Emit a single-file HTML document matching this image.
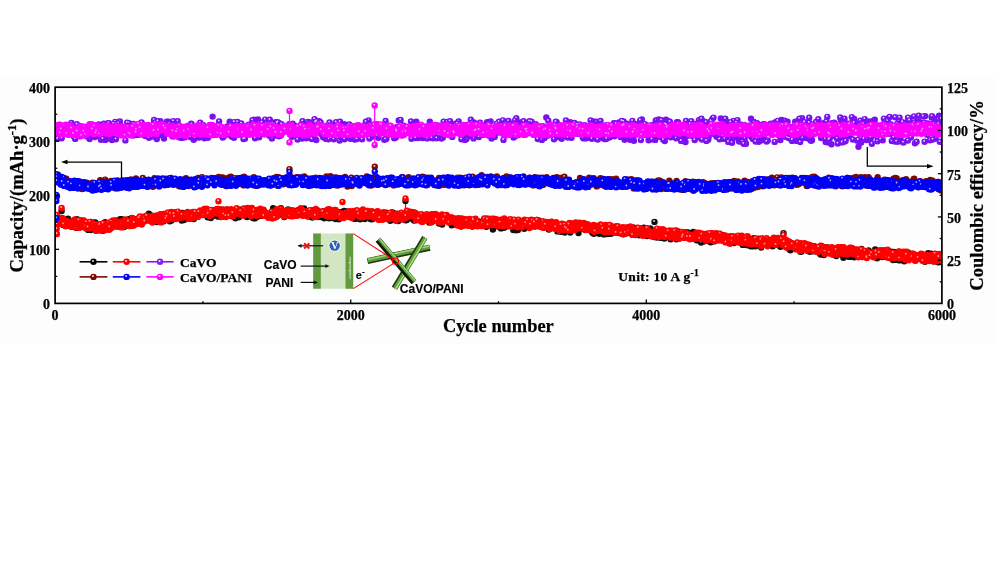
<!DOCTYPE html>
<html><head><meta charset="utf-8">
<style>
html,body{margin:0;padding:0;background:#fff;width:1000px;height:563px;overflow:hidden}
svg{display:block;will-change:transform}
.t{font-family:"Liberation Serif",serif;font-weight:bold;fill:#000;stroke:#000;stroke-width:0.25px}
.s{font-family:"Liberation Sans",Arial,sans-serif;font-weight:bold;fill:#000;stroke:#000;stroke-width:0.15px}
</style></head><body>
<svg width="1000" height="563" viewBox="0 0 1000 563">
<rect width="1000" height="563" fill="#fff"/>
<rect x="0" y="77" width="995" height="267" fill="#fdfdfd"/>
<!-- DATA -->
<defs><clipPath id="pc"><rect x="55.1" y="87.2" width="886.8" height="216.2"/></clipPath></defs>
<g id="plotdata" clip-path="url(#pc)">
<g stroke-linecap="round" fill="none">
<path d="M57.9 134.3h0M71.4 123.0h0M74.7 136.5h0M79.6 133.7h0M86.8 128.4h0M88.0 133.4h0M89.6 139.1h0M92.0 127.9h0M96.3 135.9h0M96.9 129.1h0M98.4 130.4h0M98.7 124.5h0M101.4 127.3h0M111.9 140.1h0M125.4 140.4h0M129.5 125.0h0M133.3 124.0h0M143.0 126.3h0M145.8 133.3h0M151.0 126.7h0M154.0 120.0h0M160.4 121.2h0M161.9 132.2h0M167.8 124.9h0M180.3 130.0h0M185.2 129.5h0M189.0 127.5h0M204.3 138.3h0M219.1 121.5h0M229.7 121.8h0M230.1 134.2h0M231.8 136.5h0M234.2 122.1h0M237.5 122.0h0M240.4 134.2h0M241.3 123.5h0M245.6 131.5h0M248.8 124.8h0M253.2 132.3h0M254.0 119.7h0M255.7 123.5h0M258.0 119.5h0M266.8 129.3h0M268.6 128.1h0M277.2 132.9h0M280.9 135.6h0M294.3 127.3h0M296.5 130.6h0M300.7 131.0h0M302.0 138.5h0M307.2 127.7h0M308.5 137.6h0M314.6 129.9h0M327.9 138.3h0M329.6 122.5h0M337.0 128.1h0M354.4 127.6h0M360.0 134.7h0M360.7 136.1h0M381.6 130.6h0M384.3 139.7h0M385.6 121.0h0M396.6 127.3h0M398.2 126.9h0M398.7 120.4h0M401.4 135.2h0M404.3 127.1h0M414.2 135.9h0M416.9 130.3h0M418.4 138.1h0M422.7 138.1h0M435.2 132.0h0M442.9 137.5h0M443.6 121.7h0M444.8 134.0h0M447.4 121.9h0M448.5 134.1h0M449.2 133.9h0M458.7 121.5h0M465.0 139.9h0M474.0 122.4h0M477.8 127.6h0M486.3 127.1h0M488.7 135.4h0M491.6 138.6h0M494.2 133.7h0M494.7 136.9h0M496.7 123.6h0M499.0 121.8h0M504.2 126.3h0M510.7 131.5h0M520.6 124.2h0M526.5 133.7h0M535.7 124.3h0M546.3 117.4h0M548.3 120.8h0M554.0 139.3h0M561.2 130.9h0M563.1 130.4h0M571.5 137.7h0M573.7 127.6h0M591.9 134.8h0M594.5 130.1h0M596.3 138.7h0M603.0 138.2h0M609.8 137.3h0M610.5 130.9h0M613.9 123.2h0M617.5 132.3h0M620.7 136.9h0M626.4 138.5h0M627.7 136.5h0M632.8 139.0h0M634.1 130.5h0M635.4 124.3h0M635.6 131.2h0M636.9 129.8h0M638.4 124.7h0M647.8 129.8h0M648.6 140.3h0M653.2 138.1h0M657.5 122.1h0M663.6 134.1h0M664.3 134.6h0M676.9 122.2h0M677.5 131.2h0M684.5 126.5h0M691.3 121.2h0M694.4 124.0h0M698.9 120.2h0M703.7 121.4h0M707.3 140.1h0M712.4 119.0h0M716.6 136.7h0M718.9 132.8h0M720.8 118.5h0M727.1 122.4h0M728.3 141.9h0M732.0 142.7h0M759.5 140.9h0M760.2 128.6h0M767.3 127.5h0M769.5 129.4h0M776.9 134.0h0M785.9 134.6h0M786.3 137.1h0M787.0 137.3h0M788.7 138.1h0M790.4 138.8h0M792.1 140.9h0M795.6 137.3h0M796.6 140.9h0M797.0 121.7h0M801.0 130.3h0M802.1 118.1h0M806.6 138.0h0M811.5 132.8h0M813.5 132.0h0M815.1 123.4h0M816.0 121.9h0M819.5 123.8h0M823.5 123.3h0M828.0 142.4h0M828.9 132.9h0M832.0 123.2h0M832.7 128.6h0M836.1 135.9h0M841.8 136.2h0M845.1 141.2h0M848.0 136.2h0M860.4 120.7h0M865.4 128.2h0M868.4 133.9h0M868.7 125.3h0M873.3 120.9h0M885.4 133.6h0M888.5 118.1h0M893.9 136.1h0M895.1 117.3h0M898.3 141.6h0M902.2 141.6h0M914.6 122.6h0M915.0 143.2h0M919.9 124.4h0M925.3 116.1h0M934.9 131.6h0" stroke="#7a12f0" stroke-width="6.4"/>
<path d="M71.0 122.1h0M74.3 135.6h0M79.2 132.8h0M86.4 127.5h0M87.6 132.5h0M89.2 138.2h0M91.6 127.0h0M95.9 135.0h0M96.5 128.2h0M98.0 129.5h0M98.3 123.6h0M101.0 126.4h0M125.0 139.5h0M129.1 124.1h0M132.9 123.1h0M142.6 125.4h0M145.4 132.4h0M153.6 119.1h0M160.0 120.3h0M161.5 131.3h0M167.4 124.0h0M179.9 129.1h0M188.6 126.6h0M203.9 137.4h0M218.7 120.6h0M229.7 133.3h0M231.4 135.6h0M233.8 121.2h0M237.1 121.1h0M240.9 122.6h0M245.2 130.6h0M248.4 123.9h0M252.8 131.4h0M253.6 118.8h0M255.3 122.6h0M276.8 132.0h0M293.9 126.4h0M300.3 130.1h0M301.6 137.6h0M306.8 126.8h0M308.1 136.7h0M314.2 129.0h0M327.5 137.4h0M329.2 121.6h0M336.6 127.2h0M354.0 126.7h0M359.6 133.8h0M360.3 135.2h0M381.2 129.7h0M383.9 138.8h0M385.2 120.1h0M397.8 126.0h0M403.9 126.2h0M416.5 129.4h0M418.0 137.2h0M422.3 137.2h0M434.8 131.1h0M442.5 136.6h0M443.2 120.8h0M444.4 133.1h0M447.0 121.0h0M448.1 133.2h0M458.3 120.6h0M464.6 139.0h0M477.4 126.7h0M485.9 126.2h0M488.3 134.5h0M494.3 136.0h0M496.3 122.7h0M498.6 120.9h0M503.8 125.4h0M520.2 123.3h0M526.1 132.8h0M535.3 123.4h0M547.9 119.9h0M553.6 138.4h0M560.8 130.0h0M562.7 129.5h0M571.1 136.8h0M595.9 137.8h0M602.6 137.3h0M609.4 136.4h0M610.1 130.0h0M613.5 122.3h0M617.1 131.4h0M620.3 136.0h0M626.0 137.6h0M627.3 135.6h0M632.4 138.1h0M633.7 129.6h0M636.5 128.9h0M638.0 123.8h0M647.4 128.9h0M648.2 139.4h0M652.8 137.2h0M663.9 133.7h0M676.5 121.3h0M677.1 130.3h0M690.9 120.3h0M694.0 123.1h0M698.5 119.3h0M703.3 120.5h0M706.9 139.2h0M712.0 118.1h0M718.5 131.9h0M726.7 121.5h0M727.9 141.0h0M731.6 141.8h0M759.1 140.0h0M766.9 126.6h0M776.5 133.1h0M785.9 136.2h0M786.6 136.4h0M788.3 137.2h0M790.0 137.9h0M796.6 120.8h0M800.6 129.4h0M801.7 117.2h0M811.1 131.9h0M813.1 131.1h0M815.6 121.0h0M827.6 141.5h0M828.5 132.0h0M831.6 122.3h0M832.3 127.7h0M835.7 135.0h0M844.7 140.3h0M847.6 135.3h0M860.0 119.8h0M865.0 127.3h0M868.0 133.0h0M872.9 120.0h0M885.0 132.7h0M888.1 117.2h0M894.7 116.4h0M914.2 121.7h0M914.6 142.3h0M924.9 115.2h0M934.5 130.7h0" stroke="#fff" stroke-opacity="0.85" stroke-width="1.8"/>
<path d="M67.8 134.4h0M69.4 134.6h0M73.0 125.6h0M100.9 139.8h0M105.8 135.3h0M106.2 129.2h0M109.6 128.9h0M114.6 124.2h0M115.2 121.9h0M121.1 126.2h0M135.5 126.5h0M142.4 124.5h0M159.7 132.7h0M162.9 128.7h0M164.0 138.6h0M166.8 121.8h0M170.3 128.5h0M172.6 136.4h0M176.1 129.2h0M176.8 125.9h0M177.4 131.2h0M179.5 136.7h0M181.6 137.9h0M182.4 133.5h0M183.9 136.2h0M184.6 137.4h0M193.7 139.7h0M200.2 122.8h0M215.2 128.3h0M222.0 135.7h0M225.2 135.2h0M242.3 134.4h0M242.6 134.9h0M251.6 128.2h0M265.1 119.6h0M267.2 133.0h0M267.8 126.8h0M269.8 119.8h0M279.2 123.1h0M285.1 131.0h0M286.3 130.0h0M287.5 129.4h0M291.4 126.2h0M298.8 137.0h0M304.7 131.2h0M305.3 125.2h0M307.8 121.9h0M318.3 125.1h0M321.8 134.4h0M324.3 127.2h0M326.0 138.9h0M327.4 127.6h0M328.4 139.2h0M330.6 137.9h0M332.2 125.6h0M332.7 132.2h0M339.6 140.6h0M352.0 128.0h0M353.8 126.3h0M367.3 134.2h0M368.6 120.4h0M370.8 132.4h0M371.3 136.4h0M387.0 130.7h0M389.4 128.8h0M405.7 129.2h0M410.2 133.3h0M411.5 138.7h0M420.3 127.7h0M420.9 131.4h0M424.2 134.9h0M428.6 130.1h0M429.8 121.7h0M433.2 138.2h0M434.0 126.2h0M440.1 127.6h0M441.4 138.5h0M451.5 135.4h0M453.6 127.1h0M454.8 128.8h0M462.9 132.4h0M466.0 130.1h0M466.5 139.0h0M470.8 119.8h0M473.6 138.4h0M490.6 121.5h0M493.5 132.5h0M498.5 127.5h0M503.5 139.9h0M513.6 137.5h0M516.3 118.3h0M536.1 130.6h0M537.7 139.1h0M557.4 137.1h0M561.7 138.8h0M568.8 135.4h0M574.5 123.0h0M575.0 132.8h0M579.4 131.0h0M581.6 126.4h0M581.8 128.5h0M589.8 129.2h0M595.9 121.7h0M599.8 126.6h0M605.6 139.1h0M615.0 123.4h0M620.0 127.3h0M624.0 126.7h0M638.2 124.8h0M647.1 135.3h0M649.8 131.4h0M655.8 120.4h0M660.1 122.4h0M664.8 141.1h0M668.2 135.6h0M671.4 133.7h0M672.0 125.9h0M674.3 136.8h0M675.0 127.7h0M683.3 128.5h0M687.6 126.0h0M695.7 130.2h0M697.1 134.7h0M704.9 130.6h0M711.9 131.9h0M714.8 132.2h0M716.3 135.4h0M733.5 120.9h0M738.7 140.7h0M744.5 138.4h0M745.1 142.2h0M749.5 133.2h0M751.5 137.3h0M752.9 139.1h0M754.2 124.1h0M758.7 141.8h0M761.5 140.3h0M763.5 124.3h0M770.7 123.6h0M773.4 131.0h0M775.5 122.3h0M787.6 121.8h0M801.2 124.6h0M803.3 126.1h0M811.0 140.7h0M815.9 129.6h0M820.7 133.2h0M822.0 132.8h0M839.4 137.3h0M842.1 142.4h0M843.7 141.7h0M844.5 118.7h0M846.5 134.2h0M848.2 123.8h0M858.5 146.8h0M862.1 123.0h0M871.8 136.6h0M872.7 131.7h0M876.5 128.7h0M877.3 131.5h0M882.7 140.2h0M884.7 122.5h0M891.8 140.9h0M893.0 132.5h0M894.6 141.4h0M897.1 124.0h0M898.8 120.8h0M914.0 116.4h0M917.5 121.8h0M925.9 130.8h0M926.7 128.4h0M928.5 125.4h0M936.3 131.7h0M937.2 119.4h0M939.1 115.6h0M939.8 141.8h0M941.3 118.9h0" stroke="#7a12f0" stroke-width="6.4"/>
<path d="M67.4 133.5h0M69.0 133.7h0M72.6 124.7h0M100.5 138.9h0M105.4 134.4h0M105.8 128.3h0M109.2 128.0h0M114.2 123.3h0M114.8 121.0h0M120.7 125.3h0M135.1 125.6h0M159.3 131.8h0M166.4 120.9h0M169.9 127.6h0M172.2 135.5h0M175.7 128.3h0M176.4 125.0h0M177.0 130.3h0M179.1 135.8h0M181.2 137.0h0M183.5 135.3h0M199.8 121.9h0M214.8 127.4h0M224.8 134.3h0M251.2 127.3h0M264.7 118.7h0M266.8 132.1h0M267.4 125.9h0M269.4 118.9h0M285.9 129.1h0M287.1 128.5h0M298.4 136.1h0M304.3 130.3h0M307.4 121.0h0M317.9 124.2h0M321.4 133.5h0M323.9 126.3h0M325.6 138.0h0M328.0 138.3h0M330.2 137.0h0M331.8 124.7h0M332.3 131.3h0M339.2 139.7h0M351.6 127.1h0M353.4 125.4h0M366.9 133.3h0M368.2 119.5h0M370.4 131.5h0M386.6 129.8h0M389.0 127.9h0M405.3 128.3h0M409.8 132.4h0M411.1 137.8h0M420.5 130.5h0M423.8 134.0h0M428.2 129.2h0M432.8 137.3h0M433.6 125.3h0M439.7 126.7h0M441.0 137.6h0M451.1 134.5h0M453.2 126.2h0M454.4 127.9h0M462.5 131.5h0M465.6 129.2h0M466.1 138.1h0M470.4 118.9h0M473.2 137.5h0M493.1 131.6h0M498.1 126.6h0M503.1 139.0h0M513.2 136.6h0M515.9 117.4h0M535.7 129.7h0M537.3 138.2h0M557.0 136.2h0M561.3 137.9h0M568.4 134.5h0M574.1 122.1h0M574.6 131.9h0M579.0 130.1h0M581.2 125.5h0M581.4 127.6h0M589.4 128.3h0M595.5 120.8h0M599.4 125.7h0M605.2 138.2h0M619.6 126.4h0M623.6 125.8h0M646.7 134.4h0M649.4 130.5h0M659.7 121.5h0M664.4 140.2h0M667.8 134.7h0M671.0 132.8h0M671.6 125.0h0M674.6 126.8h0M682.9 127.6h0M687.2 125.1h0M695.3 129.3h0M696.7 133.8h0M704.5 129.7h0M714.4 131.3h0M715.9 134.5h0M733.1 120.0h0M738.3 139.8h0M744.1 137.5h0M744.7 141.3h0M751.1 136.4h0M752.5 138.2h0M758.3 140.9h0M761.1 139.4h0M763.1 123.4h0M770.3 122.7h0M775.1 121.4h0M800.8 123.7h0M802.9 125.2h0M810.6 139.8h0M820.3 132.3h0M821.6 131.9h0M841.7 141.5h0M843.3 140.8h0M844.1 117.8h0M846.1 133.3h0M847.8 122.9h0M861.7 122.1h0M871.4 135.7h0M872.3 130.8h0M876.1 127.8h0M882.3 139.3h0M884.3 121.6h0M891.4 140.0h0M892.6 131.6h0M896.7 123.1h0M898.4 119.9h0M913.6 115.5h0M925.5 129.9h0M926.3 127.5h0M928.1 124.5h0M936.8 118.5h0M939.4 140.9h0M940.9 118.0h0" stroke="#fff" stroke-opacity="0.85" stroke-width="1.8"/>
<path d="M57.6 138.8h0M62.7 128.4h0M66.3 125.8h0M67.2 134.1h0M77.5 136.3h0M90.8 135.0h0M97.7 127.5h0M99.6 126.7h0M103.8 123.7h0M105.3 139.9h0M109.2 127.8h0M115.9 139.2h0M119.9 121.5h0M123.2 131.6h0M124.9 134.3h0M130.3 126.0h0M137.3 134.9h0M143.8 125.8h0M145.3 135.9h0M147.6 125.8h0M153.7 123.6h0M155.2 136.3h0M162.2 133.2h0M166.0 134.0h0M168.4 121.6h0M174.2 136.3h0M187.9 130.2h0M193.0 130.2h0M198.0 128.6h0M199.0 137.5h0M206.1 133.0h0M216.9 128.3h0M237.7 134.2h0M243.5 139.0h0M244.9 138.8h0M257.3 126.1h0M263.8 134.0h0M284.0 129.2h0M319.2 121.3h0M319.8 130.8h0M323.2 137.3h0M324.9 137.4h0M335.5 125.1h0M340.9 127.3h0M343.2 137.7h0M346.2 135.6h0M351.0 138.4h0M352.0 134.5h0M356.3 132.0h0M365.4 124.3h0M365.9 121.7h0M372.3 136.5h0M409.7 130.0h0M417.5 134.6h0M420.0 131.9h0M421.7 131.0h0M427.8 126.6h0M429.3 137.2h0M431.8 138.0h0M435.9 133.8h0M437.5 137.9h0M442.4 128.9h0M459.6 129.4h0M461.4 139.3h0M463.5 137.6h0M464.0 128.7h0M470.5 135.9h0M476.1 133.8h0M478.9 137.0h0M480.1 122.6h0M481.3 124.8h0M482.9 134.8h0M487.1 122.3h0M491.9 128.3h0M500.7 125.5h0M502.9 120.4h0M506.8 128.1h0M508.4 121.0h0M512.5 124.1h0M515.2 136.3h0M518.2 135.0h0M521.5 128.3h0M527.9 122.7h0M529.5 121.3h0M531.6 121.7h0M541.9 139.9h0M542.4 133.6h0M552.5 126.3h0M556.7 122.3h0M558.3 134.9h0M567.8 137.6h0M568.3 134.8h0M569.4 129.2h0M570.8 129.6h0M573.1 132.9h0M576.4 126.8h0M590.6 120.5h0M592.6 121.1h0M602.6 135.4h0M614.4 136.3h0M619.2 122.4h0M632.4 120.9h0M640.9 140.1h0M646.7 134.7h0M666.0 119.8h0M669.0 121.4h0M672.9 132.0h0M676.1 138.2h0M679.1 132.7h0M680.3 125.4h0M681.3 135.6h0M685.5 142.0h0M690.1 124.1h0M694.0 126.1h0M704.8 135.9h0M706.1 122.2h0M710.0 124.7h0M715.4 133.5h0M723.1 123.8h0M725.3 118.8h0M725.4 122.5h0M726.6 136.6h0M727.7 124.7h0M729.6 129.6h0M730.6 122.2h0M732.8 138.2h0M734.8 128.4h0M735.0 136.8h0M740.7 138.2h0M746.0 143.7h0M750.0 125.4h0M755.2 133.1h0M755.6 141.6h0M764.3 125.6h0M774.3 123.3h0M775.9 129.0h0M778.3 127.9h0M779.9 131.3h0M784.5 120.7h0M799.4 118.7h0M800.2 142.1h0M809.2 117.8h0M812.0 140.3h0M812.9 134.6h0M824.6 126.6h0M825.0 139.1h0M825.7 141.9h0M834.1 122.6h0M840.9 120.1h0M848.8 135.2h0M850.2 131.7h0M852.4 122.3h0M856.9 140.6h0M864.7 119.1h0M870.2 140.0h0M874.8 119.8h0M875.9 130.2h0M878.0 138.1h0M880.0 138.2h0M880.7 137.0h0M881.9 130.8h0M883.9 118.6h0M886.2 127.1h0M887.6 120.8h0M893.6 137.5h0M899.6 117.6h0M900.3 137.8h0M902.5 122.1h0M905.0 123.1h0M905.7 122.7h0M905.9 130.5h0M907.9 140.5h0M908.0 117.6h0M909.0 118.0h0M910.8 137.5h0M912.4 132.8h0M913.2 133.6h0M919.0 121.6h0M921.3 127.8h0M922.7 128.5h0M924.1 122.8h0M935.5 138.5h0M937.3 126.4h0M940.4 127.9h0" stroke="#7a12f0" stroke-width="6.4"/>
<path d="M57.2 137.9h0M62.3 127.5h0M65.9 124.9h0M66.8 133.2h0M77.1 135.4h0M97.3 126.6h0M99.2 125.8h0M103.4 122.8h0M108.8 126.9h0M115.5 138.3h0M119.5 120.6h0M122.8 130.7h0M124.5 133.4h0M136.9 134.0h0M147.2 124.9h0M153.3 122.7h0M161.8 132.3h0M165.6 133.1h0M173.8 135.4h0M187.5 129.3h0M192.6 129.3h0M197.6 127.7h0M205.7 132.1h0M216.5 127.4h0M237.3 133.3h0M243.1 138.1h0M244.5 137.9h0M256.9 125.2h0M263.4 133.1h0M283.6 128.3h0M318.8 120.4h0M319.4 129.9h0M322.8 136.4h0M324.5 136.5h0M335.1 124.2h0M342.8 136.8h0M345.8 134.7h0M351.6 133.6h0M365.0 123.4h0M365.5 120.8h0M371.9 135.6h0M417.1 133.7h0M419.6 131.0h0M421.3 130.1h0M428.9 136.3h0M431.4 137.1h0M435.5 132.9h0M437.1 137.0h0M461.0 138.4h0M463.6 127.8h0M470.1 135.0h0M475.7 132.9h0M478.5 136.1h0M479.7 121.7h0M480.9 123.9h0M491.5 127.4h0M500.3 124.6h0M502.5 119.5h0M506.4 127.2h0M508.0 120.1h0M512.1 123.2h0M517.8 134.1h0M521.1 127.4h0M529.1 120.4h0M531.2 120.8h0M541.5 139.0h0M542.0 132.7h0M556.3 121.4h0M557.9 134.0h0M567.4 136.7h0M567.9 133.9h0M572.7 132.0h0M576.0 125.9h0M590.2 119.6h0M614.0 135.4h0M632.0 120.0h0M640.5 139.2h0M646.3 133.8h0M668.6 120.5h0M672.5 131.1h0M675.7 137.3h0M678.7 131.8h0M680.9 134.7h0M685.1 141.1h0M689.7 123.2h0M693.6 125.2h0M705.7 121.3h0M715.0 132.6h0M722.7 122.9h0M724.9 117.9h0M726.2 135.7h0M730.2 121.3h0M734.4 127.5h0M734.6 135.9h0M740.3 137.3h0M745.6 142.8h0M754.8 132.2h0M755.2 140.7h0M763.9 124.7h0M773.9 122.4h0M777.9 127.0h0M779.5 130.4h0M784.1 119.8h0M799.0 117.8h0M799.8 141.2h0M808.8 116.9h0M811.6 139.4h0M812.5 133.7h0M824.2 125.7h0M824.6 138.2h0M833.7 121.7h0M840.5 119.2h0M849.8 130.8h0M852.0 121.4h0M864.3 118.2h0M869.8 139.1h0M877.6 137.2h0M879.6 137.3h0M881.5 129.9h0M883.5 117.7h0M885.8 126.2h0M887.2 119.9h0M893.2 136.6h0M899.2 116.7h0M899.9 136.9h0M902.1 121.2h0M905.5 129.6h0M907.5 139.6h0M907.6 116.7h0M908.6 117.1h0M910.4 136.6h0M912.0 131.9h0M912.8 132.7h0M920.9 126.9h0M922.3 127.6h0M923.7 121.9h0M935.1 137.6h0M936.9 125.5h0M940.0 127.0h0" stroke="#fff" stroke-opacity="0.85" stroke-width="1.8"/>
<path d="M73.7 136.3h0M75.2 138.9h0M75.8 133.3h0M76.9 124.3h0M79.3 134.7h0M80.4 136.2h0M82.3 130.3h0M87.1 136.6h0M90.0 124.5h0M104.2 138.8h0M110.3 138.8h0M112.3 134.9h0M122.4 130.7h0M141.0 134.4h0M144.9 134.8h0M149.0 137.8h0M149.3 131.4h0M169.2 124.1h0M175.2 131.1h0M177.7 121.2h0M178.9 137.3h0M186.5 129.7h0M191.2 123.8h0M195.0 137.9h0M197.3 126.7h0M202.4 135.1h0M203.4 125.1h0M208.0 137.7h0M213.5 128.7h0M224.4 134.2h0M234.0 137.7h0M236.3 130.2h0M250.0 126.9h0M252.4 120.3h0M259.6 122.8h0M260.9 126.4h0M264.4 132.4h0M265.5 124.3h0M274.3 127.3h0M275.5 122.2h0M279.1 136.3h0M283.8 129.6h0M285.3 129.2h0M286.6 129.9h0M290.1 126.3h0M292.7 123.7h0M294.9 125.8h0M297.6 139.6h0M301.1 124.7h0M304.1 132.5h0M306.2 138.2h0M312.9 137.0h0M343.0 134.2h0M344.3 124.1h0M346.9 127.2h0M354.8 139.6h0M364.2 125.6h0M369.4 138.6h0M378.3 137.7h0M380.4 132.7h0M382.1 132.1h0M391.5 130.8h0M394.2 138.2h0M402.7 131.3h0M406.8 128.2h0M411.0 121.5h0M413.8 134.8h0M415.6 138.0h0M419.3 132.7h0M423.2 136.6h0M438.9 135.0h0M441.1 135.1h0M452.3 136.9h0M455.5 123.6h0M465.6 125.3h0M468.7 135.0h0M478.2 124.4h0M481.6 130.0h0M506.2 124.2h0M511.8 125.1h0M516.1 133.9h0M518.8 133.7h0M525.7 129.1h0M533.0 132.6h0M543.0 126.3h0M548.2 135.5h0M551.6 130.0h0M555.8 121.8h0M578.5 125.8h0M580.9 132.7h0M583.8 138.4h0M585.4 135.3h0M599.0 129.1h0M604.7 139.0h0M608.4 134.3h0M609.5 134.4h0M626.8 123.8h0M629.7 130.2h0M631.8 129.8h0M643.8 128.1h0M644.5 132.3h0M651.4 125.5h0M653.0 132.6h0M655.2 139.9h0M656.6 120.4h0M657.9 134.7h0M661.1 137.2h0M663.3 139.8h0M666.6 134.2h0M678.5 135.1h0M684.2 141.2h0M686.0 121.0h0M691.6 135.7h0M694.7 140.0h0M696.4 133.4h0M698.1 137.3h0M700.4 122.3h0M702.0 139.6h0M702.7 132.8h0M708.3 139.5h0M708.7 137.1h0M710.8 132.8h0M711.1 121.1h0M717.8 131.6h0M718.5 133.5h0M724.4 138.9h0M736.3 126.7h0M737.5 120.1h0M739.4 141.6h0M742.5 141.7h0M748.3 128.4h0M752.2 135.5h0M753.9 122.0h0M759.2 140.1h0M761.5 124.9h0M765.0 124.4h0M765.6 140.3h0M767.8 140.4h0M768.4 127.8h0M770.2 132.4h0M772.1 124.7h0M774.7 141.9h0M777.7 120.9h0M778.7 134.9h0M780.4 140.1h0M782.4 135.3h0M782.7 131.0h0M788.9 131.2h0M791.4 127.3h0M806.2 127.2h0M809.9 139.4h0M817.1 127.5h0M828.9 139.7h0M829.7 138.5h0M831.5 144.2h0M834.6 136.0h0M837.0 138.5h0M840.2 117.5h0M842.8 134.0h0M849.9 135.8h0M851.3 124.1h0M854.2 119.0h0M856.1 130.9h0M859.9 127.6h0M861.2 142.6h0M863.5 124.0h0M866.4 122.7h0M866.5 140.1h0M867.4 133.5h0M869.3 121.5h0M874.4 133.0h0M877.5 141.2h0M883.4 129.1h0M889.9 133.8h0M896.3 126.0h0M909.4 120.4h0M915.5 124.9h0M916.6 141.7h0M927.2 134.7h0M927.9 123.5h0M931.7 117.6h0M934.1 118.5h0" stroke="#7a12f0" stroke-width="6.4"/>
<path d="M74.8 138.0h0M75.4 132.4h0M76.5 123.4h0M78.9 133.8h0M80.0 135.3h0M81.9 129.4h0M86.7 135.7h0M89.6 123.6h0M103.8 137.9h0M111.9 134.0h0M122.0 129.8h0M140.6 133.5h0M144.5 133.9h0M148.6 136.9h0M148.9 130.5h0M168.8 123.2h0M174.8 130.2h0M177.3 120.3h0M186.1 128.8h0M190.8 122.9h0M194.6 137.0h0M196.9 125.8h0M202.0 134.2h0M203.0 124.2h0M207.6 136.8h0M213.1 127.8h0M224.0 133.3h0M233.6 136.8h0M249.6 126.0h0M252.0 119.4h0M259.2 121.9h0M260.5 125.5h0M264.0 131.5h0M265.1 123.4h0M273.9 126.4h0M278.7 135.4h0M283.4 128.7h0M284.9 128.3h0M286.2 129.0h0M289.7 125.4h0M292.3 122.8h0M294.5 124.9h0M297.2 138.7h0M300.7 123.8h0M305.8 137.3h0M342.6 133.3h0M346.5 126.3h0M354.4 138.7h0M363.8 124.7h0M369.0 137.7h0M377.9 136.8h0M380.0 131.8h0M381.7 131.2h0M391.1 129.9h0M393.8 137.3h0M402.3 130.4h0M406.4 127.3h0M410.6 120.6h0M413.4 133.9h0M415.2 137.1h0M418.9 131.8h0M422.8 135.7h0M438.5 134.1h0M440.7 134.2h0M451.9 136.0h0M455.1 122.7h0M468.3 134.1h0M481.2 129.1h0M505.8 123.3h0M511.4 124.2h0M515.7 133.0h0M525.3 128.2h0M532.6 131.7h0M542.6 125.4h0M551.2 129.1h0M555.4 120.9h0M578.1 124.9h0M580.5 131.8h0M583.4 137.5h0M585.0 134.4h0M608.0 133.4h0M609.1 133.5h0M626.4 122.9h0M643.4 127.2h0M644.1 131.4h0M651.0 124.6h0M652.6 131.7h0M656.2 119.5h0M657.5 133.8h0M660.7 136.3h0M662.9 138.9h0M685.6 120.1h0M691.2 134.8h0M694.3 139.1h0M696.0 132.5h0M697.7 136.4h0M700.0 121.4h0M701.6 138.7h0M702.3 131.9h0M707.9 138.6h0M710.4 131.9h0M710.7 120.2h0M717.4 130.7h0M718.1 132.6h0M724.0 138.0h0M735.9 125.8h0M737.1 119.2h0M742.1 140.8h0M747.9 127.5h0M751.8 134.6h0M753.5 121.1h0M761.1 124.0h0M764.6 123.5h0M765.2 139.4h0M767.4 139.5h0M768.0 126.9h0M769.8 131.5h0M774.3 141.0h0M777.3 120.0h0M778.3 134.0h0M780.0 139.2h0M788.5 130.3h0M791.0 126.4h0M805.8 126.3h0M816.7 126.6h0M828.5 138.8h0M829.3 137.6h0M834.2 135.1h0M836.6 137.6h0M839.8 116.6h0M842.4 133.1h0M849.5 134.9h0M850.9 123.2h0M853.8 118.1h0M855.7 130.0h0M859.5 126.7h0M863.1 123.1h0M866.1 139.2h0M877.1 140.3h0M883.0 128.2h0M889.5 132.9h0M895.9 125.1h0M909.0 119.5h0M915.1 124.0h0M916.2 140.8h0M926.8 133.8h0M931.3 116.7h0M933.7 117.6h0" stroke="#fff" stroke-opacity="0.85" stroke-width="1.8"/>
<path d="M62.1 126.5h0M64.0 134.3h0M64.8 129.6h0M69.3 125.0h0M82.1 133.2h0M84.2 126.6h0M85.5 129.8h0M94.8 137.1h0M95.8 130.3h0M100.1 126.7h0M102.8 138.9h0M108.1 123.1h0M113.5 123.9h0M117.0 124.8h0M118.3 123.2h0M118.7 133.7h0M127.1 122.8h0M129.0 123.3h0M134.5 128.4h0M138.5 126.0h0M140.6 132.9h0M152.1 136.5h0M155.1 122.6h0M156.8 139.0h0M159.1 135.2h0M187.6 126.0h0M191.6 124.3h0M202.0 127.4h0M208.7 135.4h0M214.3 129.6h0M215.0 126.5h0M222.8 137.6h0M223.3 136.9h0M227.5 126.4h0M235.6 126.5h0M247.8 130.2h0M253.3 123.4h0M256.5 129.6h0M258.6 136.6h0M271.9 138.6h0M272.4 123.7h0M277.0 123.0h0M277.8 122.3h0M281.5 124.3h0M282.7 131.0h0M289.2 124.1h0M292.9 125.4h0M303.3 123.7h0M311.8 139.1h0M314.5 119.1h0M315.4 122.4h0M316.3 140.0h0M316.6 121.3h0M322.6 128.1h0M323.9 136.4h0M338.9 130.5h0M341.3 137.6h0M344.5 139.2h0M348.3 125.9h0M349.4 124.5h0M350.4 138.8h0M355.8 127.3h0M358.1 126.3h0M374.4 129.1h0M376.8 135.4h0M386.4 138.8h0M395.8 137.5h0M400.6 119.9h0M403.6 125.6h0M426.1 135.8h0M430.7 126.8h0M435.1 127.1h0M436.6 138.2h0M437.9 125.4h0M446.0 124.8h0M460.1 133.9h0M472.4 123.1h0M475.5 131.2h0M492.9 131.8h0M497.2 132.5h0M505.5 124.2h0M514.8 120.6h0M527.4 131.0h0M540.2 127.8h0M541.1 131.8h0M544.5 137.9h0M545.9 129.8h0M549.7 133.6h0M555.1 129.8h0M558.8 136.9h0M559.2 131.7h0M565.9 120.5h0M566.1 122.1h0M575.5 129.8h0M577.7 133.7h0M586.5 138.2h0M587.6 136.2h0M590.3 133.2h0M591.8 138.7h0M596.7 125.9h0M597.7 139.6h0M601.5 132.3h0M605.5 125.5h0M608.2 137.6h0M611.4 130.4h0M622.7 133.4h0M628.0 129.7h0M630.9 138.7h0M641.9 119.5h0M654.0 124.7h0M662.1 126.0h0M667.2 136.1h0M667.9 136.3h0M669.9 121.8h0M670.8 137.3h0M681.1 140.9h0M682.7 139.4h0M688.5 128.9h0M692.7 130.1h0M701.4 118.8h0M709.1 130.2h0M714.0 134.1h0M720.5 138.7h0M721.8 124.0h0M722.2 126.9h0M723.6 122.1h0M736.4 122.7h0M738.2 126.9h0M739.8 136.5h0M741.2 124.6h0M744.4 130.3h0M751.0 118.8h0M756.6 130.0h0M757.7 133.1h0M766.6 141.5h0M771.1 126.3h0M783.7 134.3h0M785.0 128.8h0M792.2 139.9h0M793.5 138.2h0M794.2 131.5h0M795.2 121.7h0M802.4 138.1h0M804.4 130.6h0M807.7 134.1h0M808.0 135.5h0M809.1 122.8h0M818.0 129.7h0M818.3 119.2h0M819.2 126.7h0M821.1 138.0h0M822.7 134.2h0M823.4 132.9h0M826.4 121.4h0M830.5 132.6h0M835.1 123.8h0M838.8 133.9h0M845.6 140.8h0M847.0 128.8h0M851.8 117.1h0M852.8 139.5h0M855.5 123.6h0M863.8 138.9h0M871.9 143.7h0M878.9 128.2h0M880.5 139.3h0M891.6 127.9h0M896.5 141.5h0M900.5 125.8h0M901.2 129.9h0M903.5 142.6h0M911.6 129.2h0M924.6 141.8h0M929.4 129.4h0M930.0 140.2h0M931.0 124.2h0M932.0 116.2h0M933.8 123.8h0M938.6 124.0h0" stroke="#7a12f0" stroke-width="6.4"/>
<path d="M68.9 124.1h0M85.1 128.9h0M95.4 129.4h0M99.7 125.8h0M102.4 138.0h0M107.7 122.2h0M113.1 123.0h0M116.6 123.9h0M117.9 122.3h0M118.3 132.8h0M126.7 121.9h0M128.6 122.4h0M138.1 125.1h0M140.2 132.0h0M151.7 135.6h0M154.7 121.7h0M158.7 134.3h0M191.2 123.4h0M201.6 126.5h0M208.3 134.5h0M213.9 128.7h0M214.6 125.6h0M222.4 136.7h0M222.9 136.0h0M247.4 129.3h0M252.9 122.5h0M256.1 128.7h0M258.2 135.7h0M271.5 137.7h0M272.0 122.8h0M276.6 122.1h0M277.4 121.4h0M281.1 123.4h0M282.3 130.1h0M292.5 124.5h0M302.9 122.8h0M311.4 138.2h0M314.1 118.2h0M315.0 121.5h0M316.2 120.4h0M322.2 127.2h0M323.5 135.5h0M344.1 138.3h0M347.9 125.0h0M349.0 123.6h0M376.4 134.5h0M386.0 137.9h0M395.4 136.6h0M400.2 119.0h0M403.2 124.7h0M425.7 134.9h0M434.7 126.2h0M436.2 137.3h0M437.5 124.5h0M445.6 123.9h0M472.0 122.2h0M475.1 130.3h0M496.8 131.6h0M505.1 123.3h0M514.4 119.7h0M527.0 130.1h0M539.8 126.9h0M540.7 130.9h0M545.5 128.9h0M549.3 132.7h0M554.7 128.9h0M558.8 130.8h0M565.5 119.6h0M575.1 128.9h0M577.3 132.8h0M587.2 135.3h0M589.9 132.3h0M591.4 137.8h0M596.3 125.0h0M597.3 138.7h0M601.1 131.4h0M605.1 124.6h0M611.0 129.5h0M622.3 132.5h0M627.6 128.8h0M630.5 137.8h0M666.8 135.2h0M667.5 135.4h0M669.5 120.9h0M680.7 140.0h0M688.1 128.0h0M692.3 129.2h0M701.0 117.9h0M708.7 129.3h0M720.1 137.8h0M721.4 123.1h0M736.0 121.8h0M737.8 126.0h0M739.4 135.6h0M740.8 123.7h0M756.2 129.1h0M757.3 132.2h0M766.2 140.6h0M770.7 125.4h0M783.3 133.4h0M791.8 139.0h0M793.1 137.3h0M793.8 130.6h0M802.0 137.2h0M807.3 133.2h0M807.6 134.6h0M808.7 121.9h0M817.6 128.8h0M817.9 118.3h0M818.8 125.8h0M820.7 137.1h0M822.3 133.3h0M823.0 132.0h0M826.0 120.5h0M830.1 131.7h0M838.4 133.0h0M845.2 139.9h0M846.6 127.9h0M851.4 116.2h0M852.4 138.6h0M855.1 122.7h0M863.4 138.0h0M871.5 142.8h0M880.1 138.4h0M891.2 127.0h0M896.1 140.6h0M900.1 124.9h0M903.1 141.7h0M911.2 128.3h0M924.2 140.9h0M929.6 139.3h0M930.6 123.3h0M931.6 115.3h0M933.4 122.9h0M938.2 123.1h0" stroke="#fff" stroke-opacity="0.85" stroke-width="1.8"/>
<path d="M56.1 131.6h0M59.7 124.6h0M61.0 132.5h0M61.7 138.3h0M68.3 130.4h0M76.4 133.1h0M78.3 134.4h0M83.1 126.9h0M86.1 127.4h0M88.7 133.3h0M102.6 125.4h0M108.7 123.1h0M119.4 130.1h0M120.9 135.0h0M124.4 130.1h0M128.3 125.8h0M133.3 135.5h0M141.6 122.5h0M151.5 132.1h0M157.8 121.3h0M161.0 126.2h0M166.6 130.5h0M171.8 127.6h0M173.3 121.1h0M181.7 126.6h0M183.1 137.3h0M190.1 137.1h0M196.6 134.5h0M205.4 137.5h0M211.6 128.1h0M212.2 127.2h0M212.6 116.6h0M215.8 127.4h0M217.3 133.0h0M231.3 136.0h0M232.8 136.7h0M255.1 138.2h0M259.2 137.3h0M260.5 124.8h0M261.9 122.5h0M269.4 135.7h0M274.5 131.9h0M276.3 135.5h0M292.0 136.8h0M293.7 131.5h0M299.7 129.1h0M302.5 121.2h0M309.8 122.4h0M320.6 122.5h0M329.5 127.6h0M333.8 139.2h0M336.1 122.2h0M340.0 121.7h0M356.9 139.1h0M362.1 139.3h0M370.3 125.0h0M377.8 129.3h0M379.0 127.7h0M385.4 139.2h0M389.8 134.3h0M397.6 128.4h0M416.3 121.7h0M426.8 129.8h0M427.2 138.4h0M432.5 126.6h0M450.0 121.2h0M450.3 125.5h0M457.4 123.5h0M458.1 127.8h0M467.3 131.4h0M469.5 125.6h0M473.2 124.8h0M475.2 125.7h0M483.9 131.5h0M485.2 134.2h0M488.1 124.5h0M500.4 129.8h0M512.9 126.9h0M517.3 121.9h0M521.7 122.1h0M523.6 121.2h0M526.0 126.3h0M530.9 128.2h0M543.7 132.9h0M560.1 131.7h0M561.9 126.9h0M564.4 133.8h0M570.2 122.2h0M577.4 124.8h0M579.9 124.4h0M582.8 137.6h0M584.6 125.1h0M588.5 135.0h0M593.4 126.5h0M600.5 121.0h0M606.5 138.7h0M616.2 123.9h0M616.7 124.3h0M621.7 120.9h0M623.6 121.5h0M624.6 139.8h0M630.2 139.7h0M633.9 140.8h0M636.3 134.5h0M640.2 120.4h0M645.0 124.1h0M645.7 133.9h0M649.1 137.9h0M651.1 133.7h0M651.9 139.3h0M658.8 119.4h0M661.4 120.2h0M678.0 122.3h0M682.4 127.6h0M687.0 136.1h0M689.2 133.6h0M698.8 124.5h0M706.4 140.9h0M713.5 117.6h0M719.6 139.3h0M730.9 125.4h0M734.2 136.4h0M741.8 128.4h0M743.6 143.7h0M746.6 126.3h0M747.3 135.1h0M748.8 130.2h0M757.0 123.2h0M762.4 138.2h0M763.5 137.4h0M772.8 124.4h0M780.8 137.3h0M781.5 120.0h0M789.9 134.0h0M793.9 127.0h0M797.8 137.3h0M798.5 136.0h0M804.5 122.1h0M805.7 132.9h0M814.3 127.1h0M827.3 116.9h0M833.5 134.8h0M837.5 128.3h0M837.8 143.5h0M854.0 122.7h0M856.4 129.8h0M858.1 139.9h0M859.0 140.7h0M862.9 133.6h0M870.7 137.5h0M885.7 127.6h0M887.3 125.6h0M889.6 116.9h0M890.6 124.3h0M904.4 126.8h0M906.8 129.1h0M910.6 132.7h0M917.5 124.3h0M918.7 115.7h0M920.6 127.6h0M922.3 130.6h0M923.2 116.4h0M932.9 139.5h0" stroke="#7a12f0" stroke-width="6.4"/>
<path d="M55.7 130.7h0M60.6 131.6h0M61.3 137.4h0M67.9 129.5h0M76.0 132.2h0M77.9 133.5h0M82.7 126.0h0M85.7 126.5h0M88.3 132.4h0M102.2 124.5h0M108.3 122.2h0M124.0 129.2h0M132.9 134.6h0M141.2 121.6h0M151.1 131.2h0M157.4 120.4h0M160.6 125.3h0M166.2 129.6h0M171.4 126.7h0M172.9 120.2h0M181.3 125.7h0M189.7 136.2h0M196.2 133.6h0M215.4 126.5h0M216.9 132.1h0M230.9 135.1h0M232.4 135.8h0M254.7 137.3h0M258.8 136.4h0M260.1 123.9h0M261.5 121.6h0M269.0 134.8h0M274.1 131.0h0M275.9 134.6h0M291.6 135.9h0M299.3 128.2h0M302.1 120.3h0M320.2 121.6h0M329.1 126.7h0M333.4 138.3h0M335.7 121.3h0M339.6 120.8h0M356.5 138.2h0M361.7 138.4h0M369.9 124.1h0M377.4 128.4h0M378.6 126.8h0M385.0 138.3h0M389.4 133.4h0M397.2 127.5h0M426.8 137.5h0M432.1 125.7h0M449.6 120.3h0M449.9 124.6h0M457.0 122.6h0M457.7 126.9h0M466.9 130.5h0M469.1 124.7h0M472.8 123.9h0M474.8 124.8h0M483.5 130.6h0M484.8 133.3h0M512.5 126.0h0M523.2 120.3h0M525.6 125.4h0M543.3 132.0h0M559.7 130.8h0M577.0 123.9h0M579.5 123.5h0M582.4 136.7h0M584.2 124.2h0M588.1 134.1h0M593.0 125.6h0M600.1 120.1h0M606.1 137.8h0M615.8 123.0h0M616.3 123.4h0M621.3 120.0h0M623.2 120.6h0M635.9 133.6h0M639.8 119.5h0M644.6 123.2h0M650.7 132.8h0M651.5 138.4h0M661.0 119.3h0M682.0 126.7h0M686.6 135.2h0M688.8 132.7h0M698.4 123.6h0M706.0 140.0h0M713.1 116.7h0M719.2 138.4h0M730.5 124.5h0M733.8 135.5h0M741.4 127.5h0M743.2 142.8h0M746.9 134.2h0M748.4 129.3h0M756.6 122.3h0M772.4 123.5h0M780.4 136.4h0M789.5 133.1h0M797.4 136.4h0M798.1 135.1h0M804.1 121.2h0M805.3 132.0h0M826.9 116.0h0M833.1 133.9h0M837.1 127.4h0M837.4 142.6h0M853.6 121.8h0M856.0 128.9h0M857.7 139.0h0M870.3 136.6h0M886.9 124.7h0M889.2 116.0h0M890.2 123.4h0M904.0 125.9h0M910.2 131.8h0M917.1 123.4h0M918.3 114.8h0M920.2 126.7h0M921.9 129.7h0M922.8 115.5h0M932.5 138.6h0" stroke="#fff" stroke-opacity="0.85" stroke-width="1.8"/>
</g>
<g stroke-linecap="round" fill="none">
<path d="M57.0 125.9h0M58.9 127.5h0M60.8 125.3h0M64.5 126.2h0M65.8 124.7h0M66.5 127.6h0M68.6 134.6h0M69.5 134.2h0M70.0 127.7h0M70.7 125.5h0M72.5 132.0h0M73.6 128.5h0M74.3 132.7h0M79.5 128.9h0M84.2 129.3h0M88.8 130.3h0M91.8 124.2h0M102.5 128.4h0M103.0 128.1h0M104.2 126.9h0M109.8 130.3h0M115.1 128.4h0M117.3 126.7h0M122.0 132.1h0M126.0 127.2h0M130.4 135.4h0M131.4 135.1h0M137.2 131.3h0M139.3 131.7h0M141.2 129.4h0M143.5 133.8h0M144.8 129.6h0M145.0 128.6h0M147.9 125.0h0M153.3 130.7h0M159.4 125.7h0M160.0 130.3h0M163.5 127.5h0M164.2 127.8h0M166.1 128.0h0M166.3 127.7h0M170.4 133.6h0M172.3 129.2h0M173.8 127.4h0M176.8 133.5h0M179.0 134.9h0M179.2 125.7h0M180.6 131.8h0M182.9 127.4h0M189.6 131.2h0M190.6 131.7h0M191.7 129.4h0M195.6 129.8h0M197.8 133.6h0M200.0 130.5h0M200.4 129.7h0M200.7 134.5h0M202.7 133.4h0M207.1 130.1h0M211.5 135.0h0M213.2 135.1h0M213.8 127.4h0M220.2 128.5h0M220.6 126.8h0M232.6 134.2h0M234.7 132.4h0M236.4 126.2h0M239.4 134.0h0M240.0 129.2h0M242.1 129.7h0M245.3 132.0h0M249.2 131.0h0M250.7 131.3h0M253.4 124.9h0M253.8 133.7h0M257.5 133.9h0M258.1 127.4h0M260.0 131.7h0M263.0 126.1h0M265.5 134.4h0M271.8 129.2h0M273.2 133.3h0M274.7 126.3h0M281.5 127.1h0M282.5 132.9h0M283.1 127.1h0M285.6 126.4h0M289.5 126.2h0M292.8 131.9h0M302.2 134.6h0M303.4 127.7h0M304.6 135.2h0M305.8 129.3h0M307.8 127.5h0M308.5 134.8h0M310.5 125.9h0M318.0 124.2h0M321.9 130.3h0M323.1 127.6h0M325.9 130.1h0M336.2 134.5h0M339.6 128.0h0M342.7 130.4h0M344.4 129.9h0M348.0 129.6h0M350.5 126.1h0M353.1 126.5h0M354.9 128.8h0M356.7 128.2h0M357.9 129.7h0M361.1 134.7h0M361.8 128.6h0M367.2 130.4h0M367.9 133.8h0M368.6 126.4h0M371.4 128.9h0M376.9 125.4h0M378.8 131.8h0M380.0 133.7h0M385.8 132.2h0M390.0 133.6h0M399.6 134.4h0M401.4 128.0h0M408.9 133.0h0M412.7 129.3h0M415.9 127.8h0M417.3 130.1h0M418.4 127.9h0M425.4 134.7h0M427.2 130.6h0M430.4 130.8h0M431.4 132.5h0M432.8 130.1h0M432.9 125.3h0M436.1 125.9h0M440.8 126.7h0M447.3 131.4h0M452.3 132.1h0M453.3 130.6h0M463.2 124.9h0M466.2 130.8h0M472.0 132.2h0M475.3 125.0h0M476.8 130.9h0M478.3 126.1h0M484.6 129.1h0M486.1 133.2h0M488.6 125.1h0M488.9 127.2h0M489.2 125.6h0M495.5 131.4h0M497.3 128.6h0M497.8 126.7h0M505.9 135.5h0M506.8 129.2h0M507.5 131.7h0M511.4 126.1h0M511.6 129.7h0M514.2 126.5h0M520.1 129.1h0M521.0 128.7h0M528.5 131.7h0M530.1 133.0h0M532.4 131.0h0M537.8 126.0h0M539.0 129.8h0M540.2 133.4h0M544.1 131.5h0M544.5 133.8h0M546.1 129.5h0M547.3 132.7h0M548.5 134.6h0M560.2 129.4h0M561.3 133.1h0M563.2 134.1h0M572.8 130.1h0M585.7 131.0h0M587.9 130.9h0M590.1 133.9h0M590.4 131.1h0M597.6 128.3h0M601.1 131.0h0M603.3 129.3h0M606.9 128.6h0M613.4 127.4h0M614.3 133.8h0M614.8 128.7h0M615.6 128.4h0M619.7 128.5h0M628.1 132.4h0M628.8 126.3h0M636.4 134.1h0M639.3 129.2h0M639.7 130.3h0M642.2 131.5h0M644.3 133.7h0M644.6 127.3h0M646.3 126.8h0M657.1 128.7h0M659.2 128.1h0M659.7 135.0h0M664.5 130.9h0M664.8 128.0h0M665.4 134.6h0M674.0 128.5h0M683.9 132.8h0M686.5 129.8h0M688.0 133.7h0M688.7 130.4h0M692.7 130.3h0M700.0 134.7h0M700.4 129.8h0M702.8 134.3h0M703.3 128.5h0M707.2 132.0h0M710.2 131.1h0M712.9 125.7h0M714.5 130.0h0M717.3 128.7h0M720.1 133.1h0M720.7 130.6h0M724.3 126.0h0M724.9 130.9h0M730.8 128.5h0M744.1 126.0h0M750.0 130.3h0M756.3 124.7h0M758.0 133.9h0M758.8 134.4h0M765.7 124.9h0M768.0 126.9h0M769.8 131.2h0M770.2 126.0h0M770.7 132.6h0M771.3 134.3h0M778.3 125.3h0M779.9 126.5h0M781.8 129.2h0M782.8 131.5h0M787.5 126.9h0M790.3 128.2h0M792.6 130.3h0M793.9 134.1h0M796.3 134.6h0M800.2 132.5h0M801.6 132.1h0M802.3 127.9h0M808.8 133.9h0M810.0 133.1h0M818.9 129.2h0M821.4 128.4h0M823.1 126.9h0M823.6 131.0h0M829.2 124.9h0M831.6 127.9h0M838.8 130.4h0M842.5 133.1h0M843.3 124.6h0M843.9 125.8h0M845.7 129.5h0M847.6 132.3h0M852.3 126.0h0M858.3 127.4h0M859.6 134.3h0M861.4 131.2h0M866.9 128.9h0M868.0 126.2h0M873.2 126.5h0M874.6 134.3h0M876.7 128.2h0M878.0 129.4h0M879.4 129.6h0M880.7 125.1h0M883.9 125.9h0M887.0 129.8h0M887.1 128.7h0M888.4 129.6h0M889.6 129.8h0M897.2 126.0h0M898.8 127.0h0M900.7 134.8h0M903.3 134.6h0M904.1 132.0h0M913.6 129.5h0M915.7 132.1h0M924.5 131.2h0M925.7 129.3h0M930.3 127.0h0M931.1 124.6h0M931.4 133.0h0M936.4 126.2h0M938.9 131.6h0" stroke="#ff00ff" stroke-width="6.4"/>
<path d="M56.6 125.0h0M64.1 125.3h0M66.1 126.7h0M69.1 133.3h0M69.6 126.8h0M73.9 131.8h0M83.8 128.4h0M91.4 123.3h0M102.1 127.5h0M102.6 127.2h0M103.8 126.0h0M114.7 127.5h0M125.6 126.3h0M140.8 128.5h0M143.1 132.9h0M144.4 128.7h0M144.6 127.7h0M163.1 126.6h0M165.7 127.1h0M165.9 126.8h0M170.0 132.7h0M171.9 128.3h0M173.4 126.5h0M176.4 132.6h0M178.8 124.8h0M182.5 126.5h0M191.3 128.5h0M195.2 128.9h0M199.6 129.6h0M200.3 133.6h0M202.3 132.5h0M211.1 134.1h0M219.8 127.6h0M232.2 133.3h0M234.3 131.5h0M241.7 128.8h0M244.9 131.1h0M250.3 130.4h0M253.4 132.8h0M257.7 126.5h0M265.1 133.5h0M271.4 128.3h0M272.8 132.4h0M274.3 125.4h0M282.7 126.2h0M289.1 125.3h0M292.4 131.0h0M301.8 133.7h0M307.4 126.6h0M310.1 125.0h0M317.6 123.3h0M347.6 128.7h0M350.1 125.2h0M352.7 125.6h0M356.3 127.3h0M357.5 128.8h0M361.4 127.7h0M366.8 129.5h0M371.0 128.0h0M378.4 130.9h0M379.6 132.8h0M399.2 133.5h0M401.0 127.1h0M416.9 129.2h0M425.0 133.8h0M431.0 131.6h0M446.9 130.5h0M451.9 131.2h0M465.8 129.9h0M474.9 124.1h0M476.4 130.0h0M477.9 125.2h0M488.2 124.2h0M488.8 124.7h0M495.1 130.5h0M496.9 127.7h0M505.5 134.6h0M511.2 128.8h0M519.7 128.2h0M528.1 130.8h0M532.0 130.1h0M537.4 125.1h0M539.8 132.5h0M544.1 132.9h0M545.7 128.6h0M548.1 133.7h0M559.8 128.5h0M572.4 129.2h0M585.3 130.1h0M587.5 130.0h0M590.0 130.2h0M606.5 127.7h0M613.0 126.5h0M639.3 129.4h0M645.9 125.9h0M658.8 127.2h0M665.0 133.7h0M673.6 127.6h0M683.5 131.9h0M686.1 128.9h0M687.6 132.8h0M688.3 129.5h0M702.9 127.6h0M706.8 131.1h0M709.8 130.2h0M712.5 124.8h0M719.7 132.2h0M720.3 129.7h0M723.9 125.1h0M724.5 130.0h0M730.4 127.6h0M743.7 125.1h0M755.9 123.8h0M765.3 124.0h0M769.4 130.3h0M769.8 125.1h0M777.9 124.4h0M779.5 125.6h0M781.4 128.3h0M789.9 127.3h0M799.8 131.6h0M821.0 127.5h0M822.7 126.0h0M828.8 124.0h0M842.1 132.2h0M847.2 131.4h0M866.5 128.0h0M872.8 125.6h0M874.2 133.4h0M879.0 128.7h0M886.7 127.8h0M896.8 125.1h0M898.4 126.1h0M915.3 131.2h0M925.3 128.4h0M931.0 132.1h0M936.0 125.3h0M938.5 130.7h0" stroke="#fff" stroke-opacity="0.6" stroke-width="1.8"/>
<path d="M58.0 125.0h0M61.5 132.7h0M65.0 133.0h0M65.3 129.1h0M68.1 126.3h0M68.8 129.1h0M71.1 134.4h0M72.3 134.8h0M86.3 134.2h0M93.0 133.8h0M93.5 130.4h0M95.0 133.1h0M97.5 132.2h0M100.4 130.7h0M115.8 129.9h0M123.8 127.2h0M127.1 130.2h0M127.3 127.1h0M128.4 131.8h0M129.0 132.7h0M129.5 133.9h0M131.0 132.2h0M132.2 135.0h0M140.6 134.1h0M146.1 128.9h0M149.0 130.2h0M155.1 133.3h0M161.2 126.2h0M162.7 126.6h0M167.2 133.7h0M170.1 126.0h0M174.8 135.4h0M178.7 127.9h0M179.9 131.6h0M181.6 127.3h0M183.8 128.4h0M185.8 127.0h0M186.4 126.5h0M186.8 135.5h0M187.2 127.8h0M191.1 129.5h0M196.3 126.7h0M196.7 133.1h0M197.0 126.7h0M198.1 125.2h0M202.3 133.0h0M204.5 132.7h0M205.6 130.2h0M208.5 134.2h0M212.4 126.7h0M214.8 127.4h0M216.7 133.2h0M222.0 130.4h0M222.5 131.7h0M224.8 135.0h0M225.4 129.2h0M226.0 128.3h0M226.6 128.4h0M231.3 127.1h0M233.1 127.8h0M233.6 134.8h0M235.8 131.7h0M237.7 133.3h0M245.5 134.3h0M251.9 133.1h0M252.5 131.3h0M252.9 125.9h0M254.5 132.2h0M255.0 125.6h0M257.0 132.1h0M261.4 131.3h0M272.9 125.7h0M278.3 130.1h0M279.2 129.6h0M285.1 130.4h0M287.0 126.1h0M292.1 132.2h0M295.7 130.8h0M299.7 133.7h0M303.1 132.6h0M308.2 129.7h0M311.3 131.0h0M312.6 127.0h0M314.5 133.5h0M316.5 127.1h0M318.9 124.7h0M320.5 128.1h0M322.8 126.5h0M328.6 132.9h0M340.3 131.1h0M342.1 127.2h0M346.1 129.5h0M350.0 134.7h0M353.3 132.3h0M356.1 134.3h0M359.9 131.1h0M360.1 129.2h0M363.2 132.4h0M364.5 128.2h0M371.4 133.1h0M376.5 126.4h0M377.4 124.2h0M384.1 132.7h0M386.0 131.4h0M387.3 128.9h0M388.9 125.8h0M392.8 129.4h0M395.9 134.4h0M397.5 133.1h0M404.2 134.7h0M408.3 132.9h0M419.1 134.0h0M420.7 132.4h0M421.0 124.6h0M425.7 126.5h0M437.6 128.2h0M438.8 126.5h0M440.6 128.7h0M443.8 132.3h0M446.9 124.9h0M448.5 135.0h0M450.0 130.5h0M450.1 131.9h0M461.4 134.6h0M462.0 132.4h0M463.8 131.7h0M465.1 132.0h0M468.6 124.7h0M473.0 132.5h0M474.5 130.6h0M480.3 128.4h0M482.5 128.4h0M483.3 133.2h0M487.4 135.0h0M493.0 129.9h0M493.7 127.9h0M496.8 125.6h0M499.3 126.2h0M499.6 129.4h0M500.6 126.3h0M501.4 133.1h0M503.0 129.9h0M503.4 131.5h0M504.6 126.7h0M505.0 125.9h0M509.0 132.1h0M515.4 125.1h0M529.0 127.8h0M529.4 130.3h0M535.3 125.5h0M541.5 129.8h0M543.0 129.8h0M552.8 125.5h0M553.5 128.1h0M554.7 125.6h0M558.0 132.2h0M561.6 131.3h0M562.9 129.5h0M564.2 132.2h0M566.3 125.7h0M571.8 134.5h0M572.1 125.7h0M575.8 132.5h0M587.4 133.8h0M588.6 126.1h0M594.0 132.2h0M595.8 128.1h0M599.0 126.6h0M599.3 134.6h0M601.1 130.3h0M602.1 132.6h0M603.8 126.6h0M605.7 126.2h0M613.8 133.1h0M616.9 134.0h0M617.4 130.4h0M627.2 132.2h0M630.7 134.7h0M632.3 130.7h0M637.6 134.3h0M641.1 125.9h0M648.2 128.1h0M648.8 126.3h0M656.4 126.8h0M657.8 130.7h0M661.3 133.8h0M662.8 126.6h0M663.5 127.6h0M665.9 133.5h0M668.1 133.7h0M668.8 127.9h0M669.2 135.0h0M675.7 130.0h0M678.7 131.3h0M680.3 132.5h0M682.1 128.3h0M682.4 131.5h0M685.6 131.8h0M690.4 128.1h0M694.6 134.2h0M696.0 131.9h0M703.9 127.4h0M716.0 129.6h0M718.3 129.2h0M725.6 133.7h0M734.8 133.4h0M736.5 131.7h0M737.5 127.9h0M737.8 125.5h0M740.0 128.0h0M742.7 132.0h0M743.0 129.2h0M746.3 127.7h0M746.8 126.8h0M754.7 128.4h0M760.3 127.0h0M762.4 133.1h0M763.2 128.5h0M766.9 132.1h0M769.4 128.4h0M778.0 129.7h0M782.1 133.6h0M782.9 135.1h0M784.9 132.3h0M786.9 125.8h0M787.8 131.9h0M793.0 134.7h0M795.1 132.1h0M795.4 125.5h0M796.5 130.2h0M797.9 125.5h0M799.0 131.2h0M801.1 132.3h0M806.8 127.1h0M808.0 129.4h0M810.8 133.1h0M812.3 125.4h0M813.2 129.5h0M816.8 129.5h0M820.3 131.3h0M824.5 126.0h0M833.2 133.6h0M836.4 129.8h0M836.7 129.0h0M847.0 129.3h0M847.2 128.7h0M850.3 125.9h0M850.6 126.5h0M851.9 131.4h0M853.0 132.6h0M854.8 128.2h0M855.3 130.1h0M862.7 126.7h0M863.8 133.3h0M871.6 127.1h0M876.1 125.0h0M876.5 134.4h0M877.3 126.8h0M884.1 125.2h0M889.9 125.8h0M892.7 130.5h0M893.0 125.9h0M897.6 131.7h0M898.3 128.8h0M910.8 128.2h0M917.3 133.6h0M917.9 131.8h0M922.4 131.0h0M927.7 125.4h0M927.9 124.8h0M930.5 133.6h0M932.8 132.9h0M936.0 131.5h0M939.4 130.6h0" stroke="#ff00ff" stroke-width="6.4"/>
<path d="M57.6 124.1h0M61.1 131.8h0M67.7 125.4h0M71.9 133.9h0M123.4 126.3h0M126.9 126.2h0M129.1 133.0h0M130.6 131.3h0M148.6 129.3h0M154.7 132.4h0M160.8 125.3h0M169.7 125.1h0M186.0 125.6h0M186.4 134.6h0M208.1 133.3h0M216.3 132.3h0M225.0 128.3h0M225.6 127.4h0M226.2 127.5h0M233.2 133.9h0M235.4 130.8h0M237.3 132.4h0M245.1 133.4h0M254.6 124.7h0M256.6 131.2h0M261.0 130.4h0M272.5 124.8h0M284.7 129.5h0M291.7 131.3h0M295.3 129.9h0M302.7 131.7h0M307.8 128.8h0M310.9 130.1h0M316.1 126.2h0M320.1 127.2h0M322.4 125.6h0M328.2 132.0h0M352.9 131.4h0M359.7 128.3h0M362.8 131.5h0M371.0 132.2h0M377.0 123.3h0M385.6 130.5h0M395.5 133.5h0M397.1 132.2h0M407.9 132.0h0M420.6 123.7h0M449.6 129.6h0M461.0 133.7h0M461.6 131.5h0M464.7 131.1h0M472.6 131.6h0M474.1 129.7h0M487.0 134.1h0M492.6 129.0h0M498.9 125.3h0M500.2 125.4h0M501.0 132.2h0M502.6 129.0h0M504.2 125.8h0M504.6 125.0h0M508.6 131.2h0M528.6 126.9h0M552.4 124.6h0M554.3 124.7h0M562.5 128.6h0M565.9 124.8h0M571.7 124.8h0M595.4 127.2h0M598.9 133.7h0M616.5 133.1h0M626.8 131.3h0M630.3 133.8h0M647.8 127.2h0M657.4 129.8h0M660.9 132.9h0M667.7 132.8h0M675.3 129.1h0M685.2 130.9h0M703.5 126.5h0M736.1 130.8h0M739.6 127.1h0M754.3 127.5h0M777.6 128.8h0M784.5 131.4h0M786.5 124.9h0M787.4 131.0h0M794.7 131.2h0M795.0 124.6h0M796.1 129.3h0M798.6 130.3h0M807.6 128.5h0M811.9 124.5h0M812.8 128.6h0M816.4 128.6h0M832.8 132.7h0M836.0 128.9h0M836.3 128.1h0M846.8 127.8h0M849.9 125.0h0M850.2 125.6h0M851.5 130.5h0M876.9 125.9h0M883.7 124.3h0M889.5 124.9h0M897.2 130.8h0M897.9 127.9h0M917.5 130.9h0M927.3 124.5h0M927.5 123.9h0M935.6 130.6h0" stroke="#fff" stroke-opacity="0.6" stroke-width="1.8"/>
<path d="M56.0 133.0h0M56.4 131.6h0M67.3 126.4h0M71.5 128.3h0M80.4 126.0h0M82.2 132.0h0M82.8 133.9h0M84.8 127.1h0M96.0 125.2h0M98.7 126.5h0M105.1 128.4h0M105.3 127.0h0M108.9 126.7h0M110.3 129.5h0M110.8 129.0h0M112.0 132.9h0M113.5 130.9h0M114.1 126.6h0M120.9 134.0h0M121.6 126.7h0M124.6 135.5h0M126.5 130.3h0M128.0 133.0h0M129.9 134.2h0M132.9 128.7h0M137.9 130.5h0M138.8 127.8h0M142.7 126.3h0M147.3 134.1h0M148.1 126.0h0M149.6 132.1h0M154.4 129.5h0M155.4 125.1h0M155.9 124.6h0M157.7 124.6h0M160.7 130.4h0M161.6 124.2h0M164.6 125.4h0M167.8 133.0h0M168.8 126.0h0M169.5 130.9h0M171.8 135.5h0M174.3 127.5h0M175.7 132.2h0M181.3 133.3h0M184.7 135.5h0M187.8 132.9h0M194.3 134.2h0M205.8 132.1h0M206.4 130.1h0M208.2 126.6h0M209.1 128.6h0M209.7 125.0h0M210.5 135.2h0M212.6 125.1h0M215.6 128.4h0M216.5 127.4h0M236.7 130.9h0M237.4 134.9h0M238.4 129.4h0M246.3 126.0h0M247.6 127.3h0M250.3 130.0h0M256.1 131.2h0M263.2 129.6h0M263.8 126.0h0M267.2 126.7h0M269.3 126.8h0M271.2 133.7h0M271.9 129.6h0M274.4 126.8h0M276.1 128.4h0M276.7 130.8h0M277.4 128.3h0M278.0 134.3h0M280.2 133.3h0M282.1 129.5h0M287.7 131.7h0M288.5 132.1h0M289.0 129.0h0M294.4 133.1h0M296.6 133.4h0M297.0 128.3h0M304.9 134.1h0M306.7 132.9h0M311.8 128.0h0M322.4 131.1h0M327.3 130.4h0M327.9 131.0h0M330.2 126.6h0M331.2 129.1h0M332.8 129.4h0M333.0 131.3h0M343.3 128.6h0M346.5 128.1h0M357.2 125.4h0M359.2 132.1h0M366.6 134.6h0M369.2 130.8h0M370.1 132.5h0M374.9 124.1h0M375.9 125.4h0M379.5 129.0h0M384.6 127.3h0M387.7 129.6h0M388.3 134.4h0M392.1 127.4h0M392.3 128.4h0M393.4 135.3h0M394.5 134.8h0M398.9 129.3h0M400.3 130.0h0M401.8 131.7h0M404.9 126.9h0M405.7 131.5h0M407.5 128.4h0M408.5 128.0h0M410.7 131.0h0M412.5 132.6h0M416.7 128.1h0M418.1 125.7h0M424.8 132.0h0M432.1 129.3h0M435.2 125.0h0M436.8 126.3h0M440.1 130.2h0M441.4 132.8h0M442.5 128.7h0M443.9 130.3h0M447.9 132.9h0M449.2 133.9h0M457.4 132.3h0M458.1 129.5h0M460.8 129.5h0M462.2 133.5h0M462.6 133.0h0M467.7 129.2h0M467.9 128.3h0M469.7 126.1h0M469.9 128.7h0M470.6 133.5h0M473.2 133.7h0M477.5 131.2h0M477.8 128.2h0M479.5 126.0h0M481.3 124.8h0M484.2 132.1h0M485.6 127.0h0M487.7 131.4h0M489.8 128.2h0M496.0 131.0h0M500.4 126.0h0M501.7 127.9h0M502.5 133.6h0M505.4 129.3h0M508.4 131.5h0M510.0 131.9h0M513.9 128.9h0M516.7 129.0h0M516.9 128.2h0M517.9 132.5h0M522.2 128.9h0M525.6 127.9h0M534.8 126.2h0M536.7 127.3h0M540.1 131.8h0M541.0 126.1h0M541.9 126.4h0M546.5 133.8h0M547.8 132.1h0M548.3 133.3h0M551.9 128.8h0M556.5 132.8h0M558.8 127.4h0M559.7 133.9h0M568.9 126.9h0M574.9 128.8h0M577.3 127.6h0M578.6 132.6h0M581.3 134.5h0M591.5 127.0h0M592.6 132.2h0M595.0 134.5h0M596.4 126.9h0M596.8 129.9h0M608.1 124.9h0M610.6 128.1h0M618.9 134.8h0M619.9 134.8h0M625.5 131.7h0M626.4 125.8h0M635.5 130.6h0M636.7 128.1h0M642.7 130.6h0M645.3 134.9h0M649.9 125.5h0M650.4 126.4h0M651.9 130.5h0M653.7 133.5h0M655.0 126.5h0M658.2 130.8h0M660.2 125.2h0M662.4 131.0h0M666.7 132.8h0M669.8 129.3h0M670.0 130.2h0M671.8 131.3h0M672.7 126.5h0M673.5 125.0h0M675.4 125.4h0M676.7 133.1h0M679.6 133.8h0M679.9 128.4h0M681.1 129.2h0M681.5 129.3h0M686.7 131.9h0M689.3 134.8h0M689.7 129.9h0M702.4 132.7h0M708.7 130.9h0M710.9 125.4h0M713.9 128.0h0M719.4 127.4h0M719.8 125.2h0M721.0 130.8h0M723.1 124.9h0M727.0 133.7h0M728.7 131.4h0M729.1 126.9h0M732.7 128.5h0M733.9 130.0h0M735.6 130.8h0M741.3 125.9h0M743.5 133.8h0M751.9 128.7h0M752.4 132.1h0M757.6 134.4h0M759.1 130.8h0M761.4 131.4h0M768.4 132.8h0M774.8 133.1h0M776.6 127.0h0M776.9 129.8h0M777.5 133.8h0M789.4 131.2h0M790.8 131.0h0M794.8 127.5h0M803.5 125.3h0M805.4 127.0h0M806.0 128.1h0M807.3 129.2h0M809.4 130.8h0M814.2 128.8h0M815.5 133.4h0M816.5 125.1h0M832.1 129.2h0M834.2 131.4h0M836.0 124.9h0M837.6 129.1h0M840.0 128.3h0M842.2 127.5h0M843.1 129.9h0M854.0 132.2h0M854.3 128.2h0M860.4 132.2h0M865.5 127.8h0M865.9 132.7h0M875.3 127.0h0M878.8 128.8h0M880.1 131.6h0M882.3 131.2h0M888.1 132.7h0M892.1 130.0h0M894.6 131.0h0M896.1 131.4h0M900.4 134.2h0M902.5 134.8h0M906.1 134.1h0M910.3 130.8h0M912.5 133.4h0M914.2 128.2h0M916.7 126.2h0M919.2 130.8h0M923.8 129.1h0M925.3 124.7h0M926.5 132.9h0M928.7 126.3h0M938.4 127.4h0" stroke="#ff00ff" stroke-width="6.4"/>
<path d="M71.1 127.4h0M84.4 126.2h0M104.7 127.5h0M104.9 126.1h0M108.5 125.8h0M109.9 128.6h0M111.6 132.0h0M113.1 130.0h0M113.7 125.7h0M121.2 125.8h0M124.2 134.6h0M126.1 129.4h0M127.6 132.1h0M129.5 133.3h0M142.3 125.4h0M146.9 133.2h0M154.0 128.6h0M169.1 130.0h0M180.9 132.4h0M187.4 132.0h0M193.9 133.3h0M210.1 134.3h0M212.2 124.2h0M216.1 126.5h0M236.3 130.0h0M238.0 128.5h0M247.2 126.4h0M249.9 129.1h0M255.7 130.3h0M263.4 125.1h0M270.8 132.8h0M271.5 128.7h0M275.7 127.5h0M276.3 129.9h0M288.6 128.1h0M296.6 127.4h0M306.3 132.0h0M311.4 127.1h0M322.0 130.2h0M326.9 129.5h0M327.5 130.1h0M330.8 128.2h0M332.6 130.4h0M342.9 127.7h0M346.1 127.2h0M356.8 124.5h0M358.8 131.2h0M368.8 129.9h0M379.1 128.1h0M387.9 133.5h0M393.0 134.4h0M394.1 133.9h0M408.1 127.1h0M412.1 131.7h0M436.4 125.4h0M442.1 127.8h0M447.5 132.0h0M461.8 132.6h0M469.5 127.8h0M470.2 132.6h0M472.8 132.8h0M477.4 127.3h0M479.1 125.1h0M483.8 131.2h0M501.3 127.0h0M508.0 130.6h0M509.6 131.0h0M516.3 128.1h0M536.3 126.4h0M539.7 130.9h0M541.5 125.5h0M546.1 132.9h0M551.5 127.9h0M556.1 131.9h0M559.3 133.0h0M574.5 127.9h0M576.9 126.7h0M578.2 131.7h0M591.1 126.1h0M592.2 131.3h0M596.4 129.0h0M607.7 124.0h0M619.5 133.9h0M625.1 130.8h0M635.1 129.7h0M636.3 127.2h0M644.9 134.0h0M649.5 124.6h0M653.3 132.6h0M654.6 125.6h0M657.8 129.9h0M659.8 124.3h0M666.3 131.9h0M680.7 128.3h0M702.0 131.8h0M708.3 130.0h0M713.5 127.1h0M719.4 124.3h0M720.6 129.9h0M726.6 132.8h0M728.3 130.5h0M733.5 129.1h0M743.1 132.9h0M752.0 131.2h0M757.2 133.5h0M761.0 130.5h0M768.0 131.9h0M789.0 130.3h0M805.0 126.1h0M806.9 128.3h0M813.8 127.9h0M815.1 132.5h0M835.6 124.0h0M841.8 126.6h0M842.7 129.0h0M853.6 131.3h0M878.4 127.9h0M881.9 130.3h0M902.1 133.9h0M916.3 125.3h0M926.1 132.0h0" stroke="#fff" stroke-opacity="0.6" stroke-width="1.8"/>
<path d="M57.4 125.4h0M59.9 134.6h0M63.2 133.5h0M63.8 133.9h0M75.5 132.4h0M77.3 135.4h0M80.2 127.3h0M80.8 132.5h0M82.3 135.5h0M90.4 127.0h0M91.2 127.6h0M94.3 134.1h0M95.8 133.2h0M96.4 131.3h0M97.3 127.4h0M98.3 127.8h0M99.8 132.8h0M106.2 133.6h0M106.9 125.7h0M108.7 134.0h0M111.4 131.8h0M113.0 126.9h0M115.5 130.7h0M118.5 134.0h0M119.7 127.6h0M122.9 129.5h0M124.1 126.6h0M125.3 130.2h0M133.7 129.5h0M134.7 125.4h0M135.1 128.4h0M136.8 131.0h0M145.5 128.4h0M146.7 130.7h0M148.9 131.7h0M150.2 133.4h0M151.6 126.8h0M152.5 131.0h0M153.0 125.1h0M159.9 128.4h0M167.1 128.7h0M171.3 129.1h0M173.1 126.2h0M177.3 130.1h0M185.3 128.7h0M188.4 125.9h0M188.6 129.6h0M192.9 128.4h0M193.7 126.6h0M198.5 125.2h0M204.8 126.7h0M216.2 134.9h0M218.5 126.0h0M219.7 126.3h0M223.2 127.4h0M224.0 130.6h0M226.9 130.6h0M230.9 131.9h0M232.0 133.7h0M234.9 132.4h0M238.8 134.9h0M240.8 127.4h0M242.9 131.8h0M246.4 132.1h0M247.4 131.3h0M260.6 131.4h0M264.2 129.4h0M266.0 132.9h0M267.0 133.2h0M270.0 132.8h0M275.5 126.3h0M279.3 134.6h0M286.3 130.8h0M299.5 128.5h0M307.1 131.5h0M309.1 129.2h0M309.6 124.7h0M312.2 130.9h0M313.2 132.2h0M315.5 128.6h0M319.7 125.3h0M323.6 125.9h0M324.2 134.1h0M324.6 126.4h0M325.2 131.4h0M330.4 134.3h0M331.5 134.0h0M333.4 127.6h0M335.1 134.8h0M335.8 132.1h0M340.7 133.0h0M341.6 134.4h0M345.0 133.1h0M345.4 132.9h0M347.0 131.9h0M349.1 128.0h0M352.6 131.6h0M353.9 128.1h0M354.6 127.5h0M357.6 126.1h0M362.5 127.2h0M367.5 133.0h0M370.7 131.9h0M372.5 127.1h0M373.8 132.6h0M375.5 124.6h0M378.4 130.3h0M381.3 133.3h0M389.5 130.8h0M390.6 125.8h0M393.8 134.5h0M395.0 129.0h0M397.3 132.2h0M398.0 128.9h0M403.6 134.4h0M406.7 128.2h0M410.4 133.0h0M420.0 127.8h0M421.6 132.3h0M422.3 133.0h0M422.6 129.6h0M423.1 126.8h0M427.8 129.5h0M430.9 132.6h0M433.7 132.3h0M434.9 125.7h0M435.8 127.6h0M442.9 126.9h0M446.0 125.6h0M450.9 128.4h0M455.7 133.0h0M456.3 131.5h0M459.8 129.6h0M469.1 124.7h0M470.9 131.9h0M473.6 131.4h0M476.4 124.7h0M480.6 131.8h0M481.3 134.2h0M491.1 131.0h0M491.3 131.6h0M492.5 134.9h0M516.0 134.9h0M517.7 131.9h0M521.6 134.2h0M524.2 134.9h0M526.4 125.7h0M528.1 126.7h0M537.5 133.3h0M543.7 130.2h0M545.8 129.3h0M549.1 125.4h0M550.1 130.7h0M550.4 127.5h0M552.3 129.6h0M554.9 132.5h0M562.5 132.4h0M566.0 127.7h0M568.0 130.3h0M569.6 125.4h0M576.8 132.0h0M579.1 130.0h0M579.7 130.6h0M580.6 131.3h0M583.8 127.3h0M584.1 131.6h0M584.8 133.1h0M586.3 132.9h0M586.9 128.0h0M594.7 131.4h0M597.3 134.3h0M598.1 134.2h0M605.0 126.8h0M611.1 126.0h0M615.9 130.1h0M623.1 125.7h0M624.9 133.1h0M629.7 128.4h0M630.9 132.8h0M631.3 134.2h0M633.9 128.4h0M634.0 131.4h0M636.0 126.4h0M638.3 130.8h0M642.9 126.3h0M649.5 131.8h0M667.8 129.2h0M671.1 125.9h0M677.5 125.2h0M679.0 128.1h0M684.5 131.9h0M693.0 134.8h0M694.2 127.7h0M695.0 130.7h0M695.9 126.8h0M697.1 130.6h0M699.2 131.5h0M706.3 130.0h0M709.8 127.3h0M711.6 128.8h0M712.1 131.4h0M713.4 132.5h0M714.9 132.1h0M721.4 124.0h0M722.2 129.4h0M723.6 126.4h0M726.6 128.2h0M727.9 133.7h0M731.1 125.8h0M734.5 125.8h0M745.7 126.4h0M747.0 129.3h0M748.0 134.2h0M753.6 127.4h0M755.5 133.7h0M757.3 132.1h0M762.9 125.9h0M771.6 134.3h0M773.7 127.3h0M781.2 134.8h0M786.2 125.0h0M791.4 132.4h0M799.2 127.9h0M799.9 128.7h0M802.0 128.2h0M804.6 131.6h0M805.3 132.4h0M807.4 131.2h0M811.3 127.1h0M815.0 127.0h0M817.6 128.7h0M821.8 125.3h0M825.0 133.8h0M827.3 131.1h0M830.3 126.9h0M830.5 132.4h0M832.6 124.9h0M839.6 126.0h0M840.6 133.1h0M844.6 130.8h0M845.9 134.0h0M849.4 124.2h0M850.1 132.9h0M856.6 132.6h0M857.2 128.1h0M859.0 132.0h0M861.9 128.5h0M863.2 131.7h0M864.6 129.0h0M868.5 127.1h0M869.3 128.2h0M870.6 127.8h0M881.1 134.4h0M882.9 128.8h0M888.9 127.0h0M890.5 128.6h0M891.3 126.3h0M894.9 132.2h0M900.0 128.7h0M902.0 134.5h0M904.7 125.4h0M907.3 130.6h0M907.4 126.3h0M908.3 128.7h0M911.3 129.8h0M914.2 131.4h0M923.3 132.8h0M926.9 131.2h0M929.8 127.7h0M932.2 128.1h0M933.2 127.5h0M933.7 129.9h0M934.2 126.0h0M935.1 131.2h0M937.6 134.7h0M937.9 130.8h0M940.0 131.3h0M941.1 134.2h0" stroke="#ff00ff" stroke-width="6.4"/>
<path d="M59.5 133.7h0M75.1 131.5h0M76.9 134.5h0M90.0 126.1h0M90.8 126.7h0M95.4 132.3h0M96.0 130.4h0M105.8 132.7h0M108.3 133.1h0M133.3 128.6h0M134.3 124.5h0M134.7 127.5h0M149.8 132.5h0M152.6 124.2h0M166.7 127.8h0M176.9 129.2h0M188.2 128.7h0M192.5 127.5h0M218.1 125.1h0M219.3 125.4h0M226.5 129.7h0M234.5 131.5h0M242.5 130.9h0M246.0 131.2h0M265.6 132.0h0M266.6 132.3h0M285.9 129.9h0M299.1 127.6h0M308.7 128.3h0M311.8 130.0h0M315.1 127.7h0M323.2 125.0h0M323.8 133.2h0M324.2 125.5h0M333.0 126.7h0M334.7 133.9h0M340.3 132.1h0M344.6 132.2h0M348.7 127.1h0M354.2 126.6h0M357.2 125.2h0M367.1 132.1h0M370.3 131.0h0M390.2 124.9h0M396.9 131.3h0M397.6 128.0h0M421.9 132.1h0M422.7 125.9h0M434.5 124.8h0M442.5 126.0h0M450.5 127.5h0M455.3 132.1h0M455.9 130.6h0M468.7 123.8h0M476.0 123.8h0M490.7 130.1h0M515.6 134.0h0M526.0 124.8h0M537.1 132.4h0M543.3 129.3h0M545.4 128.4h0M549.7 129.8h0M550.0 126.6h0M551.9 128.7h0M565.6 126.8h0M567.6 129.4h0M569.2 124.5h0M585.9 132.0h0M624.5 132.2h0M630.9 133.3h0M635.6 125.5h0M637.9 129.9h0M677.1 124.3h0M678.6 127.2h0M684.1 131.0h0M693.8 126.8h0M695.5 125.9h0M696.7 129.7h0M705.9 129.1h0M709.4 126.4h0M711.2 127.9h0M711.7 130.5h0M753.2 126.5h0M756.9 131.2h0M762.5 125.0h0M771.2 133.4h0M780.8 133.9h0M785.8 124.1h0M791.0 131.5h0M798.8 127.0h0M799.5 127.8h0M804.2 130.7h0M807.0 130.3h0M814.6 126.1h0M817.2 127.8h0M829.9 126.0h0M830.1 131.5h0M839.2 125.1h0M849.0 123.3h0M856.2 131.7h0M861.5 127.6h0M862.8 130.8h0M864.2 128.1h0M890.1 127.7h0M894.5 131.3h0M899.6 127.8h0M904.3 124.5h0M906.9 129.7h0M910.9 128.9h0M913.8 130.5h0M922.9 131.9h0M929.4 126.8h0M931.8 127.2h0M933.8 125.1h0M934.7 130.3h0M937.5 129.9h0M939.6 130.4h0M940.7 133.3h0" stroke="#fff" stroke-opacity="0.6" stroke-width="1.8"/>
<path d="M62.4 128.4h0M66.7 133.7h0M74.6 133.8h0M75.7 135.0h0M77.9 133.1h0M78.2 135.1h0M83.9 131.6h0M85.2 134.9h0M85.5 134.7h0M87.2 132.5h0M89.4 124.5h0M89.7 127.2h0M99.4 134.0h0M100.7 128.9h0M101.6 129.8h0M103.4 126.7h0M103.9 130.4h0M108.2 132.3h0M118.2 126.7h0M119.1 131.8h0M132.5 126.7h0M134.4 129.3h0M138.4 124.0h0M140.7 134.0h0M143.1 129.2h0M144.3 125.2h0M156.7 134.0h0M157.2 133.1h0M157.9 131.7h0M172.8 131.1h0M177.9 135.2h0M182.1 128.9h0M182.3 134.9h0M194.7 127.0h0M201.5 132.7h0M207.8 128.1h0M210.4 128.5h0M217.3 133.4h0M219.0 133.1h0M221.0 134.0h0M221.4 127.6h0M224.0 132.2h0M227.4 128.1h0M228.0 129.0h0M228.4 131.5h0M229.6 132.3h0M229.8 131.7h0M240.4 133.4h0M241.7 126.1h0M244.2 129.6h0M248.6 129.5h0M249.6 134.7h0M256.4 130.6h0M258.8 124.9h0M258.9 131.3h0M259.6 127.5h0M262.4 125.9h0M264.8 127.0h0M268.7 130.6h0M269.2 124.7h0M270.6 127.0h0M280.6 135.0h0M284.3 126.0h0M287.4 129.7h0M290.0 134.6h0M290.5 130.1h0M291.0 129.5h0M292.4 132.6h0M294.3 129.4h0M295.2 134.3h0M296.0 131.3h0M297.7 126.6h0M298.1 132.7h0M300.2 132.9h0M300.8 125.4h0M301.1 130.4h0M301.7 132.5h0M304.1 126.8h0M314.8 131.7h0M315.9 133.7h0M319.9 125.4h0M326.4 125.8h0M327.1 133.7h0M332.3 134.0h0M334.2 130.1h0M334.6 128.4h0M336.6 127.7h0M338.0 125.1h0M338.8 128.2h0M339.9 129.8h0M342.8 134.8h0M344.3 131.1h0M348.7 130.6h0M351.0 129.5h0M351.3 126.4h0M362.8 134.9h0M363.7 130.2h0M365.0 132.9h0M374.1 124.8h0M378.2 126.8h0M383.7 132.0h0M385.3 125.9h0M396.3 130.4h0M396.8 131.5h0M399.4 126.7h0M400.7 135.3h0M402.4 135.5h0M403.0 132.4h0M404.5 130.6h0M406.9 126.8h0M409.5 128.4h0M413.1 126.8h0M414.3 127.2h0M424.4 133.9h0M426.4 128.9h0M428.6 125.9h0M429.4 126.7h0M430.3 132.0h0M433.9 127.4h0M437.5 128.8h0M439.5 131.0h0M442.1 125.7h0M444.7 134.2h0M444.9 131.7h0M445.8 131.5h0M448.3 133.7h0M451.4 134.9h0M451.8 134.9h0M452.8 127.1h0M457.0 125.9h0M458.5 132.9h0M459.2 125.7h0M465.2 126.8h0M467.0 126.9h0M474.8 131.1h0M476.0 130.4h0M479.1 129.7h0M481.8 133.8h0M486.5 131.9h0M490.3 131.2h0M494.5 129.4h0M494.9 127.3h0M508.3 125.4h0M509.6 134.7h0M510.5 132.1h0M514.9 128.0h0M518.6 131.7h0M519.0 128.0h0M522.8 126.9h0M525.0 134.9h0M525.6 129.7h0M527.1 129.2h0M527.2 132.0h0M530.9 131.6h0M531.5 128.4h0M533.0 134.1h0M534.3 128.1h0M542.4 135.3h0M550.7 134.3h0M559.2 134.2h0M563.6 127.8h0M564.7 125.2h0M567.1 128.7h0M567.5 125.7h0M568.5 131.0h0M570.0 133.3h0M574.0 133.7h0M578.0 132.4h0M580.0 129.2h0M581.6 125.4h0M582.1 133.0h0M582.7 132.6h0M585.0 126.7h0M588.8 134.0h0M589.4 125.7h0M592.2 126.8h0M600.0 130.2h0M600.4 134.2h0M602.5 127.1h0M604.7 127.5h0M606.4 131.4h0M607.4 134.1h0M609.3 133.0h0M609.8 129.5h0M610.0 134.3h0M611.6 125.6h0M612.1 132.2h0M612.6 127.7h0M618.0 127.7h0M618.5 125.0h0M621.7 127.5h0M622.3 132.6h0M629.9 127.3h0M633.1 132.4h0M634.5 129.2h0M639.1 126.6h0M640.4 128.1h0M643.5 130.7h0M645.6 127.5h0M647.4 127.4h0M647.9 134.6h0M650.6 131.4h0M651.2 133.0h0M652.6 133.8h0M653.9 129.8h0M655.4 130.7h0M656.3 126.0h0M658.9 127.5h0M661.8 132.1h0M667.1 127.4h0M678.1 124.5h0M683.3 124.6h0M685.1 125.4h0M687.1 129.9h0M688.2 132.9h0M690.9 133.5h0M693.5 125.1h0M696.6 129.8h0M699.0 134.0h0M701.3 125.1h0M705.4 131.6h0M706.5 134.0h0M708.3 132.1h0M717.0 124.6h0M718.4 129.3h0M727.2 130.7h0M729.6 129.7h0M731.9 131.0h0M738.5 131.6h0M738.7 127.8h0M739.7 132.6h0M740.9 134.2h0M742.0 127.5h0M748.8 132.2h0M751.1 127.0h0M754.0 134.8h0M755.1 124.9h0M759.7 134.7h0M761.0 128.0h0M764.2 125.5h0M764.7 129.9h0M765.4 133.7h0M766.3 133.3h0M767.6 129.1h0M773.1 133.2h0M774.5 125.9h0M783.7 131.9h0M785.1 128.4h0M797.1 125.0h0M803.9 131.4h0M812.0 128.4h0M816.0 129.0h0M817.8 126.8h0M818.6 132.2h0M819.6 133.0h0M820.9 134.8h0M822.9 132.7h0M825.3 128.9h0M825.8 127.9h0M826.8 132.2h0M831.0 128.0h0M834.7 126.3h0M835.1 125.8h0M837.5 132.1h0M838.2 129.8h0M841.2 134.6h0M857.6 131.1h0M860.6 125.4h0M862.1 127.9h0M866.3 134.5h0M870.3 125.8h0M872.6 133.7h0M873.8 131.6h0M881.7 132.4h0M883.0 135.1h0M884.5 131.3h0M886.1 134.0h0M890.8 131.5h0M893.3 127.7h0M895.5 125.6h0M896.9 134.5h0M899.4 134.5h0M901.5 128.0h0M902.8 125.4h0M904.8 130.8h0M905.7 134.2h0M906.7 134.5h0M908.8 128.2h0M909.2 131.6h0M911.8 131.6h0M913.0 125.3h0M917.8 127.8h0M920.7 125.4h0M924.7 128.6h0M934.9 127.4h0M940.3 133.2h0" stroke="#ff00ff" stroke-width="6.4"/>
<path d="M62.0 127.5h0M66.3 132.8h0M74.2 132.9h0M75.3 134.1h0M77.5 132.2h0M83.5 130.7h0M84.8 134.0h0M85.1 133.8h0M99.0 133.1h0M132.1 125.8h0M138.0 123.1h0M156.3 133.1h0M156.8 132.2h0M157.5 130.8h0M172.4 130.2h0M201.1 131.8h0M207.4 127.2h0M216.9 132.5h0M220.6 133.1h0M221.0 126.7h0M229.2 131.4h0M229.4 130.8h0M243.8 128.7h0M262.0 125.0h0M270.2 126.1h0M280.2 134.1h0M287.0 128.8h0M290.6 128.6h0M295.6 130.4h0M297.3 125.7h0M297.7 131.8h0M300.4 124.5h0M303.7 125.9h0M314.4 130.8h0M331.9 133.1h0M337.6 124.2h0M339.5 128.9h0M343.9 130.2h0M362.4 134.0h0M364.6 132.0h0M373.7 123.9h0M377.8 125.9h0M383.3 131.1h0M395.9 129.5h0M396.4 130.6h0M399.0 125.8h0M402.6 131.5h0M404.1 129.7h0M406.5 125.9h0M413.9 126.3h0M439.1 130.1h0M444.5 130.8h0M447.9 132.8h0M458.1 132.0h0M458.8 124.8h0M466.6 126.0h0M474.4 130.2h0M475.6 129.5h0M478.7 128.8h0M481.4 132.9h0M486.1 131.0h0M489.9 130.3h0M494.1 128.5h0M525.2 128.8h0M526.7 128.3h0M526.8 131.1h0M530.5 130.7h0M550.3 133.4h0M563.2 126.9h0M567.1 124.8h0M568.1 130.1h0M569.6 132.4h0M577.6 131.5h0M579.6 128.3h0M581.7 132.1h0M588.4 133.1h0M589.0 124.8h0M599.6 129.3h0M602.1 126.2h0M604.3 126.6h0M609.4 128.6h0M611.2 124.7h0M611.7 131.3h0M621.9 131.7h0M629.5 126.4h0M632.7 131.5h0M634.1 128.3h0M643.1 129.8h0M647.5 133.7h0M652.2 132.9h0M661.4 131.2h0M666.7 126.5h0M677.7 123.6h0M687.8 132.0h0M690.5 132.6h0M700.9 124.2h0M707.9 131.2h0M716.6 123.7h0M718.0 128.4h0M726.8 129.8h0M731.5 130.1h0M739.3 131.7h0M740.5 133.3h0M741.6 126.6h0M750.7 126.1h0M754.7 124.0h0M759.3 133.8h0M765.0 132.8h0M765.9 132.4h0M772.7 132.3h0M784.7 127.5h0M796.7 124.1h0M803.5 130.5h0M811.6 127.5h0M815.6 128.1h0M819.2 132.1h0M830.6 127.1h0M834.3 125.4h0M861.7 127.0h0M881.3 131.5h0M882.6 134.2h0M890.4 130.6h0M905.3 133.3h0M906.3 133.6h0M908.4 127.3h0M911.4 130.7h0M912.6 124.4h0M917.4 126.9h0" stroke="#fff" stroke-opacity="0.6" stroke-width="1.8"/>
<path d="M58.7 127.5h0M60.0 133.2h0M61.1 129.2h0M62.8 129.8h0M73.3 133.8h0M76.4 134.9h0M77.0 131.4h0M78.9 127.2h0M81.5 135.6h0M86.6 128.2h0M87.6 130.2h0M88.5 133.0h0M90.8 127.5h0M92.2 129.3h0M94.2 126.2h0M101.7 130.8h0M106.7 129.5h0M107.5 125.5h0M112.1 133.1h0M113.9 126.3h0M116.3 125.3h0M117.2 130.0h0M119.9 133.1h0M120.5 135.3h0M123.3 129.9h0M135.9 132.4h0M136.3 129.5h0M140.0 127.8h0M141.7 134.3h0M150.6 133.2h0M151.2 127.9h0M153.9 130.9h0M158.4 130.3h0M162.0 124.7h0M163.8 126.4h0M165.5 128.6h0M168.6 126.2h0M175.4 135.9h0M176.5 132.1h0M184.0 131.3h0M189.9 132.8h0M191.2 126.8h0M192.7 129.9h0M195.1 128.9h0M199.2 130.3h0M201.9 133.5h0M203.5 133.3h0M203.8 134.1h0M211.4 125.0h0M214.4 134.9h0M218.2 128.8h0M229.1 132.5h0M230.5 126.3h0M234.2 131.4h0M242.4 133.0h0M243.7 127.7h0M244.4 132.5h0M248.4 134.3h0M251.4 130.4h0M255.4 133.3h0M261.8 132.7h0M266.6 132.4h0M268.1 129.7h0M274.0 128.7h0M275.8 132.6h0M281.1 132.8h0M283.8 129.3h0M284.8 129.2h0M291.4 124.8h0M293.7 129.2h0M298.8 131.3h0M305.3 129.5h0M310.0 125.5h0M313.8 129.0h0M317.1 128.7h0M317.4 127.5h0M318.3 127.2h0M321.1 130.1h0M328.8 128.3h0M329.3 129.2h0M337.5 127.3h0M338.5 131.2h0M347.9 135.1h0M352.0 130.0h0M355.7 134.8h0M358.5 125.2h0M360.9 126.4h0M365.5 131.8h0M365.8 133.7h0M369.6 133.1h0M372.3 129.2h0M373.1 128.6h0M380.4 124.5h0M381.5 124.6h0M381.9 130.4h0M382.6 126.3h0M383.0 131.6h0M386.8 129.0h0M391.0 132.5h0M391.3 133.3h0M405.8 131.7h0M411.2 134.4h0M412.0 127.0h0M414.1 126.3h0M414.9 131.7h0M415.2 133.4h0M417.2 125.9h0M419.7 130.0h0M423.7 126.9h0M426.6 132.7h0M428.8 134.3h0M438.2 127.4h0M453.8 131.8h0M454.2 133.2h0M455.1 131.4h0M455.9 132.8h0M460.4 127.8h0M464.5 131.9h0M466.0 128.0h0M471.6 127.2h0M483.6 133.2h0M485.1 128.6h0M492.0 129.2h0M494.1 129.7h0M498.3 129.0h0M498.9 127.3h0M504.0 134.3h0M506.9 129.7h0M512.5 127.2h0M512.6 128.2h0M513.2 125.7h0M519.7 130.3h0M520.8 132.5h0M523.2 133.6h0M523.9 125.3h0M530.4 129.8h0M532.6 133.4h0M533.6 134.9h0M535.9 126.8h0M536.2 132.7h0M538.4 133.6h0M539.5 127.2h0M545.2 134.9h0M551.1 125.0h0M553.8 128.6h0M555.7 128.2h0M556.0 129.3h0M557.2 133.9h0M557.6 127.1h0M560.9 125.2h0M565.3 133.8h0M570.6 131.6h0M571.2 131.0h0M573.2 125.2h0M574.1 133.4h0M575.3 130.9h0M576.2 131.5h0M582.9 129.6h0M591.0 125.4h0M593.2 133.4h0M593.3 129.3h0M603.0 125.6h0M606.3 133.8h0M608.8 134.2h0M616.3 129.0h0M620.9 134.3h0M621.4 129.5h0M622.6 126.1h0M624.0 125.4h0M624.3 130.9h0M626.0 134.6h0M626.8 132.6h0M628.6 130.2h0M632.8 125.3h0M637.4 133.8h0M641.4 135.0h0M646.9 133.4h0M653.2 126.9h0M654.8 134.0h0M660.8 129.1h0M663.9 135.3h0M670.9 132.8h0M672.3 131.1h0M673.1 126.5h0M674.8 131.3h0M676.1 126.4h0M684.3 131.2h0M691.4 126.5h0M692.0 132.6h0M697.9 126.4h0M698.3 124.9h0M700.7 127.4h0M702.1 130.4h0M704.6 127.1h0M704.8 134.4h0M707.8 129.7h0M709.2 131.8h0M711.4 124.1h0M715.3 131.3h0M716.4 125.7h0M722.5 129.5h0M725.7 131.2h0M730.1 128.0h0M731.4 133.2h0M733.0 132.5h0M735.3 133.4h0M736.8 130.8h0M740.4 128.8h0M744.6 124.9h0M745.1 133.1h0M748.2 129.8h0M749.3 126.3h0M750.1 127.0h0M751.5 127.9h0M753.0 125.7h0M756.4 128.6h0M761.8 131.1h0M763.8 131.1h0M772.3 135.0h0M772.7 125.4h0M775.6 134.1h0M776.1 125.5h0M779.1 132.5h0M779.7 134.8h0M780.5 133.4h0M784.1 127.9h0M785.6 128.6h0M788.5 130.3h0M788.7 129.0h0M790.1 128.1h0M791.9 132.3h0M793.6 134.8h0M798.1 130.9h0M802.9 131.1h0M810.1 134.8h0M812.6 129.1h0M813.9 128.2h0M822.3 126.8h0M826.6 134.1h0M828.2 134.3h0M828.6 133.2h0M829.8 134.3h0M833.9 127.6h0M841.8 129.4h0M845.1 125.3h0M848.4 129.5h0M848.8 132.8h0M851.3 130.1h0M853.6 129.4h0M856.2 131.4h0M859.3 128.9h0M865.1 129.5h0M867.8 128.9h0M869.5 128.4h0M871.1 124.8h0M872.1 131.0h0M874.3 126.8h0M878.6 133.5h0M885.4 132.2h0M886.0 126.8h0M894.0 126.0h0M909.6 127.9h0M915.2 132.2h0M916.3 126.3h0M918.4 124.8h0M919.9 127.0h0M920.2 131.5h0M921.4 133.8h0M921.8 131.7h0M922.8 129.5h0M928.9 131.0h0M936.8 131.1h0" stroke="#ff00ff" stroke-width="6.4"/>
<path d="M59.6 132.3h0M60.7 128.3h0M72.9 132.9h0M76.6 130.5h0M81.1 134.7h0M91.8 128.4h0M93.8 125.3h0M135.5 131.5h0M135.9 128.6h0M139.6 126.9h0M141.3 133.4h0M153.5 130.0h0M158.0 129.4h0M163.4 125.5h0M165.1 127.7h0M176.1 131.2h0M183.6 130.4h0M228.7 131.6h0M230.1 125.4h0M242.0 132.1h0M251.0 129.5h0M261.4 131.8h0M267.7 128.8h0M273.6 127.8h0M275.4 131.7h0M280.7 131.9h0M284.4 128.3h0M304.9 128.6h0M317.0 126.6h0M317.9 126.3h0M320.7 129.2h0M328.9 128.3h0M337.1 126.4h0M338.1 130.3h0M347.5 134.2h0M365.1 130.9h0M372.7 127.7h0M380.0 123.6h0M381.1 123.7h0M386.4 128.1h0M405.4 130.8h0M419.3 129.1h0M423.3 126.0h0M453.4 130.9h0M453.8 132.3h0M483.2 132.3h0M491.6 128.3h0M512.8 124.8h0M520.4 131.6h0M523.5 124.4h0M532.2 132.5h0M539.1 126.3h0M555.3 127.3h0M555.6 128.4h0M556.8 133.0h0M570.2 130.7h0M572.8 124.3h0M582.5 128.7h0M605.9 132.9h0M608.4 133.3h0M622.2 125.2h0M623.6 124.5h0M626.4 131.7h0M641.0 134.1h0M654.4 133.1h0M683.9 130.3h0M691.6 131.7h0M707.4 128.8h0M708.8 130.9h0M711.0 123.2h0M731.0 132.3h0M732.6 131.6h0M740.0 127.9h0M744.7 132.2h0M752.6 124.8h0M761.4 130.2h0M775.2 133.2h0M788.3 128.1h0M791.5 131.4h0M797.7 130.0h0M812.2 128.2h0M813.5 127.3h0M828.2 132.3h0M829.4 133.4h0M841.4 128.5h0M848.4 131.9h0M853.2 128.5h0M855.8 130.5h0M864.7 128.6h0M867.4 128.0h0M869.1 127.5h0M870.7 123.9h0M885.0 131.3h0M885.6 125.9h0M893.6 125.1h0M914.8 131.3h0M918.0 123.9h0M921.4 130.8h0M922.4 128.6h0" stroke="#fff" stroke-opacity="0.6" stroke-width="1.8"/>
</g>
<g stroke-linecap="round" fill="none">
<path d="M57.4 178.0h0M64.5 179.2h0M67.3 186.8h0M68.8 185.1h0M69.6 182.2h0M97.0 189.1h0M105.1 179.6h0M109.8 181.7h0M112.9 182.8h0M116.8 181.6h0M128.8 184.4h0M141.4 180.2h0M146.1 180.3h0M148.9 183.2h0M149.3 181.5h0M154.4 178.3h0M163.9 178.9h0M165.9 178.6h0M171.0 177.9h0M179.2 186.3h0M180.9 186.3h0M183.3 179.7h0M190.0 183.3h0M198.1 178.0h0M205.7 182.0h0M214.5 178.4h0M221.7 177.5h0M228.9 177.5h0M231.4 185.6h0M238.5 178.8h0M252.3 182.0h0M254.7 185.4h0M261.9 181.8h0M287.4 183.8h0M294.2 182.9h0M297.9 178.1h0M300.2 180.4h0M301.1 182.1h0M306.1 179.6h0M308.3 183.0h0M311.4 185.4h0M315.6 177.8h0M326.4 176.5h0M328.3 184.6h0M334.3 184.2h0M339.9 184.5h0M351.4 177.7h0M353.2 178.7h0M358.8 179.3h0M364.4 181.8h0M366.8 176.4h0M376.1 177.4h0M377.8 184.6h0M384.7 184.6h0M393.7 185.4h0M401.8 177.1h0M409.4 185.1h0M430.2 178.7h0M440.8 185.1h0M446.5 180.2h0M452.6 180.3h0M467.2 184.1h0M473.9 177.9h0M481.6 175.3h0M482.6 179.2h0M499.5 184.2h0M504.1 180.1h0M525.0 184.4h0M525.8 182.2h0M526.7 183.4h0M538.7 181.5h0M543.0 184.9h0M549.3 179.8h0M551.6 179.6h0M556.8 177.1h0M577.9 182.5h0M580.0 178.0h0M582.7 185.9h0M592.4 181.9h0M594.8 182.1h0M604.5 186.0h0M605.1 186.0h0M607.9 181.5h0M609.2 179.3h0M611.0 186.6h0M611.9 179.1h0M621.8 186.3h0M627.7 179.5h0M633.7 188.4h0M658.3 180.4h0M669.9 187.2h0M671.7 186.6h0M672.7 185.4h0M680.4 185.7h0M691.1 189.3h0M696.3 185.9h0M714.1 183.1h0M719.0 188.4h0M721.7 188.9h0M727.1 184.9h0M744.6 180.8h0M758.7 186.6h0M774.3 185.2h0M777.2 177.4h0M782.8 184.4h0M790.3 185.7h0M819.0 180.2h0M825.2 180.9h0M826.7 183.7h0M828.7 177.6h0M832.4 179.2h0M842.2 186.2h0M847.4 177.9h0M849.8 179.3h0M868.6 177.1h0M870.3 179.8h0M885.6 180.1h0M889.1 181.0h0M890.6 186.7h0M906.1 179.3h0M907.8 184.1h0M914.2 178.7h0M926.1 181.1h0M938.3 181.9h0" stroke="#7a0a00" stroke-width="6.4"/>
<path d="M104.7 178.7h0M128.4 183.5h0M180.5 185.4h0M182.9 178.8h0M254.3 184.5h0M311.0 184.5h0M327.9 183.7h0M351.0 176.8h0M440.4 184.2h0M452.2 179.4h0M466.8 183.2h0M482.2 178.3h0M524.6 183.5h0M525.4 181.3h0M582.3 185.0h0M657.9 179.5h0M671.3 185.7h0M726.7 184.0h0M776.8 176.5h0M841.8 185.3h0" stroke="#fff" stroke-opacity="0.75" stroke-width="1.8"/>
<path d="M86.9 182.7h0M95.2 186.3h0M99.3 188.0h0M106.8 182.9h0M115.8 188.5h0M122.3 180.4h0M131.0 179.4h0M131.5 181.2h0M147.8 186.8h0M159.0 180.4h0M167.9 184.9h0M170.4 181.8h0M182.8 186.1h0M192.5 183.9h0M199.3 185.7h0M202.3 185.3h0M223.4 177.8h0M223.8 180.4h0M239.7 183.6h0M247.1 182.7h0M258.5 180.2h0M314.0 178.4h0M320.7 178.6h0M321.9 183.7h0M324.2 184.6h0M330.4 176.2h0M340.5 182.2h0M341.9 182.4h0M348.7 184.7h0M360.6 181.8h0M363.7 182.6h0M371.2 185.5h0M374.5 177.2h0M395.5 181.7h0M412.9 181.7h0M429.6 182.3h0M433.0 183.6h0M438.8 182.9h0M439.0 178.0h0M444.5 184.7h0M458.4 185.2h0M470.8 179.4h0M472.5 176.8h0M477.3 183.5h0M478.4 184.9h0M491.1 179.3h0M495.5 178.4h0M516.1 179.6h0M518.4 184.4h0M519.7 182.5h0M521.4 179.3h0M523.5 176.4h0M533.4 185.4h0M536.2 179.1h0M541.7 177.6h0M546.6 179.0h0M559.2 179.4h0M559.8 177.9h0M561.0 178.6h0M571.7 184.6h0M573.5 184.0h0M575.1 185.8h0M586.4 184.0h0M589.2 177.7h0M590.5 182.6h0M598.7 184.5h0M622.8 184.8h0M634.6 182.0h0M636.3 186.8h0M641.5 185.0h0M642.7 188.3h0M649.0 182.7h0M654.1 184.3h0M655.4 187.6h0M669.3 180.8h0M673.4 185.2h0M676.6 180.9h0M677.5 188.2h0M680.8 185.9h0M688.6 186.8h0M698.1 185.4h0M701.1 183.0h0M706.4 189.1h0M712.2 186.7h0M713.3 185.9h0M718.4 188.8h0M724.5 189.5h0M732.3 188.5h0M741.4 186.1h0M746.4 182.3h0M753.7 188.1h0M765.0 184.3h0M769.7 182.2h0M802.2 180.5h0M805.9 183.5h0M807.5 183.9h0M820.7 184.6h0M821.4 183.1h0M823.7 180.1h0M830.1 183.8h0M832.8 179.5h0M835.9 186.3h0M845.0 181.7h0M875.9 180.4h0M880.0 185.0h0M886.6 180.9h0M891.1 180.6h0M894.7 182.3h0M896.7 178.4h0M901.9 180.8h0M917.5 182.5h0M926.6 182.1h0M935.6 186.4h0" stroke="#7a0a00" stroke-width="6.4"/>
<path d="M258.1 179.3h0M323.8 183.7h0M370.8 184.6h0M395.1 180.8h0M472.1 175.9h0M478.0 184.0h0M519.3 181.6h0M541.3 176.7h0M546.2 178.1h0M560.6 177.7h0M573.1 183.1h0M653.7 183.4h0M677.1 187.3h0M741.0 185.2h0M821.0 182.2h0M844.6 180.8h0" stroke="#fff" stroke-opacity="0.75" stroke-width="1.8"/>
<path d="M59.6 182.7h0M71.4 187.5h0M72.0 181.6h0M80.0 181.7h0M84.4 184.1h0M90.8 185.3h0M127.3 180.3h0M141.5 185.6h0M144.0 183.0h0M157.6 184.7h0M172.2 179.7h0M188.6 186.1h0M196.5 182.9h0M209.5 180.2h0M213.3 180.6h0M215.5 178.1h0M217.3 180.4h0M233.3 182.0h0M236.4 181.2h0M237.6 178.3h0M253.9 177.1h0M256.6 185.8h0M260.8 181.7h0M275.6 184.6h0M283.3 184.3h0M292.9 181.9h0M299.4 177.5h0M305.5 182.8h0M338.2 185.3h0M345.7 182.2h0M355.4 183.1h0M356.8 182.1h0M367.1 183.6h0M369.4 178.2h0M373.1 178.4h0M383.5 183.3h0M386.0 184.7h0M388.8 180.2h0M389.9 184.1h0M397.1 183.1h0M403.7 180.3h0M407.3 179.7h0M425.6 179.5h0M435.0 183.7h0M450.2 179.1h0M451.2 179.2h0M455.1 179.4h0M455.5 180.6h0M459.9 177.7h0M462.4 183.3h0M474.9 182.6h0M479.7 180.2h0M485.6 180.5h0M498.2 178.8h0M502.4 181.1h0M505.0 177.7h0M512.0 180.7h0M513.5 178.1h0M517.4 177.2h0M528.6 182.0h0M539.4 180.8h0M545.0 179.3h0M546.7 177.1h0M572.1 184.0h0M585.5 184.6h0M600.5 178.1h0M602.1 183.7h0M606.6 185.7h0M613.0 185.0h0M644.1 184.2h0M651.2 182.3h0M652.6 181.6h0M655.8 185.2h0M660.0 180.6h0M661.3 189.1h0M690.1 184.1h0M699.8 185.5h0M703.1 182.3h0M703.7 182.4h0M708.0 188.0h0M720.2 185.5h0M726.3 182.9h0M730.6 184.4h0M734.1 180.9h0M736.2 184.2h0M736.9 184.4h0M742.9 188.7h0M749.9 188.3h0M750.9 187.5h0M752.5 183.3h0M763.9 183.4h0M778.9 180.3h0M789.1 177.9h0M793.5 183.9h0M798.6 184.3h0M809.1 180.6h0M818.2 181.3h0M855.4 180.5h0M864.8 177.3h0M867.4 178.8h0M873.3 185.7h0M882.9 184.5h0M902.5 182.4h0M910.0 181.8h0M910.3 183.1h0M911.9 185.6h0M918.5 187.0h0M921.5 186.6h0M922.9 183.4h0M933.4 185.8h0M941.2 190.6h0" stroke="#7a0a00" stroke-width="6.4"/>
<path d="M90.4 184.4h0M141.1 184.7h0M216.9 179.5h0M282.9 183.4h0M337.8 184.4h0M366.7 182.7h0M383.1 182.4h0M389.5 183.2h0M459.5 176.8h0M474.5 181.7h0M479.3 179.3h0M485.2 179.6h0M650.8 181.4h0M652.2 180.7h0M719.8 184.6h0M735.8 183.3h0M749.5 187.4h0M817.8 180.4h0M855.0 179.6h0" stroke="#fff" stroke-opacity="0.75" stroke-width="1.8"/>
<path d="M61.4 181.3h0M82.9 188.8h0M88.8 185.7h0M97.2 188.7h0M111.6 181.2h0M117.5 180.5h0M120.7 187.5h0M122.7 180.8h0M124.6 180.6h0M135.0 179.5h0M136.0 178.5h0M138.5 185.5h0M151.6 182.7h0M159.5 182.1h0M185.6 178.7h0M186.0 178.3h0M187.6 183.0h0M193.7 186.0h0M195.7 184.7h0M218.7 177.0h0M226.5 183.3h0M228.7 181.7h0M230.9 176.7h0M243.3 185.3h0M244.1 176.8h0M246.4 180.7h0M250.8 181.2h0M264.1 184.0h0M264.6 182.2h0M277.9 185.8h0M280.0 180.1h0M283.0 178.8h0M285.2 181.4h0M285.8 177.8h0M290.5 176.6h0M295.5 180.0h0M296.6 177.1h0M304.3 176.5h0M309.3 179.0h0M313.4 183.6h0M319.1 184.6h0M332.2 179.2h0M333.0 184.8h0M335.8 177.4h0M336.7 185.4h0M343.8 181.3h0M345.0 176.9h0M356.0 183.1h0M362.5 183.1h0M412.3 183.3h0M414.5 180.3h0M417.7 183.5h0M420.9 180.9h0M422.5 176.7h0M428.1 177.6h0M436.1 183.8h0M447.4 181.4h0M460.9 185.2h0M476.0 181.2h0M484.5 179.6h0M493.6 182.2h0M501.4 185.0h0M506.6 176.4h0M529.6 178.0h0M532.4 181.2h0M541.2 183.9h0M552.4 184.3h0M553.5 181.4h0M562.4 177.8h0M563.8 179.5h0M564.4 176.7h0M567.8 184.8h0M568.5 183.4h0M597.8 185.5h0M603.1 179.0h0M614.9 180.2h0M626.1 186.8h0M626.7 184.3h0M629.6 181.9h0M631.4 179.2h0M632.6 182.5h0M640.3 183.8h0M646.6 186.6h0M657.6 185.2h0M674.7 183.8h0M684.3 184.3h0M685.4 181.3h0M686.2 183.5h0M687.6 183.7h0M692.9 181.7h0M693.5 190.7h0M694.9 184.7h0M708.9 185.7h0M729.3 182.2h0M740.3 183.1h0M754.4 185.8h0M755.6 186.1h0M760.1 179.2h0M761.1 184.0h0M762.7 186.3h0M766.3 184.1h0M767.5 179.4h0M774.8 182.0h0M785.7 183.0h0M787.5 178.7h0M802.5 178.4h0M816.8 186.0h0M824.5 182.8h0M839.1 183.1h0M843.7 184.6h0M845.7 185.6h0M849.1 183.6h0M852.1 181.0h0M853.7 177.7h0M856.0 177.0h0M858.6 179.6h0M860.4 179.6h0M862.2 182.7h0M871.9 183.4h0M872.2 185.8h0M893.5 178.8h0M898.6 184.8h0M904.9 181.1h0M919.2 186.1h0M924.5 185.3h0" stroke="#7a0a00" stroke-width="6.4"/>
<path d="M82.5 187.9h0M134.6 178.6h0M159.1 181.2h0M282.6 177.9h0M285.4 176.9h0M290.1 175.7h0M331.8 178.3h0M332.6 183.9h0M435.7 182.9h0M532.0 180.3h0M564.0 175.8h0M567.4 183.9h0M602.7 178.1h0M674.3 182.9h0M692.5 180.8h0M708.5 184.8h0M754.0 184.9h0M762.3 185.4h0M774.4 181.1h0M787.1 177.8h0M851.7 180.1h0M918.8 185.2h0" stroke="#fff" stroke-opacity="0.75" stroke-width="1.8"/>
<path d="M55.4 175.1h0M58.1 174.6h0M66.3 178.6h0M73.8 181.5h0M76.5 185.2h0M78.9 183.3h0M88.2 184.5h0M91.9 189.1h0M93.6 189.1h0M100.2 180.3h0M104.3 181.4h0M107.4 186.5h0M111.0 180.9h0M114.8 182.2h0M125.5 184.1h0M127.7 184.8h0M133.7 186.9h0M155.5 183.6h0M161.6 180.6h0M162.2 180.5h0M168.4 179.5h0M173.3 184.5h0M174.9 180.1h0M176.4 184.2h0M177.4 184.5h0M191.9 180.6h0M199.8 183.6h0M201.9 177.2h0M206.8 179.3h0M219.3 180.3h0M226.0 186.0h0M234.5 178.1h0M241.3 183.6h0M248.1 179.1h0M259.4 185.1h0M266.2 181.3h0M270.5 184.6h0M271.0 184.9h0M272.1 182.7h0M288.8 178.1h0M303.2 178.5h0M318.0 182.1h0M326.0 185.5h0M359.3 182.0h0M378.6 180.6h0M381.2 182.1h0M382.7 183.1h0M392.3 183.5h0M400.7 183.4h0M402.5 180.3h0M408.6 177.3h0M415.4 178.9h0M417.2 182.6h0M424.3 177.6h0M427.4 185.1h0M432.6 180.5h0M441.9 178.6h0M443.4 179.8h0M457.5 177.6h0M464.2 179.3h0M465.5 177.6h0M465.8 182.4h0M469.5 180.1h0M486.0 179.9h0M490.9 176.5h0M492.8 178.3h0M496.9 176.5h0M499.8 183.4h0M507.6 184.3h0M508.7 181.5h0M534.9 177.1h0M537.1 182.2h0M549.1 180.7h0M570.6 182.6h0M583.6 182.0h0M588.1 181.7h0M593.8 178.3h0M619.0 186.5h0M624.9 181.2h0M637.6 184.5h0M638.0 180.6h0M644.7 186.2h0M663.6 184.1h0M666.1 188.9h0M679.5 189.3h0M682.3 189.9h0M698.9 182.0h0M715.5 183.2h0M728.2 189.1h0M733.1 183.7h0M743.7 183.9h0M747.7 181.9h0M748.4 183.0h0M757.4 187.0h0M769.1 184.7h0M776.2 180.3h0M792.4 177.7h0M795.9 181.6h0M796.8 184.8h0M800.6 181.3h0M804.8 178.0h0M806.8 186.0h0M811.0 181.8h0M812.3 177.0h0M816.2 178.7h0M838.1 184.3h0M863.8 180.2h0M875.3 181.2h0M877.7 177.3h0M881.8 184.2h0M887.5 182.6h0M895.4 178.0h0M913.7 179.1h0M915.5 182.7h0M928.2 187.7h0M934.9 184.7h0M937.3 184.0h0M939.3 182.8h0" stroke="#7a0a00" stroke-width="6.4"/>
<path d="M110.6 180.0h0M127.3 183.9h0M201.5 176.3h0M225.6 185.1h0M234.1 177.2h0M288.4 177.2h0M380.8 181.2h0M457.1 176.7h0M465.1 176.7h0M507.2 183.4h0M508.3 180.6h0M548.7 179.8h0M681.9 189.0h0M698.5 181.1h0M748.0 182.1h0M757.0 186.1h0M775.8 179.4h0M811.9 176.1h0" stroke="#fff" stroke-opacity="0.75" stroke-width="1.8"/>
<path d="M61.9 184.6h0M63.6 183.3h0M74.4 181.2h0M78.0 188.6h0M81.9 189.0h0M85.3 185.0h0M92.4 182.7h0M102.0 188.4h0M102.2 187.3h0M119.0 182.7h0M137.6 184.9h0M140.1 180.9h0M142.8 178.0h0M152.7 182.5h0M153.0 186.8h0M165.1 184.8h0M180.7 180.4h0M204.3 183.2h0M208.0 178.6h0M211.0 182.5h0M211.5 178.0h0M221.2 184.3h0M242.2 182.7h0M249.3 183.6h0M256.7 180.1h0M267.0 184.1h0M268.4 184.0h0M273.4 178.2h0M276.4 177.0h0M278.4 177.1h0M281.0 178.3h0M291.9 177.8h0M311.0 184.3h0M316.5 181.5h0M323.3 178.7h0M329.1 182.0h0M347.5 186.6h0M349.9 182.2h0M351.8 186.1h0M368.9 183.4h0M373.5 184.6h0M379.5 184.3h0M388.0 179.2h0M391.2 179.6h0M397.9 180.1h0M398.6 184.2h0M404.8 184.5h0M410.0 179.0h0M419.6 183.7h0M423.2 177.3h0M436.5 185.5h0M449.1 181.7h0M453.6 178.9h0M469.3 185.2h0M487.1 177.0h0M489.2 181.9h0M510.0 180.8h0M514.3 183.2h0M520.6 177.1h0M530.3 182.9h0M554.8 179.3h0M556.3 179.8h0M566.0 180.4h0M576.2 182.2h0M578.9 185.4h0M581.6 186.2h0M591.9 180.0h0M596.7 186.4h0M616.1 178.8h0M616.6 184.5h0M617.9 184.5h0M620.8 185.5h0M647.1 188.4h0M649.3 187.9h0M662.2 187.1h0M665.4 186.0h0M667.0 186.8h0M706.0 183.6h0M710.7 183.5h0M717.2 183.3h0M723.4 187.1h0M737.8 181.4h0M771.9 177.6h0M773.0 183.7h0M779.9 178.9h0M781.4 177.5h0M784.1 182.8h0M786.4 181.2h0M791.7 181.2h0M797.4 184.0h0M812.7 184.5h0M814.4 176.8h0M831.4 178.4h0M834.9 184.4h0M837.2 182.0h0M841.3 181.8h0M851.2 179.7h0M857.4 183.7h0M860.8 177.3h0M865.9 185.5h0M878.6 182.1h0M884.6 179.7h0M897.3 182.1h0M900.2 184.0h0M907.0 182.6h0M920.3 181.2h0M930.2 181.2h0M930.2 180.0h0M932.7 180.7h0" stroke="#7a0a00" stroke-width="6.4"/>
<path d="M77.6 187.7h0M139.7 180.0h0M142.4 177.1h0M211.1 177.1h0M397.5 179.2h0M422.8 176.4h0M486.7 176.1h0M520.2 176.2h0M565.6 179.5h0M661.8 186.2h0M666.6 185.9h0M723.0 186.2h0M834.5 183.5h0M919.9 180.3h0" stroke="#fff" stroke-opacity="0.75" stroke-width="1.8"/>
</g>
<g stroke-linecap="round" fill="none">
<path d="M61.8 177.0h0M63.4 177.6h0M65.1 182.6h0M70.2 188.1h0M72.6 187.1h0M74.4 180.8h0M86.4 188.2h0M87.9 184.0h0M88.8 187.2h0M89.3 188.9h0M91.6 187.4h0M98.3 189.1h0M103.0 183.6h0M115.8 186.9h0M116.7 182.9h0M117.6 185.1h0M120.2 184.1h0M120.8 184.8h0M125.7 180.6h0M130.9 185.6h0M134.0 183.8h0M134.2 186.8h0M136.2 184.4h0M137.5 180.6h0M143.0 185.9h0M143.8 182.4h0M144.5 181.5h0M147.8 179.9h0M148.6 179.7h0M149.0 180.5h0M150.6 185.6h0M150.9 181.3h0M154.5 180.7h0M165.9 184.1h0M168.9 180.4h0M171.0 182.8h0M173.7 184.5h0M176.8 184.3h0M178.3 181.3h0M189.5 183.7h0M190.2 185.0h0M194.0 183.4h0M197.6 181.4h0M200.3 181.0h0M204.6 181.9h0M208.6 182.7h0M214.3 178.3h0M226.1 184.8h0M227.1 181.3h0M234.2 182.2h0M239.4 182.2h0M241.7 177.8h0M242.3 182.9h0M244.4 180.1h0M246.3 180.6h0M251.4 183.5h0M253.6 184.1h0M254.3 178.9h0M256.2 184.2h0M268.3 185.3h0M269.8 182.9h0M270.1 185.5h0M274.5 180.5h0M278.3 183.1h0M278.7 185.8h0M280.6 184.3h0M283.2 180.1h0M289.1 184.3h0M290.8 184.9h0M294.0 184.8h0M298.3 179.2h0M300.7 181.5h0M301.2 177.5h0M302.1 179.9h0M307.2 185.3h0M307.5 181.5h0M308.9 185.9h0M311.8 178.4h0M315.2 179.4h0M318.8 184.1h0M319.5 177.9h0M324.3 179.7h0M329.4 185.9h0M336.5 180.7h0M337.5 178.0h0M341.2 182.8h0M342.5 180.5h0M344.1 179.2h0M344.3 179.3h0M350.3 184.7h0M356.8 178.0h0M359.5 185.5h0M362.0 181.4h0M362.7 178.7h0M366.6 177.9h0M372.9 183.2h0M375.0 183.2h0M379.0 179.8h0M396.9 179.7h0M410.9 182.4h0M413.2 178.4h0M433.3 182.3h0M433.7 180.6h0M434.4 184.9h0M435.8 181.1h0M437.0 182.9h0M439.0 185.8h0M440.2 179.7h0M441.0 181.4h0M443.7 177.6h0M445.3 179.8h0M456.3 178.9h0M459.8 180.5h0M461.1 178.1h0M471.3 184.7h0M475.6 185.1h0M475.8 184.0h0M480.9 180.4h0M489.7 179.6h0M491.8 177.6h0M494.9 183.6h0M502.9 183.1h0M507.1 185.1h0M507.6 181.4h0M509.8 182.0h0M513.1 179.8h0M521.4 180.9h0M525.6 184.4h0M525.8 181.9h0M528.6 182.1h0M535.0 177.8h0M538.4 181.6h0M539.7 186.2h0M543.3 177.9h0M546.0 183.1h0M548.3 180.7h0M549.9 183.9h0M556.2 180.1h0M557.3 184.3h0M559.8 185.8h0M562.7 182.3h0M576.6 185.9h0M578.9 184.0h0M579.5 187.3h0M580.5 184.0h0M583.1 182.9h0M590.3 180.8h0M596.6 180.3h0M600.1 181.7h0M603.7 179.3h0M609.0 181.5h0M612.6 181.7h0M613.8 185.2h0M620.2 182.6h0M622.8 186.9h0M625.0 179.2h0M627.3 186.1h0M629.0 184.8h0M643.2 187.0h0M644.1 189.4h0M644.8 186.4h0M651.6 185.4h0M655.3 184.4h0M662.8 186.8h0M669.7 187.7h0M670.3 184.9h0M674.3 189.5h0M684.5 189.8h0M686.4 182.0h0M693.1 183.6h0M694.7 187.7h0M700.6 185.3h0M702.0 182.9h0M708.8 190.0h0M711.3 190.8h0M712.1 183.8h0M716.1 184.8h0M720.3 185.1h0M720.7 183.3h0M722.1 187.9h0M724.2 187.6h0M735.5 188.3h0M736.1 184.1h0M738.0 182.6h0M750.1 189.4h0M766.3 180.6h0M773.5 181.8h0M776.9 184.2h0M782.2 180.4h0M784.4 181.1h0M785.8 177.9h0M786.7 180.2h0M788.5 181.6h0M792.8 183.2h0M793.7 183.2h0M796.8 181.9h0M804.1 178.5h0M806.4 179.0h0M808.2 185.5h0M809.2 185.0h0M810.4 182.5h0M811.3 178.8h0M820.1 183.6h0M824.9 185.3h0M826.4 185.0h0M830.5 184.5h0M833.3 182.6h0M840.2 184.7h0M843.2 179.1h0M844.5 183.3h0M845.2 183.1h0M850.8 180.5h0M856.6 184.5h0M857.3 183.1h0M858.0 185.2h0M860.7 186.2h0M870.1 179.5h0M873.4 181.4h0M878.2 180.4h0M879.3 183.3h0M880.1 187.8h0M884.4 183.6h0M887.4 180.3h0M893.6 187.7h0M896.3 184.1h0M901.6 182.3h0M903.4 180.2h0M914.2 186.3h0M915.1 185.6h0M915.8 182.2h0M917.0 182.1h0M921.9 185.9h0M931.7 184.7h0M933.4 184.9h0M934.6 182.7h0M936.2 185.4h0" stroke="#0000f8" stroke-width="6.4"/>
<path d="M63.0 176.7h0M88.4 186.3h0M88.9 188.0h0M91.2 186.5h0M102.6 182.7h0M117.2 184.2h0M120.4 183.9h0M130.5 184.7h0M144.1 180.6h0M147.4 179.0h0M150.5 180.4h0M177.9 180.4h0M197.2 180.5h0M199.9 180.1h0M204.2 181.0h0M208.2 181.8h0M213.9 177.4h0M225.7 183.9h0M226.7 180.4h0M241.9 182.0h0M245.9 179.7h0M253.9 178.0h0M255.8 183.3h0M269.4 182.0h0M274.1 179.6h0M277.9 182.2h0M278.3 184.9h0M280.2 183.4h0M288.7 183.4h0M290.4 184.0h0M293.6 183.9h0M301.7 179.0h0M318.4 183.2h0M319.1 177.0h0M329.0 185.0h0M337.1 177.1h0M356.4 177.1h0M359.1 184.6h0M362.3 177.8h0M374.6 182.3h0M434.0 184.0h0M440.6 180.5h0M443.3 176.7h0M489.3 178.7h0M491.4 176.7h0M494.5 182.7h0M507.2 180.5h0M509.4 181.1h0M525.2 183.5h0M534.6 176.9h0M539.3 185.3h0M545.6 182.2h0M555.8 179.2h0M556.9 183.4h0M562.3 181.4h0M576.2 185.0h0M578.5 183.1h0M580.1 183.1h0M582.7 182.0h0M589.9 179.9h0M599.7 180.8h0M613.4 184.3h0M619.8 181.7h0M622.4 186.0h0M624.6 178.3h0M626.9 185.2h0M642.8 186.1h0M651.2 184.5h0M700.2 184.4h0M708.4 189.1h0M711.7 182.9h0M721.7 187.0h0M723.8 186.7h0M735.7 183.2h0M765.9 179.7h0M773.1 180.9h0M776.5 183.3h0M785.4 177.0h0M788.1 180.7h0M792.4 182.3h0M796.4 181.0h0M806.0 178.1h0M810.0 181.6h0M810.9 177.9h0M819.7 182.7h0M824.5 184.4h0M826.0 184.1h0M832.9 181.7h0M839.8 183.8h0M842.8 178.2h0M856.9 182.2h0M857.6 184.3h0M878.9 182.4h0M884.0 182.7h0M887.0 179.4h0M893.2 186.8h0M901.2 181.4h0M915.4 181.3h0M931.3 183.8h0M933.0 184.0h0" stroke="#fff" stroke-opacity="0.7" stroke-width="1.8"/>
<path d="M60.8 184.5h0M63.1 181.7h0M65.2 183.1h0M66.0 184.0h0M76.9 181.1h0M79.0 187.3h0M82.6 187.4h0M83.8 187.7h0M84.2 187.0h0M84.8 182.5h0M90.0 187.1h0M90.5 187.1h0M96.1 189.4h0M106.9 185.9h0M112.2 182.1h0M113.8 185.9h0M114.9 182.9h0M117.7 181.0h0M119.5 182.6h0M124.0 181.6h0M152.4 184.8h0M154.1 179.8h0M156.5 180.0h0M157.2 184.9h0M158.2 182.0h0M164.4 182.6h0M174.3 183.7h0M181.5 186.3h0M183.1 182.0h0M183.5 186.9h0M187.4 185.9h0M190.7 179.7h0M192.1 182.0h0M196.2 186.5h0M197.1 181.8h0M203.5 184.4h0M210.3 180.9h0M216.0 180.1h0M217.5 181.4h0M219.2 180.0h0M228.3 182.3h0M232.8 181.8h0M233.8 180.2h0M236.5 184.4h0M237.6 184.3h0M243.1 180.6h0M244.9 183.6h0M245.5 184.3h0M257.8 185.6h0M260.4 180.5h0M264.6 183.8h0M266.6 183.2h0M285.5 180.1h0M288.0 180.2h0M296.7 183.0h0M300.1 178.4h0M303.7 178.3h0M305.1 179.7h0M309.4 180.1h0M311.9 179.7h0M313.3 183.9h0M316.9 185.3h0M326.7 178.6h0M336.9 182.7h0M338.8 179.9h0M339.3 178.3h0M345.3 179.1h0M347.2 181.7h0M347.4 184.4h0M354.7 183.1h0M355.2 181.4h0M356.7 183.1h0M358.4 184.6h0M360.0 180.6h0M363.2 178.9h0M372.1 178.0h0M377.8 181.1h0M381.3 182.6h0M401.3 183.6h0M403.8 182.4h0M407.0 185.0h0M408.9 181.1h0M411.4 180.6h0M414.9 185.2h0M419.1 178.3h0M419.8 183.5h0M427.1 182.2h0M427.7 183.3h0M431.8 180.4h0M437.6 181.6h0M438.3 179.6h0M447.9 177.2h0M450.1 182.6h0M453.1 181.5h0M459.0 184.5h0M462.3 179.2h0M463.4 184.2h0M467.6 181.7h0M469.5 181.3h0M476.7 182.1h0M482.4 184.3h0M483.4 176.9h0M488.4 177.3h0M491.4 177.6h0M498.7 180.5h0M501.4 180.9h0M508.1 184.2h0M513.0 183.0h0M517.8 178.4h0M518.9 185.1h0M527.2 183.0h0M527.9 181.4h0M530.4 180.2h0M531.0 184.3h0M534.5 184.8h0M536.9 179.4h0M540.5 184.6h0M540.9 179.5h0M545.6 183.0h0M546.9 180.1h0M552.1 184.8h0M553.5 178.1h0M561.1 182.6h0M562.3 184.6h0M565.8 186.6h0M569.8 182.9h0M571.4 184.5h0M572.9 183.1h0M583.8 179.2h0M594.1 180.3h0M597.4 184.5h0M597.8 184.8h0M609.5 186.5h0M614.6 183.3h0M615.2 182.3h0M619.8 183.4h0M621.4 185.1h0M625.8 183.8h0M630.8 183.1h0M632.8 183.1h0M637.4 180.4h0M638.4 188.5h0M641.0 182.6h0M642.0 183.8h0M642.1 185.5h0M645.6 183.3h0M646.0 188.9h0M649.5 184.0h0M650.3 182.9h0M651.0 181.8h0M651.9 183.5h0M656.4 189.5h0M658.0 186.8h0M667.7 186.4h0M671.7 184.6h0M673.4 184.3h0M676.9 184.8h0M677.3 183.0h0M682.0 187.1h0M683.4 184.3h0M690.1 187.5h0M691.1 182.6h0M701.5 185.8h0M706.1 190.5h0M708.4 185.1h0M714.7 189.6h0M714.9 190.2h0M716.4 185.9h0M717.1 184.2h0M719.7 188.2h0M721.2 185.8h0M722.5 185.4h0M725.3 187.1h0M739.7 183.3h0M741.8 190.6h0M743.3 185.7h0M744.1 184.7h0M745.1 189.5h0M752.4 181.3h0M753.3 181.4h0M753.7 184.0h0M756.7 184.7h0M758.8 178.9h0M761.0 179.1h0M774.8 182.8h0M778.1 182.4h0M778.1 182.6h0M783.1 178.6h0M787.6 180.4h0M791.3 178.2h0M799.4 181.8h0M801.6 178.0h0M802.2 182.4h0M802.9 181.5h0M803.6 182.2h0M808.9 183.0h0M812.5 180.1h0M813.2 184.1h0M814.0 184.3h0M814.2 185.4h0M815.8 183.1h0M816.2 184.0h0M819.0 186.5h0M821.6 180.7h0M823.4 183.0h0M826.0 184.6h0M828.3 180.1h0M832.5 178.4h0M836.1 179.0h0M838.0 182.8h0M838.7 181.5h0M843.5 184.9h0M847.4 178.0h0M848.1 186.0h0M848.6 185.8h0M851.8 181.3h0M866.0 183.4h0M872.6 183.0h0M880.9 187.0h0M882.9 187.5h0M883.5 184.1h0M885.1 185.0h0M889.3 180.8h0M908.0 183.2h0M912.0 187.2h0M912.5 182.8h0M913.0 185.1h0M917.3 184.2h0M919.6 181.5h0M920.1 183.0h0M922.8 186.5h0M925.3 183.0h0M928.0 183.8h0M936.6 185.6h0M939.6 188.2h0M940.8 187.6h0" stroke="#0000f8" stroke-width="6.4"/>
<path d="M60.4 183.6h0M76.5 180.2h0M82.2 186.5h0M95.7 188.5h0M106.5 185.0h0M111.8 181.2h0M164.0 181.7h0M173.9 182.8h0M182.7 181.1h0M183.1 186.0h0M187.0 185.0h0M195.8 185.6h0M203.1 183.5h0M209.9 180.0h0M227.9 181.4h0M232.4 180.9h0M233.4 179.3h0M236.1 183.5h0M242.7 179.7h0M260.0 179.6h0M264.2 182.9h0M266.2 182.3h0M285.1 179.2h0M304.7 178.8h0M311.5 178.8h0M338.4 179.0h0M354.3 182.2h0M358.0 183.7h0M362.8 178.0h0M371.7 177.1h0M380.9 181.7h0M400.9 182.7h0M406.6 184.1h0M411.0 179.7h0M414.5 184.3h0M418.7 177.4h0M419.4 182.6h0M431.4 179.5h0M452.7 180.6h0M463.0 183.3h0M469.1 180.4h0M476.3 181.2h0M483.0 176.0h0M501.0 180.0h0M507.7 183.3h0M551.7 183.9h0M553.1 177.2h0M560.7 181.7h0M561.9 183.7h0M593.7 179.4h0M609.1 185.6h0M649.1 183.1h0M656.0 188.6h0M676.5 183.9h0M676.9 182.1h0M681.6 186.2h0M701.1 184.9h0M708.0 184.2h0M714.3 188.7h0M720.8 184.9h0M724.9 186.2h0M739.3 182.4h0M752.9 180.5h0M758.4 178.0h0M777.7 181.7h0M802.5 180.6h0M812.1 179.2h0M812.8 183.2h0M813.6 183.4h0M815.4 182.2h0M827.9 179.2h0M835.7 178.1h0M882.5 186.6h0M884.7 184.1h0M912.1 181.9h0M916.9 183.3h0M919.2 180.6h0M919.7 182.1h0M939.2 187.3h0" stroke="#fff" stroke-opacity="0.7" stroke-width="1.8"/>
<path d="M60.2 177.9h0M66.6 185.7h0M67.4 183.3h0M68.3 183.3h0M73.7 181.6h0M75.1 182.2h0M79.4 182.6h0M81.0 184.6h0M81.5 185.7h0M82.2 187.1h0M102.2 188.3h0M103.3 189.1h0M104.9 187.6h0M105.6 182.3h0M113.2 187.6h0M122.3 182.0h0M129.2 188.2h0M131.2 181.6h0M135.5 179.8h0M142.3 184.8h0M143.3 183.9h0M146.2 180.7h0M149.6 183.3h0M161.9 181.4h0M168.4 182.8h0M170.8 181.0h0M171.7 181.1h0M172.2 184.3h0M175.3 179.7h0M176.4 179.9h0M178.9 183.0h0M186.8 181.8h0M188.7 182.6h0M193.4 184.4h0M195.1 179.3h0M199.4 184.4h0M206.9 183.4h0M211.4 178.9h0M215.6 183.1h0M224.2 180.1h0M228.5 182.0h0M229.1 184.0h0M230.7 185.8h0M235.2 181.8h0M235.9 185.8h0M248.9 182.9h0M250.5 178.6h0M256.8 178.7h0M258.5 184.5h0M262.5 183.5h0M265.7 180.5h0M271.2 185.3h0M273.9 183.1h0M275.5 181.1h0M279.5 178.5h0M284.3 180.6h0M286.8 182.4h0M287.2 177.3h0M292.5 178.3h0M294.5 183.5h0M295.9 184.5h0M302.8 185.1h0M310.3 184.9h0M312.8 180.2h0M314.9 184.9h0M319.9 178.7h0M321.8 186.0h0M330.6 182.7h0M331.5 181.7h0M333.1 180.8h0M340.1 179.4h0M342.2 184.4h0M343.3 180.8h0M345.7 178.0h0M351.0 180.6h0M353.7 180.7h0M360.7 179.9h0M365.4 179.6h0M367.2 182.7h0M374.2 178.6h0M378.5 178.5h0M380.8 183.2h0M381.9 179.8h0M387.8 181.1h0M389.3 179.4h0M392.1 177.8h0M396.5 184.2h0M400.8 181.8h0M403.2 180.2h0M405.7 185.2h0M408.0 185.2h0M412.1 179.5h0M413.9 184.7h0M418.1 181.8h0M420.9 181.7h0M421.6 182.8h0M435.2 180.9h0M440.8 180.5h0M441.8 182.5h0M444.2 179.5h0M450.7 180.6h0M454.2 179.5h0M455.7 179.1h0M464.2 185.2h0M466.0 184.7h0M473.0 182.4h0M473.2 181.0h0M478.6 177.3h0M479.5 180.2h0M495.7 181.8h0M497.9 185.2h0M500.8 183.1h0M503.3 178.1h0M505.5 180.9h0M510.5 177.8h0M512.1 182.3h0M513.8 184.2h0M516.1 179.9h0M518.2 184.9h0M519.5 177.1h0M520.5 178.6h0M526.7 180.8h0M529.6 177.7h0M532.9 180.9h0M535.9 178.5h0M545.2 178.3h0M549.1 181.0h0M550.7 180.4h0M551.1 179.6h0M561.0 181.3h0M563.3 184.8h0M568.0 184.8h0M569.0 179.8h0M570.8 184.7h0M571.9 184.8h0M573.6 186.3h0M574.0 185.5h0M575.6 185.3h0M576.1 183.4h0M578.1 182.8h0M578.6 184.9h0M596.5 180.2h0M606.2 186.8h0M610.0 181.6h0M611.1 182.5h0M611.1 186.8h0M613.2 184.2h0M635.1 180.5h0M635.8 188.2h0M637.8 187.2h0M639.5 180.6h0M643.8 184.6h0M646.7 182.7h0M648.8 184.0h0M653.1 188.6h0M654.2 182.2h0M655.9 181.8h0M660.3 186.8h0M666.3 188.1h0M667.3 188.8h0M674.7 184.7h0M675.5 184.4h0M679.0 189.0h0M679.5 186.3h0M680.1 187.7h0M689.4 182.1h0M691.7 185.5h0M692.5 185.1h0M693.5 189.9h0M705.7 190.4h0M717.5 188.7h0M723.5 189.9h0M728.0 188.2h0M729.0 183.3h0M731.9 186.7h0M734.0 187.7h0M737.2 189.6h0M743.5 185.5h0M747.1 184.7h0M751.2 189.1h0M757.3 184.3h0M760.2 179.4h0M764.0 179.2h0M765.3 182.6h0M771.2 185.0h0M775.4 184.0h0M776.8 184.9h0M783.3 184.5h0M789.5 181.6h0M791.6 186.1h0M794.3 181.8h0M798.2 182.7h0M798.9 181.0h0M805.9 179.2h0M807.7 178.1h0M810.1 181.1h0M817.7 185.5h0M819.4 180.3h0M824.0 185.8h0M831.3 185.0h0M839.3 181.9h0M840.8 181.3h0M841.4 185.5h0M846.1 179.4h0M846.7 181.9h0M854.0 179.9h0M855.2 180.8h0M858.9 179.8h0M863.5 179.5h0M864.3 184.4h0M874.7 187.4h0M877.1 185.1h0M887.7 183.8h0M889.5 185.3h0M890.4 183.4h0M892.4 181.7h0M893.1 188.4h0M897.2 183.5h0M898.6 188.1h0M899.8 182.7h0M900.4 183.0h0M905.1 181.2h0M909.9 182.4h0M911.0 188.2h0M913.7 185.2h0M919.1 186.6h0M924.1 183.0h0M930.6 183.3h0M931.9 189.3h0" stroke="#0000f8" stroke-width="6.4"/>
<path d="M67.0 182.4h0M73.3 180.7h0M80.6 183.7h0M104.5 186.7h0M112.8 186.7h0M128.8 187.3h0M130.8 180.7h0M168.0 181.9h0M193.0 183.5h0M206.5 182.5h0M215.2 182.2h0M228.1 181.1h0M228.7 183.1h0M235.5 184.9h0M250.1 177.7h0M258.1 183.6h0M283.9 179.7h0M286.4 181.5h0M294.1 182.6h0M312.4 179.3h0M321.4 185.1h0M330.2 181.8h0M332.7 179.9h0M342.9 179.9h0M360.3 179.0h0M381.5 178.9h0M391.7 176.9h0M396.1 183.3h0M405.3 184.3h0M417.7 180.9h0M440.4 179.6h0M463.8 184.3h0M465.6 183.8h0M478.2 176.4h0M479.1 179.3h0M526.3 179.9h0M532.5 180.0h0M535.5 177.6h0M548.7 180.1h0M550.3 179.5h0M570.4 183.8h0M571.5 183.9h0M575.2 184.4h0M577.7 181.9h0M605.8 185.9h0M610.7 181.6h0M612.8 183.3h0M643.4 183.7h0M646.3 181.8h0M648.4 183.1h0M659.9 185.9h0M666.9 187.9h0M674.3 183.8h0M678.6 188.1h0M689.0 181.2h0M717.1 187.8h0M723.1 189.0h0M728.6 182.4h0M736.8 188.7h0M743.1 184.6h0M756.9 183.4h0M763.6 178.3h0M764.9 181.7h0M797.8 181.8h0M798.5 180.1h0M817.3 184.6h0M823.6 184.9h0M838.9 181.0h0M841.0 184.6h0M858.5 178.9h0M863.1 178.6h0M876.7 184.2h0M887.3 182.9h0M892.0 180.8h0M896.8 182.6h0M909.5 181.5h0M913.3 184.3h0M931.5 188.4h0" stroke="#fff" stroke-opacity="0.7" stroke-width="1.8"/>
<path d="M55.8 175.3h0M56.5 176.6h0M57.0 174.9h0M59.1 178.5h0M72.1 182.8h0M77.4 187.8h0M79.8 186.2h0M85.4 185.1h0M93.6 183.9h0M94.6 182.9h0M115.8 185.1h0M123.0 181.3h0M124.2 182.9h0M130.1 186.8h0M134.9 183.7h0M137.1 186.7h0M137.9 186.7h0M141.2 181.0h0M146.0 180.3h0M152.7 182.8h0M153.4 184.4h0M156.1 185.3h0M158.0 178.4h0M159.3 186.6h0M160.9 184.0h0M162.5 178.5h0M167.0 183.7h0M167.4 182.6h0M169.7 178.1h0M180.8 181.0h0M181.7 183.1h0M185.0 181.7h0M186.0 183.2h0M201.1 184.3h0M201.5 179.3h0M203.8 184.4h0M205.9 178.4h0M212.4 182.8h0M212.9 180.9h0M214.5 185.2h0M221.4 180.2h0M223.4 184.9h0M224.8 182.6h0M226.8 186.1h0M230.2 184.2h0M231.7 179.1h0M251.0 182.6h0M252.2 180.1h0M255.1 185.2h0M263.3 184.5h0M267.3 182.1h0M271.7 179.2h0M272.4 179.0h0M284.9 179.6h0M289.3 185.0h0M290.2 179.0h0M304.5 180.1h0M305.7 180.9h0M333.4 177.6h0M348.6 180.8h0M358.9 179.8h0M363.9 181.6h0M368.0 183.7h0M371.4 178.0h0M375.5 179.6h0M376.7 177.1h0M377.5 184.7h0M387.2 178.3h0M391.6 180.2h0M394.0 184.1h0M394.8 183.8h0M400.3 179.6h0M402.3 177.9h0M402.8 177.3h0M409.6 180.1h0M410.6 184.0h0M415.1 181.5h0M416.0 183.2h0M416.9 179.8h0M420.2 182.9h0M423.7 184.1h0M424.6 180.6h0M425.1 177.6h0M428.4 182.4h0M430.7 179.2h0M432.1 179.6h0M436.2 184.4h0M439.2 180.9h0M442.7 177.9h0M448.5 179.9h0M457.2 182.9h0M464.6 180.3h0M466.3 184.7h0M466.9 182.9h0M469.2 176.7h0M470.6 184.5h0M477.9 182.1h0M487.5 185.3h0M489.0 177.4h0M493.0 178.7h0M497.2 183.6h0M497.7 181.4h0M501.7 180.6h0M514.4 180.3h0M516.7 177.2h0M517.3 177.2h0M522.6 178.0h0M533.4 178.2h0M539.0 185.9h0M542.5 181.1h0M543.4 180.2h0M555.7 178.4h0M560.4 183.0h0M565.5 186.5h0M577.3 187.4h0M580.8 182.4h0M582.5 180.8h0M584.6 186.6h0M586.2 183.0h0M587.6 182.9h0M588.2 186.9h0M588.7 185.2h0M589.5 182.7h0M589.7 184.8h0M595.5 179.9h0M601.2 181.6h0M604.5 183.1h0M605.1 179.4h0M606.0 180.0h0M607.9 179.2h0M608.4 183.4h0M612.1 182.3h0M616.4 183.1h0M617.7 181.2h0M618.4 185.1h0M619.3 184.1h0M622.1 182.6h0M624.7 184.1h0M629.7 185.9h0M630.6 180.4h0M657.0 183.4h0M657.4 187.4h0M661.3 186.5h0M662.2 185.7h0M664.8 185.0h0M665.0 184.2h0M672.6 188.7h0M677.9 186.7h0M686.2 188.2h0M687.1 188.9h0M688.5 181.9h0M698.2 183.0h0M703.2 184.9h0M703.9 186.5h0M704.3 185.0h0M705.2 187.3h0M707.7 184.8h0M709.6 189.7h0M712.5 187.1h0M718.3 183.0h0M726.1 188.1h0M727.1 188.2h0M747.2 189.8h0M748.0 184.6h0M749.5 189.0h0M756.3 183.5h0M758.5 182.7h0M759.2 181.3h0M765.7 182.6h0M768.4 183.9h0M769.1 185.7h0M769.5 179.4h0M771.9 180.7h0M773.7 184.5h0M780.4 185.5h0M781.6 181.8h0M788.9 185.9h0M790.5 185.1h0M792.0 183.7h0M795.1 178.2h0M800.8 182.7h0M806.9 178.6h0M811.9 180.9h0M815.2 178.6h0M832.9 185.4h0M835.3 185.1h0M837.4 179.1h0M840.0 183.0h0M842.4 178.6h0M852.5 185.4h0M859.8 180.7h0M861.2 178.6h0M862.2 183.1h0M862.5 181.9h0M865.6 182.7h0M867.9 181.4h0M870.9 185.4h0M871.7 182.9h0M875.2 185.2h0M878.0 185.4h0M879.4 185.7h0M886.5 180.0h0M891.0 188.0h0M891.8 186.5h0M901.0 186.7h0M906.8 184.1h0M910.8 187.6h0M918.2 187.2h0M924.8 187.1h0M925.5 184.5h0M929.2 189.3h0M930.2 189.5h0" stroke="#0000f8" stroke-width="6.4"/>
<path d="M56.6 174.0h0M79.4 185.3h0M94.2 182.0h0M153.0 183.5h0M155.7 184.4h0M162.1 177.6h0M166.6 182.8h0M167.0 181.7h0M169.3 177.2h0M200.7 183.4h0M201.1 178.4h0M203.4 183.5h0M205.5 177.5h0M221.0 179.3h0M266.9 181.2h0M305.3 180.0h0M333.0 176.7h0M371.0 177.1h0M393.6 183.2h0M394.4 182.9h0M399.9 178.7h0M402.4 176.4h0M409.2 179.2h0M410.2 183.1h0M414.7 180.6h0M415.6 182.3h0M419.8 182.0h0M424.7 176.7h0M428.0 181.5h0M435.8 183.5h0M438.8 180.0h0M464.2 179.4h0M468.8 175.8h0M487.1 184.4h0M492.6 177.8h0M496.8 182.7h0M514.0 179.4h0M516.9 176.3h0M522.2 177.1h0M533.0 177.3h0M538.6 185.0h0M565.1 185.6h0M588.3 184.3h0M589.1 181.8h0M618.9 183.2h0M630.2 179.5h0M661.8 184.8h0M664.6 183.3h0M672.2 187.8h0M677.5 185.8h0M688.1 181.0h0M697.8 182.1h0M703.5 185.6h0M703.9 184.1h0M709.2 188.8h0M712.1 186.2h0M717.9 182.1h0M747.6 183.7h0M749.1 188.1h0M755.9 182.6h0M773.3 183.6h0M780.0 184.6h0M781.2 180.9h0M788.5 185.0h0M790.1 184.2h0M791.6 182.8h0M842.0 177.7h0M852.1 184.5h0M859.4 179.8h0M865.2 181.8h0M870.5 184.5h0M900.6 185.8h0M910.4 186.7h0M929.8 188.6h0" stroke="#fff" stroke-opacity="0.7" stroke-width="1.8"/>
<path d="M58.4 182.6h0M60.1 183.6h0M69.3 183.3h0M70.4 181.2h0M73.0 187.9h0M76.4 187.1h0M83.3 182.3h0M87.1 184.1h0M88.4 187.4h0M92.0 185.5h0M92.5 190.5h0M93.8 186.2h0M97.2 185.1h0M97.6 186.2h0M101.2 189.8h0M104.2 188.7h0M106.9 185.2h0M108.9 185.2h0M110.2 182.6h0M114.3 180.7h0M118.3 188.2h0M120.9 184.6h0M124.9 181.1h0M126.7 187.7h0M128.4 182.5h0M128.8 180.5h0M138.6 182.5h0M139.5 185.8h0M140.2 185.6h0M141.0 181.0h0M144.9 185.5h0M147.2 186.7h0M155.4 179.7h0M159.5 183.7h0M162.8 183.5h0M164.7 185.2h0M165.4 182.4h0M177.7 180.4h0M179.1 185.0h0M180.2 179.2h0M182.8 181.4h0M188.5 180.1h0M191.7 179.9h0M192.4 184.0h0M194.3 187.3h0M196.1 184.6h0M198.6 183.6h0M199.1 180.0h0M205.5 184.1h0M207.7 180.0h0M208.9 180.0h0M209.6 179.2h0M211.2 182.8h0M219.7 182.9h0M221.6 179.7h0M223.1 183.8h0M231.0 179.3h0M239.0 182.0h0M240.4 178.1h0M241.0 179.3h0M244.1 185.0h0M246.9 178.5h0M248.4 182.3h0M249.6 182.1h0M252.5 185.1h0M253.7 183.3h0M259.0 178.7h0M259.7 180.5h0M261.4 181.2h0M262.8 182.7h0M265.8 183.3h0M268.0 184.1h0M269.2 178.8h0M276.2 178.7h0M277.1 181.9h0M282.1 181.7h0M282.2 181.8h0M286.6 180.0h0M291.2 182.6h0M293.3 184.6h0M299.2 178.0h0M299.6 182.0h0M303.5 182.2h0M308.1 178.6h0M316.1 184.5h0M322.3 178.7h0M322.9 181.7h0M325.2 186.1h0M326.3 182.1h0M328.2 183.4h0M328.8 179.8h0M331.2 181.7h0M332.6 184.8h0M334.8 179.1h0M335.7 180.7h0M338.4 185.1h0M348.4 184.8h0M349.6 179.8h0M351.7 183.4h0M351.8 181.1h0M356.0 183.4h0M364.9 179.6h0M369.9 184.7h0M370.5 182.6h0M376.2 180.8h0M383.0 178.6h0M383.7 180.8h0M387.1 182.3h0M388.8 180.4h0M390.0 183.3h0M392.5 180.9h0M395.4 179.6h0M397.8 184.4h0M398.2 179.2h0M413.1 182.7h0M417.1 184.5h0M418.4 177.2h0M422.5 180.8h0M422.6 184.6h0M424.0 179.1h0M429.0 179.2h0M445.8 182.7h0M447.1 179.9h0M449.4 184.0h0M452.0 182.7h0M454.6 185.5h0M461.6 178.2h0M472.0 181.3h0M473.8 184.0h0M477.1 182.0h0M484.4 178.3h0M485.0 178.6h0M486.4 179.4h0M487.9 178.7h0M494.0 177.8h0M500.0 179.0h0M503.8 181.9h0M506.6 181.2h0M509.0 180.3h0M510.5 177.5h0M520.7 184.5h0M523.5 177.5h0M532.3 180.5h0M535.7 184.0h0M542.0 178.2h0M544.3 182.5h0M552.9 182.5h0M553.6 178.0h0M557.1 185.6h0M558.8 184.9h0M563.8 182.9h0M564.5 183.1h0M566.3 180.6h0M567.1 179.9h0M568.6 186.9h0M570.6 186.0h0M574.7 186.6h0M581.8 184.6h0M584.2 181.8h0M586.7 180.5h0M591.6 184.6h0M593.4 183.6h0M593.8 182.8h0M598.7 182.8h0M599.6 181.8h0M600.5 181.2h0M602.1 184.8h0M603.1 184.2h0M616.1 187.2h0M620.9 186.2h0M624.0 184.5h0M628.2 185.8h0M633.7 186.6h0M635.5 188.1h0M640.4 185.4h0M647.2 183.6h0M647.9 181.4h0M652.8 189.4h0M653.7 184.9h0M660.7 186.6h0M675.8 187.8h0M680.8 184.8h0M682.8 183.3h0M684.4 182.9h0M685.2 185.4h0M690.5 183.9h0M695.9 182.2h0M696.8 187.1h0M702.3 190.8h0M710.0 189.9h0M713.4 184.5h0M724.5 182.2h0M726.7 189.5h0M731.0 182.3h0M732.3 186.7h0M733.2 186.4h0M734.9 183.8h0M736.4 189.9h0M738.7 187.7h0M740.7 185.9h0M741.4 184.9h0M742.2 182.6h0M745.3 183.0h0M746.1 184.6h0M750.5 187.0h0M754.2 184.9h0M755.0 179.9h0M762.6 185.2h0M764.2 185.7h0M767.5 181.5h0M770.7 183.6h0M772.9 182.2h0M780.0 179.8h0M780.9 179.5h0M784.8 182.3h0M796.0 183.2h0M797.2 182.9h0M801.0 181.7h0M816.8 178.4h0M818.4 181.5h0M822.3 181.1h0M822.9 184.5h0M825.3 179.1h0M827.3 185.4h0M829.3 178.6h0M830.8 181.4h0M849.7 181.8h0M854.6 186.4h0M855.8 184.2h0M859.2 186.4h0M865.0 184.5h0M867.2 183.1h0M869.8 185.8h0M873.8 187.4h0M876.7 179.9h0M881.5 186.6h0M884.9 184.6h0M894.5 181.4h0M897.8 184.7h0M899.5 187.4h0M903.2 185.3h0M907.7 182.1h0M908.8 184.6h0M916.6 183.0h0M920.5 186.6h0M921.1 185.1h0M926.3 183.6h0M935.3 187.1h0" stroke="#0000f8" stroke-width="6.4"/>
<path d="M58.0 181.7h0M59.7 182.7h0M88.0 186.5h0M103.8 187.8h0M113.9 179.8h0M144.5 184.6h0M155.0 178.8h0M193.9 186.4h0M198.2 182.7h0M198.7 179.1h0M207.3 179.1h0M208.5 179.1h0M210.8 181.9h0M238.6 181.1h0M240.0 177.2h0M240.6 178.4h0M253.3 182.4h0M258.6 177.8h0M259.3 179.6h0M261.0 180.3h0M268.8 177.9h0M276.7 181.0h0M281.8 180.9h0M299.2 181.1h0M303.1 181.3h0M321.9 177.8h0M327.8 182.5h0M332.2 183.9h0M349.2 178.9h0M375.8 179.9h0M383.3 179.9h0M388.4 179.5h0M395.0 178.7h0M412.7 181.8h0M418.0 176.3h0M422.1 179.9h0M422.2 183.7h0M423.6 178.2h0M428.6 178.3h0M449.0 183.1h0M473.4 183.1h0M484.0 177.4h0M523.1 176.6h0M535.3 183.1h0M541.6 177.3h0M556.7 184.7h0M558.4 184.0h0M565.9 179.7h0M568.2 186.0h0M574.3 185.7h0M583.8 180.9h0M593.4 181.9h0M615.7 186.3h0M633.3 185.7h0M640.0 184.5h0M652.4 188.5h0M660.3 185.7h0M682.4 182.4h0M684.8 184.5h0M701.9 189.9h0M741.0 184.0h0M745.7 183.7h0M754.6 179.0h0M762.2 184.3h0M767.1 180.6h0M770.3 182.7h0M779.6 178.9h0M780.5 178.6h0M784.4 181.4h0M795.6 182.3h0M828.9 177.7h0M830.4 180.5h0M854.2 185.5h0M855.4 183.3h0M858.8 185.5h0M866.8 182.2h0M873.4 186.5h0M899.1 186.5h0M908.4 183.7h0M916.2 182.1h0M920.7 184.2h0" stroke="#fff" stroke-opacity="0.7" stroke-width="1.8"/>
<path d="M58.1 176.8h0M62.1 181.9h0M64.1 185.9h0M68.4 182.5h0M71.2 184.2h0M75.8 187.3h0M78.4 181.2h0M95.0 190.1h0M96.7 188.0h0M99.2 187.0h0M99.5 182.2h0M100.5 186.1h0M101.5 189.0h0M106.2 184.9h0M108.1 189.3h0M108.7 188.3h0M109.9 187.7h0M111.1 182.5h0M111.5 185.9h0M121.7 187.6h0M126.4 183.3h0M127.8 182.0h0M131.7 183.7h0M132.3 184.1h0M133.2 180.8h0M151.3 181.5h0M160.7 181.4h0M163.4 179.4h0M167.7 179.4h0M173.1 182.5h0M175.1 178.7h0M184.3 185.1h0M185.9 179.5h0M201.9 186.7h0M203.0 180.5h0M207.4 185.3h0M213.2 178.7h0M216.5 181.8h0M217.9 181.2h0M218.5 179.4h0M220.4 184.2h0M222.4 184.9h0M225.5 180.6h0M233.1 182.3h0M236.9 183.3h0M238.3 179.0h0M241.2 179.1h0M247.4 185.6h0M257.1 185.3h0M260.9 180.2h0M264.0 180.3h0M272.7 184.5h0M274.8 181.2h0M276.9 182.1h0M280.2 178.0h0M281.4 180.9h0M284.0 178.6h0M291.9 185.2h0M295.0 184.4h0M296.5 183.1h0M297.5 177.7h0M306.4 178.8h0M310.8 184.3h0M314.2 179.3h0M317.6 184.6h0M318.0 180.0h0M320.5 185.4h0M321.3 178.4h0M323.3 182.3h0M324.7 180.5h0M327.4 181.3h0M329.8 183.7h0M334.3 179.1h0M340.8 178.1h0M346.2 179.7h0M352.8 182.9h0M353.2 183.6h0M357.8 183.7h0M361.4 178.3h0M366.0 183.2h0M368.7 177.3h0M368.9 185.3h0M371.1 182.9h0M373.8 179.2h0M379.6 181.8h0M382.2 181.7h0M384.2 181.1h0M384.8 181.0h0M385.6 185.0h0M386.5 179.8h0M390.7 177.8h0M393.1 182.1h0M394.5 181.8h0M398.8 182.2h0M399.6 179.3h0M404.8 182.6h0M405.3 184.6h0M406.5 180.9h0M408.4 181.2h0M425.9 185.2h0M426.7 178.5h0M430.1 182.4h0M431.1 177.8h0M443.2 180.4h0M446.2 178.6h0M448.8 185.5h0M451.7 177.8h0M452.8 183.4h0M454.9 184.0h0M457.9 179.6h0M458.3 185.7h0M460.1 183.7h0M463.0 184.7h0M465.4 181.9h0M468.6 182.0h0M471.9 180.5h0M474.8 179.4h0M479.9 178.0h0M480.3 180.0h0M481.8 180.8h0M482.7 183.0h0M485.5 178.1h0M487.0 181.1h0M490.5 178.1h0M492.6 181.6h0M494.2 179.7h0M496.6 182.8h0M499.6 180.1h0M504.2 184.7h0M505.1 185.3h0M511.5 180.5h0M515.6 179.3h0M522.2 177.2h0M524.0 179.8h0M524.8 182.8h0M528.9 184.1h0M531.8 178.8h0M537.6 184.6h0M538.3 177.8h0M547.8 178.6h0M549.7 182.8h0M554.6 180.9h0M555.0 185.7h0M558.0 181.9h0M585.7 187.2h0M591.2 182.4h0M592.4 178.8h0M595.2 182.9h0M602.7 181.2h0M606.7 184.1h0M617.0 183.1h0M623.4 184.6h0M626.8 186.4h0M628.3 185.0h0M631.5 183.0h0M632.6 185.8h0M634.5 183.9h0M636.9 188.1h0M640.0 184.4h0M658.8 188.5h0M659.7 186.2h0M663.1 182.1h0M664.1 186.4h0M665.6 184.5h0M668.5 184.1h0M669.2 183.7h0M670.6 188.8h0M672.4 183.5h0M678.4 186.1h0M681.5 187.3h0M687.6 186.6h0M694.5 189.9h0M696.0 189.0h0M697.8 182.8h0M698.9 186.0h0M699.2 187.5h0M700.1 184.8h0M707.2 184.2h0M710.4 185.9h0M713.9 186.4h0M718.9 186.0h0M728.3 182.1h0M729.6 185.5h0M730.4 185.3h0M733.1 183.4h0M739.4 188.2h0M748.6 189.2h0M751.7 184.9h0M755.8 186.3h0M761.6 179.5h0M761.9 184.5h0M763.1 180.8h0M767.0 183.0h0M770.2 183.4h0M775.8 183.2h0M778.9 182.3h0M785.6 184.7h0M787.1 183.9h0M795.8 180.7h0M800.2 179.8h0M804.8 181.2h0M820.9 183.8h0M827.6 183.6h0M829.5 185.3h0M833.9 182.7h0M835.0 185.8h0M836.7 184.4h0M845.0 185.7h0M849.3 178.3h0M851.3 182.2h0M853.0 180.9h0M856.4 182.7h0M863.8 184.9h0M868.1 183.4h0M868.7 185.9h0M871.9 184.7h0M876.0 180.7h0M882.4 180.7h0M886.1 186.9h0M888.8 187.0h0M894.5 186.3h0M895.5 184.4h0M897.0 183.4h0M902.2 183.0h0M904.2 186.2h0M905.9 183.7h0M906.2 181.8h0M909.6 187.4h0M923.1 186.7h0M927.4 182.9h0M928.5 182.0h0M929.8 184.7h0M932.6 183.6h0M934.3 185.8h0M936.9 188.1h0M937.9 181.9h0M938.6 189.3h0M939.0 184.3h0M940.7 186.9h0" stroke="#0000f8" stroke-width="6.4"/>
<path d="M57.7 175.9h0M61.7 181.0h0M63.7 185.0h0M68.0 181.6h0M70.8 183.3h0M98.8 186.1h0M99.1 181.3h0M100.1 185.2h0M101.1 188.1h0M110.7 181.6h0M111.1 185.0h0M160.3 180.5h0M163.0 178.5h0M174.7 177.8h0M207.0 184.4h0M216.1 180.9h0M232.7 181.4h0M256.7 184.4h0M272.3 183.6h0M274.4 180.3h0M276.5 181.2h0M279.8 177.1h0M281.0 180.0h0M291.5 184.3h0M297.1 176.8h0M306.0 177.9h0M317.6 179.1h0M327.0 180.4h0M345.8 178.8h0M352.4 182.0h0M352.8 182.7h0M361.0 177.4h0M370.7 182.0h0M381.8 180.8h0M383.8 180.2h0M385.2 184.1h0M386.1 178.9h0M392.7 181.2h0M404.9 183.7h0M408.0 180.3h0M425.5 184.3h0M442.8 179.5h0M454.5 183.1h0M457.9 184.8h0M468.2 181.1h0M479.9 179.1h0M481.4 179.9h0M485.1 177.2h0M493.8 178.8h0M496.2 181.9h0M499.2 179.2h0M503.8 183.8h0M521.8 176.3h0M523.6 178.9h0M557.6 181.0h0M590.8 181.5h0M602.3 180.3h0M626.4 185.5h0M631.1 182.1h0M634.1 183.0h0M639.6 183.5h0M668.1 183.2h0M668.8 182.8h0M670.2 187.9h0M681.1 186.4h0M694.1 189.0h0M699.7 183.9h0M718.5 185.1h0M730.0 184.4h0M755.4 185.4h0M761.2 178.6h0M761.5 183.6h0M775.4 182.3h0M778.5 181.4h0M785.2 183.8h0M799.8 178.9h0M804.4 180.3h0M850.9 181.3h0M856.0 181.8h0M896.6 182.5h0" stroke="#fff" stroke-opacity="0.7" stroke-width="1.8"/>
</g>
<g stroke-linecap="round" fill="none">
<path d="M73.3 221.8h0M77.0 219.1h0M79.3 223.1h0M85.9 225.9h0M90.8 230.0h0M102.0 224.4h0M108.4 228.6h0M110.1 228.8h0M115.5 226.4h0M116.5 221.3h0M121.8 219.1h0M122.9 221.3h0M136.8 223.6h0M141.6 218.7h0M143.9 218.7h0M146.2 217.1h0M151.4 219.8h0M151.8 215.6h0M155.9 219.1h0M160.3 214.9h0M161.1 216.0h0M169.1 212.7h0M185.7 213.2h0M187.5 218.2h0M198.3 213.9h0M200.6 212.9h0M203.8 212.2h0M207.1 211.2h0M207.6 217.3h0M210.8 218.1h0M212.5 211.8h0M223.4 209.6h0M240.2 209.8h0M254.7 218.4h0M256.6 217.2h0M265.7 215.9h0M267.1 214.4h0M274.4 209.2h0M275.2 212.3h0M277.0 213.9h0M282.1 212.0h0M286.2 212.9h0M294.8 215.5h0M299.8 209.7h0M302.2 215.0h0M306.4 211.5h0M309.1 211.6h0M337.2 216.9h0M338.9 219.2h0M357.2 212.5h0M371.5 212.2h0M389.1 215.1h0M390.3 220.7h0M393.0 212.8h0M410.2 216.7h0M415.9 219.9h0M424.1 219.5h0M427.4 215.7h0M438.4 215.9h0M449.0 219.2h0M458.8 218.6h0M472.0 220.4h0M473.2 220.0h0M477.8 222.9h0M478.7 221.5h0M479.6 223.7h0M484.0 222.9h0M511.3 224.0h0M513.3 230.1h0M527.8 222.1h0M534.0 220.8h0M536.9 220.0h0M543.1 222.0h0M544.8 223.2h0M549.6 225.3h0M550.5 227.6h0M559.8 224.9h0M571.5 224.8h0M580.8 225.4h0M586.5 229.7h0M596.3 226.0h0M598.1 230.3h0M608.7 230.8h0M619.4 233.0h0M624.0 234.0h0M626.2 232.1h0M629.9 229.8h0M632.8 234.8h0M640.4 228.7h0M659.1 230.0h0M681.4 237.3h0M683.1 233.6h0M710.7 242.3h0M711.3 237.8h0M716.4 237.8h0M718.1 238.7h0M721.8 240.3h0M729.8 243.2h0M732.6 239.4h0M733.8 243.1h0M746.3 245.0h0M771.3 242.8h0M776.5 238.9h0M779.2 245.6h0M794.1 246.9h0M797.3 248.7h0M807.9 250.8h0M811.6 248.7h0M829.8 250.6h0M837.9 248.8h0M841.9 254.7h0M845.6 252.7h0M855.6 251.5h0M861.5 249.0h0M872.6 255.2h0M883.4 251.1h0M889.0 251.4h0M895.7 259.8h0M896.3 259.7h0M905.8 258.8h0M906.3 257.7h0M909.1 254.2h0M915.3 259.5h0M920.6 256.3h0M925.0 261.7h0M931.6 258.8h0" stroke="#111" stroke-width="6.4"/>
<path d="M72.9 220.9h0M90.4 229.1h0M136.4 222.7h0M151.0 218.9h0M160.7 215.1h0M203.4 211.3h0M207.2 216.4h0M274.8 211.4h0M281.7 211.1h0M285.8 212.0h0M294.4 214.6h0M336.8 216.0h0M409.8 215.8h0M423.7 218.6h0M438.0 215.0h0M658.7 229.1h0M717.7 237.8h0M745.9 244.1h0M920.2 255.4h0" stroke="#fff" stroke-opacity="0.75" stroke-width="1.8"/>
<path d="M63.2 225.0h0M76.5 227.9h0M81.1 220.4h0M82.4 226.7h0M83.9 222.9h0M107.0 225.3h0M119.2 225.3h0M135.8 219.1h0M153.6 219.6h0M182.7 212.9h0M184.0 220.0h0M193.8 219.0h0M194.8 216.5h0M199.4 214.4h0M212.3 216.3h0M217.2 212.5h0M242.0 212.8h0M260.0 211.2h0M261.1 215.7h0M269.2 214.1h0M280.2 214.0h0M284.8 215.4h0M292.2 211.9h0M299.6 211.3h0M312.3 217.6h0M321.2 217.0h0M334.1 217.1h0M335.7 219.1h0M344.0 210.9h0M346.2 211.4h0M348.6 213.6h0M381.3 216.4h0M406.7 220.0h0M409.5 218.6h0M417.3 215.6h0M419.8 219.1h0M420.2 216.1h0M432.0 221.6h0M437.3 219.6h0M451.7 225.2h0M467.9 224.9h0M481.2 226.1h0M490.1 221.5h0M491.5 225.5h0M493.5 224.9h0M498.2 223.6h0M501.2 223.5h0M506.2 226.4h0M510.7 223.8h0M514.7 223.4h0M516.2 230.3h0M529.9 222.7h0M557.5 231.4h0M576.5 225.6h0M577.9 229.9h0M582.1 228.8h0M585.7 227.9h0M593.9 233.7h0M599.3 233.8h0M613.2 227.6h0M613.8 231.9h0M616.9 227.6h0M623.0 234.2h0M628.3 232.2h0M630.3 230.5h0M639.0 235.3h0M655.2 235.8h0M660.9 237.9h0M663.5 230.4h0M670.9 234.1h0M675.6 236.6h0M677.1 232.0h0M698.7 236.9h0M707.1 234.3h0M719.2 238.6h0M721.3 237.7h0M727.0 241.0h0M738.6 238.6h0M740.0 241.2h0M743.9 237.1h0M751.5 246.4h0M752.5 246.2h0M755.4 246.2h0M768.2 244.7h0M773.7 242.8h0M782.9 244.4h0M785.1 240.5h0M798.7 245.6h0M803.3 244.7h0M813.5 251.2h0M819.8 253.1h0M826.9 247.1h0M830.3 249.3h0M833.2 248.8h0M840.8 254.2h0M845.0 250.0h0M851.3 256.8h0M854.2 257.2h0M863.4 253.1h0M868.6 250.5h0M870.3 252.3h0M877.7 255.9h0M913.6 254.3h0M917.1 255.5h0M927.7 256.2h0M928.1 253.3h0" stroke="#111" stroke-width="6.4"/>
<path d="M193.4 218.1h0M211.9 215.4h0M284.4 214.5h0M291.8 211.0h0M311.9 216.7h0M333.7 216.2h0M409.1 217.7h0M416.9 214.7h0M576.1 224.7h0M598.9 232.9h0M638.6 234.4h0M798.3 244.7h0M844.6 249.1h0" stroke="#fff" stroke-opacity="0.75" stroke-width="1.8"/>
<path d="M65.1 225.4h0M69.5 225.9h0M79.8 224.4h0M103.9 225.6h0M112.5 222.0h0M120.1 219.2h0M124.0 227.0h0M126.2 225.3h0M127.3 222.6h0M128.8 219.3h0M131.5 218.1h0M137.8 218.6h0M148.8 213.8h0M175.7 213.6h0M191.3 214.5h0M220.9 217.0h0M228.0 212.3h0M232.9 213.6h0M236.7 214.9h0M246.9 217.0h0M252.4 210.7h0M263.8 210.9h0M270.1 214.6h0M275.9 212.3h0M288.1 209.4h0M291.7 214.0h0M315.1 213.2h0M317.8 217.0h0M328.7 210.1h0M339.0 212.3h0M352.1 213.6h0M369.2 211.9h0M379.3 219.4h0M383.2 217.8h0M397.0 213.9h0M398.3 221.0h0M399.8 216.6h0M403.2 217.0h0M405.6 220.3h0M407.9 215.8h0M412.0 212.5h0M426.2 218.2h0M433.4 219.7h0M460.3 222.0h0M462.7 219.0h0M463.4 224.0h0M469.3 219.9h0M471.5 224.3h0M475.6 224.0h0M488.2 224.9h0M505.0 223.6h0M508.3 225.5h0M531.6 220.9h0M535.6 224.9h0M541.6 227.0h0M554.4 224.9h0M567.0 229.3h0M596.0 227.8h0M600.2 227.9h0M601.3 232.7h0M607.3 231.5h0M631.9 233.8h0M637.1 229.8h0M642.1 233.6h0M643.9 227.8h0M644.8 229.2h0M654.1 237.1h0M676.4 239.3h0M678.9 231.8h0M679.8 236.3h0M686.5 232.1h0M693.3 232.0h0M695.2 239.3h0M698.1 238.9h0M702.4 234.5h0M706.0 238.1h0M707.9 240.2h0M715.3 239.5h0M726.4 240.2h0M728.5 238.2h0M755.5 243.2h0M757.4 239.9h0M759.7 240.0h0M762.3 244.7h0M765.4 242.1h0M770.2 244.3h0M777.1 240.0h0M780.5 246.7h0M791.2 243.0h0M795.9 248.3h0M800.4 251.8h0M801.3 251.8h0M810.4 251.5h0M814.3 246.3h0M815.9 247.2h0M817.1 249.9h0M820.6 254.6h0M832.4 253.7h0M836.9 252.1h0M843.4 257.8h0M849.0 256.9h0M852.6 254.7h0M854.8 252.5h0M860.4 250.1h0M866.5 257.0h0M871.5 253.6h0M900.6 252.7h0M903.2 256.7h0M914.0 257.4h0M918.1 257.5h0M923.8 255.3h0M933.2 261.3h0M937.0 261.7h0" stroke="#111" stroke-width="6.4"/>
<path d="M291.3 213.1h0M396.6 213.0h0M402.8 216.1h0M471.1 223.4h0M504.6 222.7h0M531.2 220.0h0M535.2 224.0h0M599.8 227.0h0M636.7 228.9h0M644.4 228.3h0M810.0 250.6h0M815.5 246.3h0M852.2 253.8h0M854.4 251.6h0M923.4 254.4h0" stroke="#fff" stroke-opacity="0.75" stroke-width="1.8"/>
<path d="M55.7 219.2h0M62.1 218.3h0M66.1 225.2h0M91.9 226.9h0M111.4 223.3h0M117.4 221.1h0M130.5 225.3h0M133.3 221.9h0M139.9 217.2h0M146.7 216.5h0M149.6 216.6h0M162.0 220.5h0M165.7 214.5h0M169.7 221.2h0M215.9 214.8h0M224.3 215.0h0M225.1 216.5h0M226.3 212.6h0M238.8 217.3h0M243.9 208.9h0M244.9 210.4h0M246.1 212.7h0M257.0 212.8h0M265.5 212.7h0M280.9 208.1h0M284.3 217.0h0M288.5 212.7h0M312.8 211.2h0M318.7 213.4h0M324.3 218.2h0M327.1 210.8h0M344.8 211.7h0M354.8 218.9h0M358.4 218.0h0M364.8 219.0h0M365.6 212.5h0M367.1 211.0h0M376.4 215.3h0M377.1 212.8h0M385.4 215.8h0M386.5 212.7h0M387.9 216.6h0M403.8 215.1h0M435.5 218.7h0M439.0 223.6h0M445.7 220.2h0M453.4 224.6h0M461.1 226.6h0M483.0 222.4h0M486.3 226.8h0M522.9 222.9h0M527.6 224.2h0M533.1 224.5h0M548.8 229.5h0M552.8 226.6h0M556.2 223.3h0M560.7 231.8h0M561.8 228.1h0M563.2 230.5h0M564.7 232.5h0M566.0 228.0h0M573.8 224.3h0M574.5 227.6h0M578.5 233.1h0M584.4 225.6h0M588.7 226.9h0M592.0 232.1h0M605.8 230.8h0M611.0 233.7h0M611.3 228.6h0M621.8 228.4h0M627.1 233.0h0M634.1 227.8h0M635.7 235.0h0M639.9 229.5h0M645.7 228.2h0M647.0 236.0h0M649.0 234.6h0M652.4 230.6h0M656.4 229.7h0M656.9 237.5h0M662.4 233.2h0M664.4 238.6h0M665.8 236.0h0M670.6 239.3h0M685.3 232.2h0M694.4 234.5h0M709.7 241.5h0M713.5 239.9h0M714.1 241.3h0M724.9 239.8h0M735.8 241.0h0M742.8 244.9h0M745.4 240.5h0M758.3 238.6h0M761.2 247.5h0M767.1 240.2h0M772.7 246.2h0M784.4 241.1h0M798.2 246.9h0M809.3 251.5h0M818.0 251.7h0M823.9 255.0h0M824.8 251.8h0M839.6 251.2h0M849.5 254.4h0M875.2 249.5h0M877.1 258.2h0M880.0 250.5h0M885.8 257.0h0M886.2 254.2h0M890.2 258.1h0M891.1 251.7h0M908.3 252.7h0M911.1 255.9h0M921.8 254.1h0M939.0 262.4h0M939.4 254.5h0" stroke="#111" stroke-width="6.4"/>
<path d="M111.0 222.4h0M132.9 221.0h0M146.3 215.6h0M149.2 215.7h0M245.7 211.8h0M344.4 210.8h0M403.4 214.2h0M552.4 225.7h0M565.6 227.1h0M573.4 223.4h0M605.4 229.9h0M656.0 228.8h0M664.0 237.7h0M694.0 233.6h0M709.3 240.6h0M757.9 237.7h0M797.8 246.0h0M817.6 250.8h0M876.7 257.3h0M885.8 253.3h0M921.4 253.2h0" stroke="#fff" stroke-opacity="0.75" stroke-width="1.8"/>
<path d="M57.9 223.3h0M59.9 218.4h0M71.9 223.8h0M75.1 226.5h0M85.6 223.6h0M88.2 229.9h0M89.5 225.2h0M93.2 222.6h0M94.3 228.3h0M95.9 227.3h0M98.9 229.8h0M103.1 230.8h0M113.6 223.6h0M135.1 221.6h0M141.4 222.2h0M145.2 218.8h0M154.7 220.3h0M163.6 221.2h0M165.3 218.1h0M171.4 220.4h0M174.2 213.2h0M178.1 213.5h0M181.7 220.5h0M196.6 212.5h0M201.2 214.2h0M202.3 213.5h0M205.5 210.2h0M209.1 210.6h0M217.8 216.5h0M219.4 209.6h0M229.9 215.4h0M251.2 213.8h0M258.0 216.3h0M296.8 212.9h0M297.4 210.4h0M302.8 211.7h0M308.5 216.6h0M310.2 216.2h0M322.6 211.4h0M329.1 218.2h0M332.5 218.1h0M333.0 212.6h0M341.3 212.1h0M346.8 215.2h0M349.7 212.6h0M353.3 212.6h0M356.0 218.2h0M361.3 217.3h0M363.0 215.4h0M371.9 219.3h0M374.8 214.4h0M384.1 216.9h0M391.6 212.4h0M393.9 213.8h0M395.1 218.4h0M399.7 218.3h0M414.0 220.6h0M423.0 217.7h0M428.2 218.6h0M434.4 219.1h0M440.7 218.6h0M443.8 217.4h0M444.7 216.0h0M447.2 217.3h0M450.2 222.3h0M450.8 218.2h0M454.4 222.4h0M456.9 220.6h0M465.2 224.1h0M484.8 222.9h0M499.6 227.2h0M501.0 228.4h0M516.2 227.1h0M518.0 229.9h0M519.9 228.2h0M522.4 220.9h0M530.9 225.8h0M568.7 225.8h0M587.3 229.2h0M603.9 234.4h0M616.2 226.4h0M620.3 230.8h0M659.9 234.4h0M667.2 236.0h0M673.1 236.0h0M673.6 233.5h0M684.4 237.5h0M691.6 238.4h0M701.1 242.5h0M703.7 241.5h0M722.8 235.2h0M730.4 243.2h0M737.0 236.5h0M741.4 237.0h0M747.0 239.0h0M766.5 243.2h0M775.5 242.5h0M781.6 241.6h0M787.1 245.3h0M787.9 245.8h0M793.4 248.0h0M805.4 248.1h0M806.5 245.6h0M834.2 250.1h0M836.3 256.1h0M847.5 251.3h0M856.8 254.5h0M858.3 255.9h0M862.0 254.7h0M865.3 253.7h0M884.6 255.9h0M887.5 256.0h0M893.9 252.0h0M899.5 260.4h0M901.3 256.6h0M926.2 260.5h0M940.4 257.8h0" stroke="#111" stroke-width="6.4"/>
<path d="M59.5 217.5h0M74.7 225.6h0M164.9 217.2h0M173.8 212.3h0M196.2 211.6h0M308.1 215.7h0M393.5 212.9h0M399.3 217.4h0M499.2 226.3h0M615.8 225.5h0M659.5 233.5h0M700.7 241.6h0M786.7 244.4h0M856.4 253.6h0M861.6 253.8h0" stroke="#fff" stroke-opacity="0.75" stroke-width="1.8"/>
<path d="M58.0 222.7h0M60.5 218.5h0M68.0 218.7h0M68.7 223.5h0M71.6 226.0h0M95.3 222.5h0M97.2 228.9h0M99.8 227.2h0M105.1 222.3h0M108.9 226.3h0M128.5 224.8h0M156.8 222.0h0M159.0 216.7h0M167.9 218.7h0M172.8 218.1h0M174.9 218.8h0M179.2 218.1h0M179.8 215.5h0M186.6 214.2h0M188.8 213.3h0M190.4 217.3h0M193.2 212.2h0M214.5 212.4h0M222.3 213.3h0M231.0 210.1h0M232.6 216.4h0M234.3 210.2h0M235.4 218.2h0M241.4 210.5h0M248.4 216.4h0M249.6 215.0h0M253.0 218.1h0M262.1 215.3h0M270.8 215.6h0M273.1 208.3h0M278.8 214.8h0M290.2 212.7h0M293.9 215.4h0M304.1 208.4h0M305.8 214.0h0M314.7 212.3h0M317.0 215.7h0M322.1 213.0h0M325.6 214.5h0M330.9 213.5h0M341.9 212.9h0M351.2 215.8h0M360.1 219.3h0M363.4 216.5h0M370.5 219.0h0M373.4 218.5h0M380.2 217.0h0M401.6 214.8h0M413.4 216.1h0M418.5 214.8h0M421.5 218.0h0M429.2 222.5h0M431.3 222.2h0M442.2 224.6h0M455.6 222.3h0M465.8 221.2h0M470.5 225.0h0M476.1 225.3h0M489.0 225.4h0M492.9 229.5h0M494.7 223.2h0M496.6 226.1h0M502.4 225.1h0M504.0 227.7h0M509.1 225.4h0M521.0 226.9h0M524.2 228.8h0M526.3 224.8h0M538.1 220.1h0M539.6 221.3h0M541.3 224.6h0M545.6 223.9h0M546.8 223.7h0M553.7 223.1h0M558.5 226.9h0M570.3 232.6h0M572.3 229.2h0M581.5 225.5h0M589.8 229.1h0M592.8 232.9h0M603.1 229.3h0M607.7 234.1h0M618.0 232.7h0M650.3 228.5h0M650.7 229.3h0M669.1 232.5h0M687.2 234.7h0M688.6 232.7h0M690.5 235.6h0M697.1 240.4h0M700.3 235.8h0M735.0 242.2h0M748.4 241.4h0M749.6 245.7h0M753.8 238.1h0M763.2 241.0h0M789.3 249.2h0M790.5 250.2h0M804.3 245.2h0M822.1 246.8h0M826.4 247.4h0M828.5 252.1h0M867.1 255.8h0M874.2 255.4h0M879.5 254.1h0M882.0 257.0h0M893.1 260.1h0M898.5 255.4h0M904.2 261.2h0M911.6 257.8h0M919.1 258.4h0M929.6 256.8h0M931.1 253.6h0M934.2 259.5h0M935.3 260.1h0" stroke="#111" stroke-width="6.4"/>
<path d="M71.2 225.1h0M156.4 221.1h0M167.5 217.8h0M178.8 217.2h0M221.9 212.4h0M248.0 215.5h0M316.6 214.8h0M341.5 212.0h0M350.8 214.9h0M428.8 221.6h0M430.9 221.3h0M581.1 224.6h0M690.1 234.7h0M866.7 254.9h0" stroke="#fff" stroke-opacity="0.75" stroke-width="1.8"/>
</g>
<g stroke-linecap="round" fill="none">
<path d="M59.5 223.2h0M60.7 222.4h0M65.9 226.2h0M71.7 226.9h0M73.2 220.7h0M79.6 227.8h0M80.5 222.8h0M85.9 228.4h0M88.3 228.2h0M88.7 228.4h0M101.2 227.9h0M101.5 230.8h0M104.1 223.5h0M106.9 227.0h0M117.8 224.7h0M118.4 226.7h0M124.8 220.3h0M131.3 225.9h0M137.7 223.2h0M138.3 223.7h0M142.6 222.8h0M145.6 218.3h0M150.4 218.8h0M151.0 216.4h0M152.4 222.5h0M166.2 217.1h0M167.8 220.0h0M168.4 214.0h0M168.9 217.6h0M179.8 217.9h0M184.9 213.2h0M187.6 211.9h0M190.5 215.3h0M192.8 218.1h0M193.2 211.9h0M200.2 210.5h0M202.4 212.3h0M206.9 211.9h0M213.9 210.4h0M217.0 209.0h0M217.7 209.6h0M223.3 213.7h0M224.2 210.6h0M224.8 216.2h0M227.1 209.1h0M231.1 209.1h0M232.2 214.3h0M237.3 212.7h0M238.0 210.9h0M240.1 212.0h0M245.9 209.3h0M246.5 213.5h0M247.3 209.0h0M249.1 214.3h0M250.2 210.9h0M251.9 207.9h0M258.3 212.7h0M259.1 215.3h0M262.0 210.4h0M263.5 209.7h0M268.3 217.8h0M268.9 213.8h0M276.9 216.8h0M281.2 213.4h0M282.3 213.0h0M286.6 210.2h0M290.2 211.1h0M290.5 210.2h0M294.5 212.8h0M303.5 210.6h0M305.8 211.4h0M307.9 212.9h0M310.2 212.2h0M312.2 210.7h0M312.8 214.7h0M316.7 216.5h0M319.5 214.1h0M321.2 213.5h0M329.3 209.1h0M330.6 216.2h0M346.1 213.5h0M353.1 214.6h0M359.2 216.4h0M362.0 212.7h0M365.1 213.7h0M368.4 216.4h0M375.8 216.3h0M385.8 215.4h0M387.3 216.3h0M388.8 217.4h0M391.5 216.3h0M395.8 220.7h0M396.2 217.5h0M397.5 214.9h0M409.6 214.0h0M410.1 211.8h0M412.0 213.3h0M412.9 216.2h0M416.3 214.6h0M416.9 217.5h0M421.0 221.2h0M426.7 214.2h0M427.7 216.4h0M432.2 214.5h0M433.2 214.4h0M443.0 217.0h0M447.7 221.3h0M448.3 218.4h0M450.2 219.3h0M453.2 220.5h0M454.3 218.5h0M456.3 220.5h0M457.8 219.3h0M459.2 225.9h0M460.4 225.2h0M460.6 223.4h0M465.3 219.1h0M470.1 225.2h0M475.5 218.8h0M477.3 226.2h0M481.0 223.1h0M482.0 223.3h0M494.6 219.5h0M498.2 222.6h0M502.8 222.8h0M503.2 226.6h0M511.8 225.5h0M513.2 221.5h0M515.8 226.3h0M520.3 223.0h0M526.3 221.6h0M527.7 225.0h0M529.4 228.0h0M531.4 219.7h0M533.9 221.0h0M537.1 225.1h0M538.5 225.3h0M539.9 226.3h0M541.0 225.5h0M541.6 223.5h0M542.9 227.5h0M557.0 223.9h0M558.4 226.0h0M562.0 223.8h0M563.2 230.2h0M569.5 222.9h0M576.6 222.9h0M577.5 227.4h0M579.1 224.5h0M579.8 222.8h0M582.0 223.7h0M587.6 224.3h0M590.4 229.4h0M595.9 230.3h0M598.6 228.7h0M600.1 230.6h0M600.6 224.5h0M610.9 230.9h0M618.2 231.0h0M619.3 229.4h0M629.3 229.0h0M629.8 226.7h0M630.4 230.3h0M631.7 227.2h0M634.3 230.5h0M635.8 234.7h0M641.4 231.9h0M642.4 234.0h0M642.8 235.8h0M644.5 231.0h0M648.0 230.1h0M654.8 232.8h0M666.4 232.2h0M668.7 235.4h0M673.6 237.8h0M675.5 237.2h0M685.4 232.3h0M686.6 236.0h0M689.8 239.3h0M691.5 237.1h0M692.6 238.7h0M694.6 235.3h0M699.8 235.3h0M708.1 240.1h0M714.0 239.4h0M715.5 237.0h0M722.6 239.5h0M728.4 237.6h0M730.7 236.9h0M734.1 241.2h0M734.9 237.9h0M737.5 236.2h0M740.5 242.8h0M742.7 238.3h0M746.3 238.7h0M747.5 236.2h0M749.4 241.4h0M752.0 244.2h0M752.7 240.1h0M756.5 241.0h0M758.5 241.6h0M759.5 239.3h0M761.1 246.2h0M766.7 238.2h0M775.4 242.0h0M776.7 242.6h0M778.0 238.0h0M783.1 245.6h0M783.2 241.9h0M790.4 246.3h0M795.1 246.9h0M801.7 250.2h0M808.9 248.2h0M809.7 244.9h0M810.4 247.6h0M811.9 247.0h0M819.3 250.5h0M819.9 246.5h0M821.8 248.4h0M828.4 250.8h0M830.6 248.1h0M832.2 251.4h0M835.2 248.9h0M837.0 254.7h0M849.9 247.6h0M851.1 247.8h0M853.2 253.5h0M853.6 253.3h0M857.6 249.9h0M858.5 252.6h0M862.4 257.0h0M863.4 255.3h0M869.1 255.5h0M870.8 255.5h0M877.0 253.2h0M890.5 255.0h0M894.0 258.0h0M897.3 254.3h0M899.7 251.8h0M901.2 257.9h0M905.0 251.9h0M905.7 259.8h0M912.5 253.4h0M925.4 257.0h0M930.8 257.7h0M936.4 261.2h0" stroke="#ff0000" stroke-width="6.4"/>
<path d="M60.3 221.5h0M65.5 225.3h0M71.3 226.0h0M79.2 226.9h0M88.3 227.5h0M106.5 226.1h0M118.0 225.8h0M124.4 219.4h0M137.9 222.8h0M145.2 217.4h0M150.0 217.9h0M165.8 216.2h0M168.5 216.7h0M179.4 217.0h0M190.1 214.4h0M192.4 217.2h0M213.5 209.5h0M245.5 208.4h0M257.9 211.8h0M268.5 212.9h0M280.8 212.5h0M281.9 212.1h0M286.2 209.3h0M289.8 210.2h0M307.5 212.0h0M328.9 208.2h0M385.4 214.5h0M395.4 219.8h0M409.2 213.1h0M412.5 215.3h0M426.3 213.3h0M447.9 217.5h0M452.8 219.6h0M453.9 217.6h0M457.4 218.4h0M458.8 225.0h0M460.0 224.3h0M502.4 221.9h0M502.8 225.7h0M512.8 220.6h0M515.4 225.4h0M533.5 220.1h0M536.7 224.2h0M538.1 224.4h0M539.5 225.4h0M542.5 226.6h0M556.6 223.0h0M558.0 225.1h0M577.1 226.5h0M578.7 223.6h0M595.5 229.4h0M600.2 223.6h0M630.0 229.4h0M631.3 226.3h0M633.9 229.6h0M647.6 229.2h0M654.4 231.9h0M666.0 231.3h0M668.3 234.5h0M722.2 238.6h0M733.7 240.3h0M737.1 235.3h0M742.3 237.4h0M751.6 243.3h0M756.1 240.1h0M759.1 238.4h0M766.3 237.3h0M775.0 241.1h0M794.7 246.0h0M808.5 247.3h0M809.3 244.0h0M810.0 246.7h0M818.9 249.6h0M819.5 245.6h0M828.0 249.9h0M831.8 250.5h0M852.8 252.6h0M857.2 249.0h0M862.0 256.1h0M863.0 254.4h0M868.7 254.6h0M896.9 253.4h0M900.8 257.0h0M936.0 260.3h0" stroke="#fff" stroke-opacity="0.6" stroke-width="1.8"/>
<path d="M55.9 221.7h0M56.6 215.4h0M58.1 223.4h0M59.0 218.7h0M61.9 224.3h0M62.0 218.0h0M67.5 221.1h0M71.0 226.6h0M74.0 226.5h0M76.6 227.0h0M86.7 224.4h0M89.7 224.8h0M98.0 229.1h0M102.3 225.8h0M105.7 229.9h0M113.0 220.4h0M115.6 220.3h0M120.5 222.0h0M124.4 222.1h0M125.3 219.5h0M126.1 220.6h0M132.5 217.9h0M132.9 225.8h0M134.0 225.4h0M137.1 219.1h0M143.2 216.8h0M148.2 220.2h0M149.3 219.5h0M149.7 220.7h0M159.8 221.8h0M164.5 220.1h0M167.5 212.8h0M180.9 216.9h0M182.7 217.5h0M183.4 216.2h0M185.6 214.6h0M188.8 213.8h0M198.5 216.3h0M200.6 214.4h0M203.1 215.1h0M205.3 213.3h0M206.1 214.9h0M206.6 208.8h0M211.1 215.2h0M212.0 211.8h0M215.6 209.7h0M219.4 209.5h0M222.4 209.9h0M230.6 212.3h0M234.6 212.1h0M241.1 214.7h0M243.7 208.5h0M252.9 210.9h0M255.2 212.7h0M256.2 215.8h0M259.6 214.6h0M261.5 213.9h0M262.6 212.3h0M264.8 214.0h0M266.0 215.4h0M267.9 214.2h0M271.4 211.8h0M281.6 212.1h0M288.0 210.3h0M291.0 213.4h0M292.1 216.4h0M292.5 210.3h0M293.2 212.0h0M297.9 213.4h0M300.1 213.7h0M301.4 210.7h0M308.6 211.9h0M314.1 217.1h0M315.8 208.9h0M323.0 212.5h0M325.3 212.5h0M326.1 213.5h0M330.0 213.4h0M332.7 216.7h0M339.2 215.9h0M340.4 217.7h0M342.3 213.7h0M347.9 214.2h0M349.7 213.3h0M354.1 210.9h0M358.0 214.1h0M361.1 212.4h0M368.0 210.9h0M370.3 213.1h0M371.1 215.7h0M372.0 215.0h0M377.6 211.1h0M382.5 219.7h0M384.9 217.8h0M394.9 216.2h0M398.5 218.3h0M401.4 212.8h0M403.9 215.2h0M407.8 216.9h0M408.3 215.3h0M409.2 216.0h0M414.6 213.7h0M418.0 218.5h0M419.4 216.6h0M419.6 220.1h0M431.0 216.2h0M435.5 213.9h0M437.8 218.7h0M440.7 222.7h0M442.3 222.2h0M448.8 222.5h0M449.7 219.4h0M450.7 220.0h0M455.4 222.7h0M458.3 218.2h0M464.6 225.0h0M467.4 225.5h0M468.4 225.9h0M469.0 224.2h0M476.9 222.7h0M491.1 219.7h0M496.3 219.2h0M496.6 221.6h0M505.1 220.4h0M508.5 221.0h0M509.2 226.4h0M510.6 226.1h0M511.6 226.7h0M512.6 219.9h0M513.9 223.2h0M518.5 219.8h0M523.0 226.0h0M523.8 224.9h0M524.6 219.8h0M528.3 223.8h0M531.5 226.7h0M539.6 226.5h0M542.6 221.2h0M558.9 226.0h0M559.4 230.7h0M561.1 229.1h0M570.1 228.3h0M571.2 227.9h0M571.3 230.4h0M572.1 230.7h0M583.9 223.0h0M585.2 225.3h0M604.8 230.4h0M606.4 230.1h0M607.8 228.1h0M620.1 230.1h0M622.1 233.8h0M623.3 233.7h0M624.4 231.1h0M626.0 233.6h0M630.9 226.8h0M637.6 227.8h0M640.8 228.1h0M641.5 233.8h0M643.9 231.6h0M649.5 231.2h0M650.4 235.2h0M660.6 234.8h0M663.5 234.1h0M664.4 236.9h0M665.1 231.6h0M666.9 232.4h0M671.3 231.2h0M676.3 230.5h0M679.3 238.7h0M680.0 234.9h0M688.1 234.3h0M691.1 234.8h0M695.8 238.2h0M698.8 232.8h0M700.7 233.1h0M712.6 233.1h0M719.7 239.6h0M720.9 240.4h0M724.9 240.8h0M726.8 237.5h0M727.1 240.6h0M729.9 236.3h0M733.7 236.9h0M735.2 239.7h0M736.1 242.0h0M739.1 242.5h0M742.2 237.5h0M750.7 241.7h0M751.1 244.2h0M755.2 241.9h0M759.9 241.0h0M763.1 239.3h0M776.9 240.9h0M779.9 239.0h0M781.9 241.5h0M791.2 246.7h0M796.2 249.4h0M798.1 243.7h0M799.1 245.2h0M806.8 250.6h0M814.1 249.8h0M818.4 249.3h0M821.6 246.0h0M822.9 251.1h0M823.5 250.5h0M825.6 248.7h0M827.4 251.6h0M829.2 253.5h0M832.9 254.7h0M836.5 252.2h0M838.6 251.5h0M840.7 247.5h0M841.3 252.1h0M843.6 247.1h0M844.8 248.7h0M856.5 250.3h0M865.0 253.1h0M867.4 251.3h0M870.2 254.0h0M877.5 251.4h0M878.6 251.4h0M882.8 250.4h0M885.8 256.1h0M887.1 257.3h0M887.6 249.6h0M888.7 254.1h0M891.4 254.1h0M894.5 255.8h0M909.4 257.7h0M910.7 256.4h0M912.0 258.4h0M913.9 254.1h0M916.6 256.8h0M916.9 259.2h0M917.8 256.8h0M920.3 259.0h0M921.0 253.6h0M927.1 260.4h0M931.7 256.5h0M939.4 259.1h0M940.1 260.2h0" stroke="#ff0000" stroke-width="6.4"/>
<path d="M56.2 214.5h0M73.6 225.6h0M112.6 219.5h0M120.1 221.1h0M132.5 224.9h0M133.6 224.5h0M136.7 218.2h0M148.9 218.6h0M164.1 219.2h0M167.1 211.9h0M202.7 214.2h0M205.7 214.0h0M215.2 208.8h0M230.2 211.4h0M240.7 213.8h0M243.3 207.6h0M252.5 210.0h0M271.0 210.9h0M281.2 211.2h0M299.7 212.8h0M313.7 216.2h0M322.6 211.6h0M325.7 212.6h0M347.5 213.3h0M353.7 210.0h0M370.7 214.8h0M371.6 214.1h0M398.1 217.4h0M401.0 211.9h0M403.5 214.3h0M407.4 216.0h0M417.6 217.6h0M419.0 215.7h0M440.3 221.8h0M441.9 221.3h0M448.4 221.6h0M449.3 218.5h0M450.3 219.1h0M455.0 221.8h0M464.2 224.1h0M467.0 224.6h0M476.5 221.8h0M495.9 218.3h0M511.2 225.8h0M513.5 222.3h0M518.1 218.9h0M522.6 225.1h0M527.9 222.9h0M542.2 220.3h0M559.0 229.8h0M607.4 227.2h0M640.4 227.2h0M650.0 234.3h0M664.0 236.0h0M678.9 237.8h0M679.6 234.0h0M687.7 233.4h0M690.7 233.9h0M698.4 231.9h0M719.3 238.7h0M734.8 238.8h0M741.8 236.6h0M754.8 241.0h0M759.5 240.1h0M813.7 248.9h0M822.5 250.2h0M825.2 247.8h0M828.8 252.6h0M844.4 247.8h0M856.1 249.4h0M878.2 250.5h0M886.7 256.4h0M887.2 248.7h0M891.0 253.2h0M894.1 254.9h0M910.3 255.5h0M911.6 257.5h0M913.5 253.2h0M919.9 258.1h0M939.0 258.2h0" stroke="#fff" stroke-opacity="0.6" stroke-width="1.8"/>
<path d="M58.5 217.4h0M61.0 223.9h0M64.4 220.7h0M64.8 221.9h0M65.3 222.8h0M68.8 224.5h0M70.0 223.5h0M70.3 222.6h0M76.1 227.0h0M78.0 222.1h0M82.5 224.9h0M83.4 223.4h0M91.0 221.9h0M92.9 228.3h0M95.2 224.2h0M99.2 230.4h0M107.5 224.9h0M113.4 221.5h0M114.5 226.0h0M119.4 223.7h0M129.2 226.0h0M129.8 226.1h0M134.9 220.6h0M147.5 216.7h0M152.6 218.3h0M155.3 218.2h0M158.3 216.7h0M161.5 217.8h0M169.9 217.5h0M175.0 212.1h0M177.1 213.9h0M178.0 211.6h0M184.4 215.9h0M186.6 216.9h0M187.1 214.6h0M190.0 218.9h0M193.7 217.5h0M196.9 216.2h0M199.6 212.2h0M202.7 211.4h0M204.7 209.7h0M208.2 211.3h0M209.8 215.9h0M215.9 211.9h0M217.3 213.4h0M223.6 214.4h0M225.7 216.1h0M226.0 217.1h0M227.6 213.6h0M228.3 212.3h0M228.8 215.8h0M229.5 213.2h0M233.4 216.0h0M236.4 209.7h0M238.5 213.5h0M239.7 211.9h0M242.3 212.2h0M242.8 215.6h0M250.9 216.1h0M258.0 212.4h0M263.8 215.9h0M265.5 213.3h0M266.5 214.8h0M271.9 217.5h0M272.2 218.4h0M280.2 211.9h0M285.7 215.3h0M289.2 216.0h0M295.7 212.7h0M296.8 211.4h0M298.5 215.3h0M299.7 210.7h0M309.3 214.6h0M314.8 211.0h0M317.2 216.2h0M317.9 210.5h0M318.5 213.9h0M321.4 213.1h0M334.5 210.0h0M348.5 211.5h0M348.8 217.0h0M351.7 212.1h0M354.4 214.3h0M356.6 210.4h0M363.0 209.4h0M368.8 214.6h0M378.6 219.7h0M383.4 212.2h0M389.2 219.1h0M391.8 213.0h0M399.2 214.5h0M400.6 218.6h0M403.5 218.7h0M404.9 217.6h0M406.3 217.7h0M413.2 215.4h0M421.4 214.2h0M425.6 220.4h0M429.7 218.5h0M438.7 222.0h0M452.1 221.6h0M453.9 219.8h0M464.0 219.2h0M467.8 219.8h0M470.9 222.6h0M471.9 225.5h0M474.1 225.0h0M476.0 221.0h0M479.7 225.6h0M483.9 220.2h0M489.8 222.7h0M493.4 223.4h0M494.0 218.8h0M500.3 222.1h0M501.0 219.8h0M521.5 227.5h0M526.6 222.2h0M527.4 220.1h0M533.0 220.6h0M535.1 226.8h0M536.0 220.3h0M544.3 227.8h0M551.5 224.9h0M553.4 225.3h0M554.1 223.7h0M555.4 229.1h0M557.5 228.7h0M560.4 229.2h0M567.3 225.4h0M572.6 227.4h0M578.3 228.3h0M581.4 226.6h0M583.6 225.6h0M588.2 230.1h0M591.8 229.1h0M593.4 229.0h0M593.7 225.0h0M599.6 226.5h0M601.2 225.1h0M603.8 231.7h0M604.3 232.2h0M605.6 224.9h0M608.4 232.3h0M612.8 231.6h0M615.1 231.6h0M616.7 232.2h0M626.5 230.0h0M628.4 227.1h0M633.6 230.9h0M634.6 230.1h0M639.6 229.8h0M645.4 235.3h0M647.6 234.9h0M648.5 234.6h0M650.1 235.5h0M651.1 232.6h0M652.6 236.2h0M656.1 236.4h0M657.7 235.5h0M662.7 229.3h0M664.2 230.3h0M670.8 237.4h0M675.9 237.9h0M678.5 237.1h0M680.2 236.1h0M685.8 235.8h0M692.8 238.5h0M698.1 235.4h0M703.9 233.9h0M707.3 235.1h0M710.8 239.4h0M719.1 235.4h0M723.5 237.1h0M724.1 241.0h0M732.6 236.1h0M736.9 237.4h0M738.5 237.7h0M743.6 243.2h0M747.0 243.6h0M758.7 244.1h0M762.6 240.9h0M764.6 243.8h0M765.6 241.0h0M766.7 243.3h0M767.7 246.3h0M770.2 239.9h0M770.8 241.0h0M779.0 238.7h0M785.2 239.7h0M788.9 241.4h0M791.6 245.8h0M793.9 247.5h0M795.7 247.4h0M796.7 246.6h0M800.8 243.2h0M801.5 247.5h0M805.1 247.7h0M817.9 251.9h0M824.0 252.9h0M831.8 247.1h0M834.3 249.5h0M842.2 252.0h0M845.2 249.8h0M852.4 248.3h0M859.9 253.2h0M860.6 250.0h0M873.1 252.1h0M874.6 252.5h0M881.4 250.4h0M889.2 258.1h0M896.1 257.0h0M898.3 253.6h0M913.3 254.1h0M915.6 260.4h0M919.1 257.9h0M924.2 256.8h0M933.2 259.9h0M933.8 261.5h0M939.2 254.0h0M940.8 256.3h0" stroke="#ff0000" stroke-width="6.4"/>
<path d="M58.1 216.5h0M64.0 219.8h0M64.9 221.9h0M69.6 222.6h0M82.1 224.0h0M94.8 223.3h0M98.8 229.5h0M113.0 220.6h0M114.1 225.1h0M134.5 219.7h0M161.1 216.9h0M169.5 216.6h0M177.6 210.7h0M186.7 213.7h0M189.6 218.0h0M199.2 211.3h0M207.8 210.4h0M209.4 215.0h0M215.5 211.0h0M216.9 212.5h0M223.2 213.5h0M225.3 215.2h0M228.4 214.9h0M233.0 215.1h0M238.1 212.6h0M263.4 215.0h0M288.8 215.1h0M296.4 210.5h0M308.9 213.7h0M316.8 215.3h0M334.1 209.1h0M348.1 210.6h0M383.0 211.3h0M388.8 218.2h0M391.4 212.1h0M400.2 217.7h0M404.5 216.7h0M405.9 216.8h0M412.8 214.5h0M421.0 213.3h0M425.2 219.5h0M438.3 221.1h0M453.5 218.9h0M463.6 218.3h0M467.4 218.9h0M470.5 221.7h0M471.5 224.6h0M473.7 224.1h0M493.6 217.9h0M521.1 226.6h0M527.0 219.2h0M551.1 224.0h0M553.7 222.8h0M555.0 228.2h0M572.2 226.5h0M587.8 229.2h0M593.0 228.1h0M599.2 225.6h0M600.8 224.2h0M608.0 231.4h0M612.4 230.7h0M614.7 230.7h0M626.1 229.1h0M649.7 234.6h0M652.2 235.3h0M678.1 236.2h0M679.8 235.2h0M703.5 233.0h0M710.4 238.5h0M718.7 234.5h0M723.7 240.1h0M738.1 236.8h0M758.3 243.2h0M762.2 240.0h0M770.4 240.1h0M778.6 237.8h0M791.2 244.9h0M795.3 246.5h0M804.7 246.8h0M831.4 246.2h0M844.8 248.9h0M860.2 249.1h0M888.8 257.2h0M895.7 256.1h0M915.2 259.5h0M940.4 255.4h0" stroke="#fff" stroke-opacity="0.6" stroke-width="1.8"/>
<path d="M66.9 221.6h0M74.9 219.4h0M75.6 227.4h0M79.8 223.1h0M81.8 225.0h0M83.9 220.4h0M84.3 221.3h0M85.1 225.6h0M87.9 227.3h0M91.6 222.8h0M96.1 230.9h0M96.8 224.8h0M105.4 229.6h0M108.1 227.8h0M115.1 225.1h0M116.4 225.1h0M120.2 224.2h0M122.0 221.7h0M127.7 220.6h0M130.8 223.6h0M136.6 221.9h0M139.6 222.3h0M141.8 224.5h0M147.0 220.5h0M156.8 215.5h0M159.4 217.2h0M163.8 214.0h0M164.8 218.5h0M171.4 211.9h0M194.4 212.8h0M195.9 213.2h0M196.5 216.5h0M201.6 211.0h0M204.3 209.0h0M209.0 214.7h0M213.8 211.8h0M221.3 216.9h0M230.2 210.4h0M235.1 214.1h0M236.0 213.6h0M240.4 211.1h0M243.1 214.2h0M244.5 215.3h0M245.5 209.9h0M251.2 214.9h0M257.4 210.1h0M270.5 214.2h0M272.8 218.1h0M275.0 212.2h0M277.9 209.4h0M279.2 209.0h0M280.7 208.8h0M284.4 215.0h0M286.4 211.8h0M287.6 211.8h0M293.6 211.6h0M305.2 211.5h0M315.2 215.6h0M320.7 214.8h0M324.4 211.3h0M324.7 214.2h0M328.6 216.7h0M331.3 210.6h0M332.0 210.5h0M334.8 213.3h0M335.6 209.9h0M336.8 212.6h0M337.6 214.7h0M338.1 212.5h0M341.6 217.4h0M344.8 214.3h0M350.2 211.2h0M352.0 218.1h0M355.0 211.6h0M356.0 214.4h0M360.4 217.4h0M364.6 214.7h0M367.3 216.3h0M371.9 211.2h0M373.0 214.3h0M374.0 217.8h0M374.7 212.3h0M379.1 219.4h0M384.3 212.8h0M393.3 218.0h0M393.9 216.2h0M394.2 216.0h0M400.3 216.0h0M401.7 219.3h0M404.7 218.6h0M405.6 215.9h0M406.9 210.7h0M415.8 220.4h0M420.5 219.6h0M423.2 217.6h0M424.4 218.9h0M426.3 217.2h0M428.6 219.3h0M436.7 220.8h0M440.3 221.1h0M451.3 217.3h0M452.7 218.0h0M457.0 225.3h0M459.9 221.4h0M462.1 225.1h0M466.0 223.8h0M466.7 220.6h0M475.1 222.9h0M479.0 222.9h0M480.6 224.8h0M484.9 221.5h0M486.3 218.5h0M489.1 219.3h0M491.7 218.7h0M492.3 225.2h0M495.5 225.2h0M501.2 223.6h0M501.8 223.0h0M503.8 222.6h0M504.3 218.4h0M517.4 227.2h0M522.3 227.1h0M523.3 223.5h0M529.8 225.8h0M532.3 220.6h0M535.2 225.3h0M546.8 222.1h0M547.8 226.4h0M548.3 225.6h0M549.9 229.0h0M554.3 223.1h0M563.0 226.9h0M563.7 224.8h0M567.5 228.2h0M574.3 226.0h0M574.9 229.9h0M577.9 227.6h0M582.8 228.0h0M588.6 225.1h0M589.1 229.6h0M591.5 229.0h0M594.1 231.8h0M595.7 230.0h0M597.7 225.9h0M598.3 230.5h0M601.8 230.0h0M606.8 227.2h0M609.9 231.2h0M611.4 230.7h0M614.8 232.6h0M619.5 230.2h0M622.6 227.3h0M627.3 229.1h0M627.9 231.4h0M637.0 232.8h0M638.1 227.9h0M638.9 230.1h0M639.1 231.0h0M659.4 237.0h0M660.3 229.5h0M661.4 232.1h0M669.7 230.5h0M672.4 230.8h0M672.7 236.5h0M674.2 232.9h0M674.7 230.8h0M677.1 237.3h0M681.7 232.0h0M685.0 237.9h0M689.2 235.8h0M694.8 236.1h0M702.1 237.5h0M703.1 236.8h0M704.4 235.5h0M705.5 240.5h0M709.9 234.2h0M713.5 234.9h0M715.5 236.4h0M716.5 233.1h0M717.6 240.5h0M718.4 240.0h0M719.9 233.8h0M730.5 243.2h0M731.4 241.2h0M732.3 236.7h0M738.2 235.7h0M741.3 236.3h0M745.2 236.9h0M760.7 239.9h0M762.0 238.3h0M768.5 244.2h0M772.6 240.1h0M773.1 243.8h0M774.9 243.9h0M778.5 240.9h0M780.3 238.7h0M782.5 243.1h0M789.2 243.5h0M792.8 243.7h0M793.5 244.3h0M797.3 242.5h0M800.2 250.9h0M804.5 243.3h0M811.3 246.5h0M812.6 250.4h0M813.4 251.0h0M814.3 246.5h0M815.9 250.9h0M824.7 254.0h0M824.9 251.3h0M827.9 250.7h0M830.1 247.9h0M839.3 251.5h0M841.8 253.5h0M844.3 253.9h0M846.2 249.0h0M846.6 251.1h0M847.1 254.5h0M850.6 250.0h0M851.8 253.6h0M856.8 249.5h0M858.2 257.2h0M859.4 253.8h0M861.4 249.4h0M864.7 251.0h0M865.7 251.1h0M872.2 256.2h0M872.7 253.5h0M879.8 253.0h0M882.0 256.0h0M886.5 252.8h0M892.2 253.1h0M893.6 257.7h0M896.9 255.9h0M899.5 258.2h0M900.6 254.4h0M903.2 256.7h0M904.3 257.3h0M906.8 251.8h0M908.0 255.6h0M919.4 258.3h0M924.7 261.4h0M925.7 255.0h0M927.7 255.5h0M935.0 253.7h0M935.7 259.1h0M937.5 260.3h0" stroke="#ff0000" stroke-width="6.4"/>
<path d="M75.2 226.5h0M84.7 224.7h0M87.5 226.4h0M91.2 221.9h0M95.7 230.0h0M114.7 224.2h0M119.8 223.3h0M139.2 221.4h0M146.6 219.6h0M194.0 211.9h0M240.0 210.2h0M245.1 209.0h0M272.4 217.2h0M277.5 208.5h0M278.8 208.1h0M280.3 207.9h0M287.2 210.9h0M314.8 214.7h0M324.0 210.4h0M324.3 213.3h0M334.4 212.4h0M336.4 211.7h0M344.4 213.4h0M372.6 213.4h0M383.9 211.9h0M392.9 217.1h0M405.2 215.0h0M406.5 209.8h0M422.8 216.7h0M466.3 219.7h0M478.6 222.0h0M485.9 217.6h0M488.7 218.4h0M491.3 217.8h0M495.1 224.3h0M503.4 221.7h0M521.9 226.2h0M529.4 224.9h0M531.9 219.7h0M567.1 227.3h0M573.9 225.1h0M595.3 229.1h0M609.5 230.3h0M611.0 229.8h0M619.1 229.3h0M626.9 228.2h0M627.5 230.5h0M636.6 231.9h0M637.7 227.0h0M672.3 235.6h0M674.3 229.9h0M681.3 231.1h0M694.4 235.2h0M719.5 232.9h0M731.0 240.3h0M731.9 235.8h0M737.8 234.8h0M740.9 235.4h0M744.8 236.0h0M760.3 239.0h0M761.6 237.4h0M768.1 243.3h0M792.4 242.8h0M793.1 243.4h0M796.9 241.6h0M804.1 242.4h0M813.0 250.1h0M815.5 250.0h0M824.5 250.4h0M846.2 250.2h0M846.7 253.6h0M857.8 256.3h0M861.0 248.5h0M864.3 250.1h0M871.8 255.3h0M879.4 252.1h0M881.6 255.1h0M886.1 251.9h0M899.1 257.3h0M900.2 253.5h0M924.3 260.5h0M934.6 252.8h0" stroke="#fff" stroke-opacity="0.6" stroke-width="1.8"/>
<path d="M57.5 217.8h0M63.2 218.7h0M68.2 223.5h0M74.1 224.4h0M77.5 222.3h0M78.8 220.2h0M81.6 227.1h0M91.8 224.8h0M93.4 226.8h0M94.5 223.9h0M99.5 224.9h0M100.0 224.2h0M108.6 222.7h0M111.1 221.6h0M111.9 221.8h0M116.5 224.9h0M121.4 227.4h0M122.7 226.9h0M123.4 226.6h0M127.1 222.5h0M128.9 223.9h0M132.1 223.0h0M134.2 222.9h0M135.8 220.1h0M140.8 217.9h0M141.3 220.2h0M143.9 217.7h0M145.1 217.8h0M151.3 219.9h0M153.6 215.9h0M154.8 218.9h0M157.7 220.1h0M161.1 222.4h0M162.2 214.1h0M162.6 217.4h0M172.6 218.7h0M173.3 217.8h0M175.3 217.7h0M177.3 217.7h0M179.1 216.6h0M180.9 214.8h0M183.9 215.2h0M191.4 216.5h0M191.8 215.5h0M197.7 216.9h0M208.0 213.7h0M210.5 210.2h0M211.3 209.9h0M212.9 213.6h0M219.7 209.6h0M220.3 209.7h0M221.5 209.5h0M233.7 211.6h0M247.5 208.0h0M248.1 208.3h0M253.2 214.5h0M254.7 211.4h0M256.7 210.0h0M260.8 211.1h0M267.3 215.7h0M269.9 215.4h0M275.5 216.4h0M276.2 209.6h0M277.2 211.6h0M278.4 210.2h0M283.3 211.3h0M284.0 216.2h0M295.3 212.8h0M298.8 214.0h0M302.0 212.4h0M303.0 215.7h0M304.0 214.9h0M304.8 212.3h0M311.8 211.0h0M313.2 210.3h0M323.8 215.0h0M326.6 216.1h0M327.3 213.7h0M338.7 214.5h0M339.9 214.8h0M341.1 213.2h0M343.8 218.1h0M344.5 216.4h0M346.0 213.6h0M352.6 216.4h0M357.4 210.4h0M358.5 214.0h0M359.5 213.1h0M361.8 213.6h0M363.6 217.1h0M364.2 215.9h0M366.2 211.9h0M366.5 213.5h0M376.4 212.3h0M377.9 211.6h0M381.8 215.2h0M386.5 219.1h0M386.6 215.2h0M389.9 212.9h0M390.5 216.2h0M392.7 214.5h0M398.8 218.0h0M411.3 212.0h0M415.5 213.0h0M429.3 218.2h0M430.8 222.3h0M433.8 217.5h0M434.2 217.5h0M439.5 215.7h0M441.0 221.3h0M442.1 214.5h0M444.6 217.8h0M445.4 218.8h0M446.4 215.0h0M461.6 218.4h0M462.9 225.9h0M469.7 218.9h0M472.3 226.7h0M477.7 222.0h0M478.8 226.1h0M482.5 223.8h0M484.2 218.5h0M486.9 225.5h0M490.4 224.7h0M505.7 223.9h0M506.2 220.2h0M509.5 220.0h0M510.3 219.3h0M514.4 219.6h0M519.6 225.3h0M543.8 227.4h0M545.8 226.2h0M549.4 225.5h0M550.9 222.0h0M556.2 222.2h0M560.9 224.8h0M564.4 224.5h0M573.4 223.1h0M575.2 223.0h0M580.3 225.5h0M582.3 228.5h0M585.9 227.9h0M586.9 227.1h0M592.3 229.7h0M597.1 230.9h0M603.2 229.3h0M611.9 226.2h0M613.4 231.7h0M625.0 232.6h0M632.5 234.9h0M632.9 231.1h0M651.9 236.4h0M654.0 233.4h0M661.8 231.1h0M666.1 236.6h0M667.9 232.5h0M668.1 231.2h0M678.1 236.7h0M680.7 234.4h0M684.0 234.3h0M688.7 238.1h0M693.7 238.7h0M696.2 232.7h0M696.6 237.7h0M697.4 238.2h0M701.6 234.5h0M702.6 234.8h0M706.9 233.8h0M708.7 237.0h0M711.2 239.5h0M711.8 237.6h0M716.8 235.2h0M721.6 239.0h0M725.2 235.4h0M725.6 242.4h0M727.5 239.7h0M728.9 243.2h0M741.7 235.6h0M750.1 239.6h0M755.4 238.4h0M764.9 244.4h0M769.2 242.6h0M769.3 241.2h0M771.3 242.1h0M773.8 237.8h0M781.2 239.0h0M786.5 240.2h0M787.3 247.6h0M790.0 242.5h0M792.1 244.2h0M802.4 245.4h0M803.3 244.5h0M807.9 244.4h0M810.0 245.1h0M815.0 246.9h0M817.2 252.1h0M820.8 245.8h0M826.3 247.2h0M834.6 248.8h0M837.9 247.1h0M840.1 247.2h0M848.3 252.4h0M848.5 250.6h0M849.1 249.6h0M854.9 249.6h0M861.8 252.8h0M863.7 256.8h0M866.7 257.1h0M866.8 258.0h0M868.2 252.2h0M869.8 256.1h0M871.3 253.1h0M875.5 252.0h0M875.9 251.6h0M880.1 252.5h0M883.6 252.7h0M885.0 251.2h0M889.9 252.5h0M891.1 254.0h0M902.6 254.6h0M910.0 255.0h0M911.4 256.8h0M914.3 260.1h0M915.1 260.8h0M921.3 256.8h0M929.6 255.5h0M932.1 256.9h0M932.7 257.2h0M937.0 259.9h0" stroke="#ff0000" stroke-width="6.4"/>
<path d="M78.4 219.3h0M93.0 225.9h0M94.1 223.0h0M99.1 224.0h0M99.6 223.3h0M108.2 221.8h0M110.7 220.7h0M116.1 224.0h0M128.5 223.0h0M133.8 222.0h0M140.9 219.3h0M143.5 216.8h0M154.4 218.0h0M161.8 213.2h0M172.2 217.8h0M180.5 213.9h0M191.0 215.6h0M207.6 212.8h0M210.1 209.3h0M210.9 209.0h0M247.7 207.4h0M252.8 213.6h0M254.3 210.5h0M260.4 210.2h0M298.4 213.1h0M304.4 211.4h0M311.4 210.1h0M323.4 214.1h0M326.9 212.8h0M338.3 213.6h0M339.5 213.9h0M357.0 209.5h0M358.1 213.1h0M365.8 211.0h0M381.4 214.3h0M386.2 214.3h0M389.5 212.0h0M415.1 212.1h0M433.8 216.6h0M444.2 216.9h0M445.0 217.9h0M477.3 221.1h0M482.1 222.9h0M483.8 217.6h0M490.0 223.8h0M509.1 219.1h0M509.9 218.4h0M514.0 218.7h0M543.4 226.5h0M549.0 224.6h0M550.5 221.1h0M560.5 223.9h0M564.0 223.6h0M581.9 227.6h0M591.9 228.8h0M624.6 231.7h0M632.1 234.0h0M665.7 235.7h0M667.7 230.3h0M688.3 237.2h0M701.2 233.6h0M710.8 238.6h0M725.2 241.5h0M755.0 237.5h0M764.5 243.5h0M780.8 238.1h0M791.7 243.3h0M802.9 243.6h0M866.3 256.2h0M866.4 257.1h0M869.4 255.2h0M870.9 252.2h0M875.5 250.7h0M879.7 251.6h0M884.6 250.3h0M890.7 253.1h0M902.2 253.7h0M911.0 255.9h0M929.2 254.6h0" stroke="#fff" stroke-opacity="0.6" stroke-width="1.8"/>
<path d="M63.5 224.2h0M69.6 224.5h0M72.5 224.2h0M86.3 222.1h0M89.8 221.9h0M94.1 225.5h0M96.9 227.9h0M98.3 229.8h0M103.0 223.4h0M103.8 224.8h0M105.0 230.0h0M109.3 229.8h0M109.6 227.2h0M110.4 223.9h0M112.1 227.4h0M117.5 222.0h0M123.1 220.9h0M128.3 221.4h0M138.8 218.1h0M140.0 216.5h0M144.6 221.3h0M146.5 215.8h0M153.8 216.5h0M156.2 220.7h0M157.2 217.0h0M160.3 214.1h0M165.6 218.7h0M166.8 216.7h0M170.4 213.7h0M171.8 218.3h0M173.9 213.9h0M174.3 216.8h0M176.0 219.1h0M179.0 216.1h0M181.8 214.7h0M188.4 218.7h0M189.5 212.8h0M195.0 211.9h0M198.7 211.9h0M214.5 210.2h0M218.4 213.5h0M232.6 213.0h0M236.7 208.3h0M249.3 208.5h0M253.8 210.2h0M260.2 208.7h0M273.8 216.1h0M274.5 217.8h0M285.2 211.1h0M289.0 212.4h0M296.6 215.7h0M300.8 208.2h0M306.5 214.6h0M307.2 216.3h0M309.9 210.1h0M311.0 210.1h0M319.1 213.4h0M322.6 211.6h0M327.7 209.5h0M333.3 216.6h0M333.9 216.9h0M336.1 212.1h0M342.9 214.4h0M347.2 214.0h0M351.0 213.7h0M369.6 216.3h0M373.8 213.3h0M376.6 218.0h0M379.6 218.0h0M380.6 216.8h0M381.2 213.8h0M383.1 213.0h0M388.2 215.1h0M397.0 213.8h0M402.6 219.3h0M411.1 214.7h0M413.8 212.1h0M418.5 219.0h0M422.5 221.9h0M423.6 216.2h0M424.5 215.4h0M427.3 216.0h0M431.7 214.1h0M435.0 214.4h0M436.1 219.9h0M437.4 215.2h0M443.7 219.7h0M445.2 215.3h0M447.0 215.8h0M456.0 223.1h0M463.4 223.7h0M473.1 219.4h0M473.2 220.1h0M482.7 226.1h0M485.8 221.8h0M487.3 219.4h0M487.9 225.1h0M488.6 218.7h0M494.8 220.3h0M497.8 224.2h0M499.0 226.0h0M499.8 222.5h0M506.8 220.0h0M507.5 223.6h0M515.4 224.6h0M516.7 222.6h0M517.8 225.1h0M519.2 223.6h0M521.2 221.2h0M525.5 223.0h0M530.3 224.6h0M534.4 222.4h0M536.9 219.9h0M537.8 225.2h0M540.5 223.2h0M545.2 224.6h0M546.4 221.9h0M549.1 225.5h0M551.7 221.8h0M552.5 228.0h0M555.5 227.2h0M565.1 227.5h0M566.1 229.6h0M566.5 228.7h0M568.3 230.6h0M568.8 224.4h0M575.9 222.4h0M585.0 230.1h0M590.1 229.6h0M594.9 231.3h0M602.6 228.6h0M609.1 229.6h0M609.7 225.0h0M613.7 231.0h0M616.0 232.7h0M617.2 228.0h0M617.7 226.3h0M621.0 233.3h0M621.4 230.0h0M625.3 227.5h0M635.7 232.4h0M644.8 233.1h0M645.9 234.6h0M647.0 228.1h0M653.2 235.7h0M654.3 236.6h0M655.5 230.2h0M657.0 228.6h0M658.5 229.7h0M658.9 229.6h0M670.3 237.2h0M682.3 237.4h0M683.1 235.4h0M683.6 233.2h0M687.2 236.8h0M690.3 236.9h0M699.6 238.7h0M705.2 239.3h0M706.6 240.1h0M709.7 233.1h0M714.6 241.2h0M722.1 238.9h0M740.1 237.1h0M744.1 242.9h0M745.8 240.6h0M747.9 239.8h0M748.5 237.9h0M753.1 242.0h0M754.0 243.8h0M754.2 243.2h0M756.6 241.2h0M757.2 244.0h0M764.0 239.4h0M772.1 241.8h0M775.9 244.9h0M784.0 242.1h0M784.5 242.4h0M786.0 247.2h0M787.6 246.9h0M798.9 249.1h0M803.5 248.6h0M805.5 244.0h0M806.3 246.4h0M807.7 247.2h0M816.7 248.6h0M818.6 247.1h0M829.4 252.7h0M833.3 251.5h0M836.0 249.8h0M842.9 247.3h0M854.6 254.4h0M855.5 252.2h0M873.8 257.3h0M876.5 255.4h0M879.1 252.8h0M881.0 255.8h0M883.8 253.3h0M884.9 250.2h0M893.1 252.8h0M895.3 255.0h0M898.7 251.5h0M901.8 254.1h0M903.4 251.6h0M906.2 254.6h0M907.8 254.5h0M908.7 260.2h0M918.0 257.7h0M922.3 254.2h0M922.8 260.9h0M923.3 259.4h0M926.5 258.8h0M928.1 255.4h0M929.2 261.1h0M930.1 254.9h0M935.2 257.7h0M938.7 256.9h0" stroke="#ff0000" stroke-width="6.4"/>
<path d="M63.1 223.3h0M85.9 221.2h0M89.4 221.0h0M102.6 222.5h0M109.2 226.3h0M127.9 220.5h0M138.4 217.2h0M139.6 215.6h0M144.2 220.4h0M146.1 214.9h0M165.2 217.8h0M166.4 215.8h0M170.0 212.8h0M173.5 213.0h0M173.9 215.9h0M181.4 213.8h0M194.6 211.0h0M198.3 211.0h0M232.2 212.1h0M236.3 207.4h0M253.4 209.3h0M274.1 216.9h0M309.5 209.2h0M322.2 210.7h0M373.4 212.4h0M379.2 217.1h0M387.8 214.2h0M418.1 218.1h0M435.7 219.0h0M443.3 218.8h0M444.8 214.4h0M472.7 218.5h0M472.8 219.2h0M486.9 218.5h0M487.5 224.2h0M499.4 221.6h0M515.0 223.7h0M525.1 222.1h0M529.9 223.7h0M534.0 221.5h0M536.5 219.0h0M544.8 223.7h0M555.1 226.3h0M564.7 226.6h0M566.1 227.8h0M567.9 229.7h0M568.4 223.5h0M594.5 230.4h0M602.2 227.7h0M608.7 228.7h0M609.3 224.1h0M615.6 231.8h0M617.3 225.4h0M620.6 232.4h0M646.6 227.2h0M656.6 227.7h0M681.9 236.5h0M682.7 234.5h0M686.8 235.9h0M689.9 236.0h0M699.2 237.8h0M709.3 232.2h0M714.2 240.3h0M745.4 239.7h0M756.8 243.1h0M775.5 244.0h0M783.6 241.2h0M785.6 246.3h0M805.9 245.5h0M818.2 246.2h0M829.0 251.8h0M835.6 248.9h0M876.1 254.5h0M878.7 251.9h0M892.7 251.9h0M905.8 253.7h0M917.6 256.8h0M922.4 260.0h0M938.3 256.0h0" stroke="#fff" stroke-opacity="0.6" stroke-width="1.8"/>
</g>
</g>
<!-- spikes -->
<g clip-path="url(#pc)">
<path d="M289.5 110.9V142.4" stroke="#ff00ff" stroke-width="1.2"/>
<circle cx="289.5" cy="110.9" r="3.2" fill="#ff00ff"/><circle cx="289.1" cy="110.0" r="0.95" fill="#fff" fill-opacity="0.85"/>
<circle cx="289.5" cy="142.4" r="3.2" fill="#ff00ff"/><circle cx="289.1" cy="141.5" r="0.95" fill="#fff" fill-opacity="0.85"/>
<path d="M374.7 105.5V145.0" stroke="#ff00ff" stroke-width="1.2"/>
<circle cx="374.7" cy="105.5" r="3.2" fill="#ff00ff"/><circle cx="374.3" cy="104.6" r="0.95" fill="#fff" fill-opacity="0.85"/>
<circle cx="374.7" cy="145.0" r="3.2" fill="#ff00ff"/><circle cx="374.3" cy="144.1" r="0.95" fill="#fff" fill-opacity="0.85"/>
<path d="M289.5 169.2V180" stroke="#7a0a00" stroke-width="1.2"/>
<circle cx="289.5" cy="169.2" r="3.2" fill="#7a0a00"/><circle cx="289.1" cy="168.29999999999998" r="0.95" fill="#fff" fill-opacity="0.85"/>
<circle cx="289.5" cy="172.0" r="3.2" fill="#0000f8"/><circle cx="289.1" cy="171.1" r="0.95" fill="#fff" fill-opacity="0.85"/>
<path d="M374.8 166.8V180" stroke="#7a0a00" stroke-width="1.2"/>
<circle cx="374.8" cy="166.8" r="3.2" fill="#7a0a00"/><circle cx="374.40000000000003" cy="165.9" r="0.95" fill="#fff" fill-opacity="0.85"/>
<circle cx="374.8" cy="171.6" r="3.2" fill="#0000f8"/><circle cx="374.40000000000003" cy="170.7" r="0.95" fill="#fff" fill-opacity="0.85"/>
<circle cx="61.6" cy="211" r="3.2" fill="#111"/><circle cx="61.2" cy="210.1" r="0.95" fill="#fff" fill-opacity="0.85"/>
<circle cx="61.6" cy="208" r="3.2" fill="#ff0000"/><circle cx="61.2" cy="207.1" r="0.95" fill="#fff" fill-opacity="0.85"/>
<circle cx="218.5" cy="201.2" r="3.2" fill="#ff0000"/><circle cx="218.1" cy="200.29999999999998" r="0.95" fill="#fff" fill-opacity="0.85"/>
<circle cx="342.5" cy="202" r="3.2" fill="#ff0000"/><circle cx="342.1" cy="201.1" r="0.95" fill="#fff" fill-opacity="0.85"/>
<path d="M405.5 199V211" stroke="#ff0000" stroke-width="1.2"/>
<circle cx="405.5" cy="201" r="3.2" fill="#111"/><circle cx="405.1" cy="200.1" r="0.95" fill="#fff" fill-opacity="0.85"/>
<circle cx="405.5" cy="198.5" r="3.2" fill="#ff0000"/><circle cx="405.1" cy="197.6" r="0.95" fill="#fff" fill-opacity="0.85"/>
<circle cx="654.5" cy="221.9" r="3.2" fill="#111"/><circle cx="654.1" cy="221.0" r="0.95" fill="#fff" fill-opacity="0.85"/>
<circle cx="56.2" cy="174.2" r="3.2" fill="#0000f8"/><circle cx="55.800000000000004" cy="173.29999999999998" r="0.95" fill="#fff" fill-opacity="0.85"/>
<circle cx="56.4" cy="177" r="3.2" fill="#0000f8"/><circle cx="56.0" cy="176.1" r="0.95" fill="#fff" fill-opacity="0.85"/>
<circle cx="56.6" cy="181" r="3.2" fill="#0000f8"/><circle cx="56.2" cy="180.1" r="0.95" fill="#fff" fill-opacity="0.85"/>
<circle cx="57" cy="196.3" r="3.2" fill="#7a0a00"/><circle cx="56.6" cy="195.4" r="0.95" fill="#fff" fill-opacity="0.85"/>
<circle cx="56.2" cy="195" r="3.2" fill="#0000f8"/><circle cx="55.800000000000004" cy="194.1" r="0.95" fill="#fff" fill-opacity="0.85"/>
<circle cx="56.3" cy="201" r="3.2" fill="#0000f8"/><circle cx="55.9" cy="200.1" r="0.95" fill="#fff" fill-opacity="0.85"/>
<circle cx="56.5" cy="215" r="3.2" fill="#ff0000"/><circle cx="56.1" cy="214.1" r="0.95" fill="#fff" fill-opacity="0.85"/>
<circle cx="56.8" cy="224" r="3.2" fill="#ff0000"/><circle cx="56.4" cy="223.1" r="0.95" fill="#fff" fill-opacity="0.85"/>
<circle cx="56.6" cy="229" r="3.2" fill="#ff0000"/><circle cx="56.2" cy="228.1" r="0.95" fill="#fff" fill-opacity="0.85"/>
<circle cx="56.9" cy="234" r="3.2" fill="#ff0000"/><circle cx="56.5" cy="233.1" r="0.95" fill="#fff" fill-opacity="0.85"/>
<circle cx="56.3" cy="218.2" r="3.2" fill="#0000f8"/><circle cx="55.9" cy="217.29999999999998" r="0.95" fill="#fff" fill-opacity="0.85"/>
<circle cx="783.5" cy="233.2" r="3.2" fill="#111"/><circle cx="783.1" cy="232.29999999999998" r="0.95" fill="#fff" fill-opacity="0.85"/>
<circle cx="783.5" cy="235.2" r="3.2" fill="#ff0000"/><circle cx="783.1" cy="234.29999999999998" r="0.95" fill="#fff" fill-opacity="0.85"/>
</g>
<!-- arrows -->
<g stroke="#000" stroke-width="1.25" fill="none">
<path d="M121.5 178.5V162H66"/>
<path d="M867.3 147V166.2H928"/>
</g>
<path d="M61 162L67.5 159.7L67.5 164.3Z" fill="#000"/>
<path d="M933.6 166.2L927 163.9L927 168.5Z" fill="#000"/>
<!-- frame -->
<rect x="55.1" y="87.2" width="886.8" height="216.2" fill="none" stroke="#000" stroke-width="1.7"/>
<g stroke="#000" stroke-width="1.3">
<path d="M202.90 303.4v-2.2"/>
<path d="M350.70 303.4v-4"/>
<path d="M498.50 303.4v-2.2"/>
<path d="M646.30 303.4v-4"/>
<path d="M794.10 303.4v-2.2"/>
<path d="M55.1 276.38h2.2"/>
<path d="M55.1 249.35h4"/>
<path d="M55.1 222.32h2.2"/>
<path d="M55.1 195.30h4"/>
<path d="M55.1 168.27h2.2"/>
<path d="M55.1 141.25h4"/>
<path d="M55.1 114.22h2.2"/>
<path d="M941.9 281.78h-2.2"/>
<path d="M941.9 260.16h-4"/>
<path d="M941.9 238.54h-2.2"/>
<path d="M941.9 216.92h-4"/>
<path d="M941.9 195.30h-2.2"/>
<path d="M941.9 173.68h-4"/>
<path d="M941.9 152.06h-2.2"/>
<path d="M941.9 130.44h-4"/>
<path d="M941.9 108.82h-2.2"/>
</g>
<g class="t" font-size="14">
<text x="50" y="309.4" text-anchor="end">0</text>
<text x="50" y="255.3" text-anchor="end">100</text>
<text x="50" y="201.3" text-anchor="end">200</text>
<text x="50" y="147.2" text-anchor="end">300</text>
<text x="50" y="93.2" text-anchor="end">400</text>
<text x="947" y="309.4">0</text>
<text x="947" y="266.2">25</text>
<text x="947" y="222.9">50</text>
<text x="947" y="179.7">75</text>
<text x="947" y="136.4">100</text>
<text x="947" y="93.2">125</text>
<text x="55.1" y="320.0" text-anchor="middle">0</text>
<text x="350.7" y="320.0" text-anchor="middle">2000</text>
<text x="646.3" y="320.0" text-anchor="middle">4000</text>
<text x="941.9" y="320.0" text-anchor="middle">6000</text>
</g>
<text class="t" font-size="18.4" x="498.3" y="332" text-anchor="middle">Cycle number</text>
<text class="t" font-size="18.6" transform="translate(23,195.5) rotate(-90)" text-anchor="middle">Capacity/(mAh·g<tspan font-size="12.5" dy="-7.5">-1</tspan><tspan dy="7.5">)</tspan></text>
<text class="t" font-size="18.6" transform="translate(983.4,195.5) rotate(-90)" text-anchor="middle">Coulombic efficiency/%</text>
<!-- legend -->
<path d="M79.6 261.8H107.4" stroke="#000" stroke-width="1.6"/><circle cx="93.5" cy="261.8" r="3.2" fill="#000"/><circle cx="93.0" cy="261.0" r="1.0" fill="#fff" fill-opacity="0.85"/>
<path d="M79.6 276.9H107.4" stroke="#7a0a00" stroke-width="1.6"/><circle cx="93.5" cy="276.9" r="3.2" fill="#7a0a00"/><circle cx="93.0" cy="276.09999999999997" r="1.0" fill="#fff" fill-opacity="0.85"/>
<path d="M112.8 261.8H140.4" stroke="#ff0000" stroke-width="1.6"/><circle cx="126.6" cy="261.8" r="3.2" fill="#ff0000"/><circle cx="126.1" cy="261.0" r="1.0" fill="#fff" fill-opacity="0.85"/>
<path d="M112.8 276.9H140.4" stroke="#0000f8" stroke-width="1.6"/><circle cx="126.6" cy="276.9" r="3.2" fill="#0000f8"/><circle cx="126.1" cy="276.09999999999997" r="1.0" fill="#fff" fill-opacity="0.85"/>
<path d="M146.4 261.8H173.6" stroke="#8a20f0" stroke-width="1.6"/><circle cx="160.0" cy="261.8" r="3.2" fill="#8a20f0"/><circle cx="159.5" cy="261.0" r="1.0" fill="#fff" fill-opacity="0.85"/>
<path d="M146.4 276.9H173.6" stroke="#ff00ff" stroke-width="1.6"/><circle cx="160.0" cy="276.9" r="3.2" fill="#ff00ff"/><circle cx="159.5" cy="276.09999999999997" r="1.0" fill="#fff" fill-opacity="0.85"/>
<text class="t" font-size="13.5" x="180" y="267">CaVO</text>
<text class="t" font-size="13.5" x="180" y="282">CaVO/PANI</text>
<text class="t" font-size="13.5" x="618.3" y="281" letter-spacing="0.3">Unit: 10 A g<tspan font-size="9.5" dy="-5.5">-1</tspan></text>
<!-- inset -->
<g id="inset">
<rect x="313.2" y="233.5" width="40" height="55.2" fill="#d3e6c4"/>
<rect x="313.2" y="233.5" width="7.6" height="55.2" fill="#619b3e"/>
<rect x="345.5" y="233.5" width="7.7" height="55.2" fill="#619b3e"/>
<path d="M350.1 256.6V279.2" stroke="#e6f2dc" stroke-width="0.9"/>
<path d="M348.6 262.5H350.1M348.6 270.5H350.1" stroke="#e6f2dc" stroke-width="0.8"/>
<circle cx="334.65" cy="245.6" r="6.1" fill="#f4f8dc"/>
<circle cx="334.65" cy="245.6" r="5.2" fill="#2a5fc0"/>
<text x="334.8" y="249.3" font-family="Liberation Serif,serif" font-weight="bold" font-size="10.5" fill="#fff" text-anchor="middle">V</text>
<g stroke="#111" stroke-width="1.2" fill="none">
<path d="M300 245.8H323.2"/>
<path d="M300.7 266.1H326.5"/>
<path d="M300.7 282.4H315"/>
</g>
<path d="M297.3 245.8L301.5 243.9V247.7Z" fill="#111"/>
<path d="M329.6 266.1L325.4 264.2V268Z" fill="#111"/>
<path d="M318 282.4L313.8 280.5V284.3Z" fill="#111"/>
<path d="M304.1 243.3L309.3 248.5M309.3 243.3L304.1 248.5" stroke="#f01818" stroke-width="2"/>
<!-- rods -->
<g stroke-linecap="butt" fill="none">
<g id="rodA">
<path d="M367.5 261.1L429.8 247.7" stroke="#1e3510" stroke-width="6"/>
<path d="M367.7 260.4L429.6 247.0" stroke="#5f9d3a" stroke-width="4.2"/>
<path d="M367.9 259.5L429.4 246.2" stroke="#a9dc82" stroke-width="1.2"/>
</g>
<g id="rodC">
<path d="M424.8 237.5L394.4 288.2" stroke="#1e3510" stroke-width="6"/>
<path d="M425.3 238.1L395.0 288.6" stroke="#64a43c" stroke-width="4.2"/>
<path d="M425.9 238.6L395.6 289.1" stroke="#b0e28a" stroke-width="1.2"/>
</g>
<g id="rodB">
<path d="M378.0 239.8L413.9 282.3" stroke="#0f1a08" stroke-width="6.2"/>
<path d="M379.0 238.9L414.9 281.4" stroke="#62a03c" stroke-width="3.4"/>
<path d="M379.5 238.5L415.4 281.0" stroke="#addf86" stroke-width="1.1"/>
</g>
</g>
<g stroke="#f00" stroke-width="1.1" fill="none">
<path d="M353.3 233.6L392.9 259.2"/>
<path d="M353.3 288.6L393.3 263.6"/>
</g>
<circle cx="395.4" cy="261.1" r="3.1" fill="none" stroke="#f00" stroke-width="1.2"/>
<text class="s" font-size="12" x="263.8" y="269">CaVO</text>
<text class="s" font-size="12" x="265.6" y="287.3">PANI</text>
<text class="s" font-size="12" x="399.8" y="292.9">CaVO/PANI</text>
<text class="s" font-size="11" x="355.8" y="278.6">e<tspan font-size="8" dy="-5">-</tspan></text>
</g>

</svg>
</body></html>
